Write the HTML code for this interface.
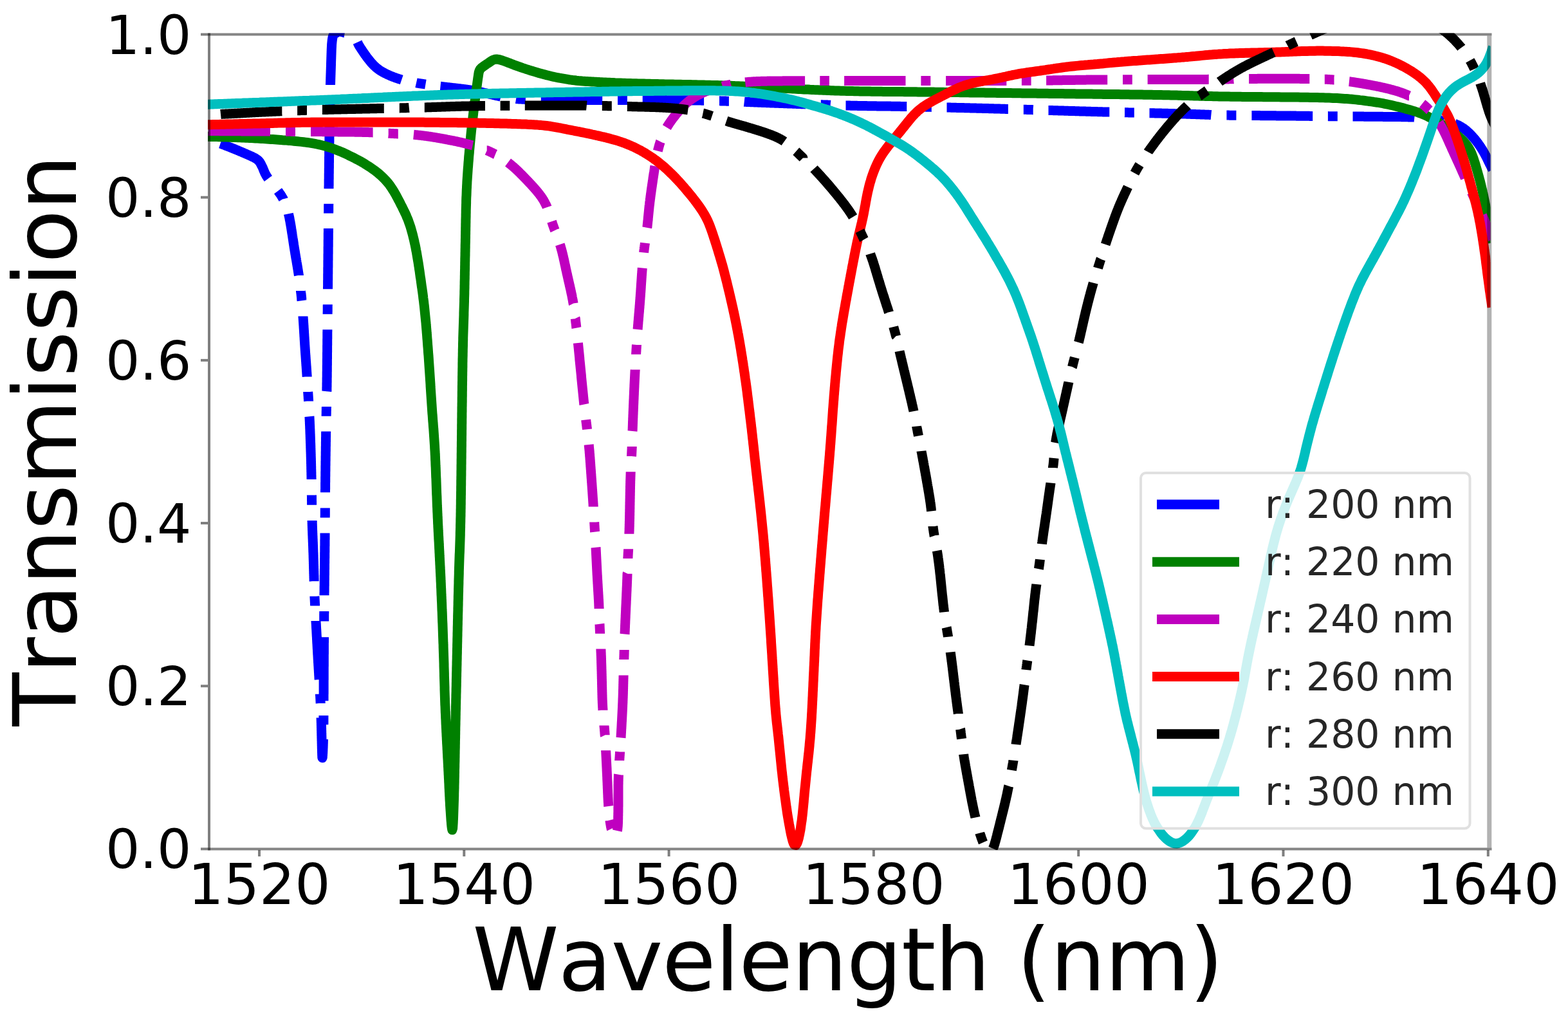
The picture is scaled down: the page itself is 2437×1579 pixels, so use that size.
<!DOCTYPE html>
<html><head><meta charset="utf-8"><title>Transmission vs Wavelength</title>
<style>
html,body{margin:0;padding:0;background:#fff;}
body{width:2437px;height:1579px;overflow:hidden;}
svg{display:block;}
text{font-family:"DejaVu Sans","Liberation Sans",sans-serif;font-kerning:none;}
</style></head>
<body>
<svg width="2437" height="1579" viewBox="0 0 2437 1579" xmlns="http://www.w3.org/2000/svg">
<defs><clipPath id="ax"><rect x="323" y="51.5" width="1993.5" height="1269.5"/></clipPath></defs>
<rect x="0" y="0" width="2437" height="1579" fill="#ffffff"/>
<g clip-path="url(#ax)">
<path d="M316.0,214.0 L316.0,214.0 L317.0,214.3 L317.9,214.6 L318.9,214.9 L319.8,215.2 M342.5,223.1 L342.5,223.1 L343.4,223.4 L344.4,223.8 L345.3,224.1 L346.2,224.5 L347.2,224.8 L348.1,225.2 L349.0,225.5 L350.0,225.9 L350.9,226.3 L351.8,226.6 L352.8,227.0 L353.7,227.4 L354.6,227.7 L355.6,228.1 L356.5,228.5 L357.4,228.8 L358.3,229.2 L359.3,229.6 L360.2,229.9 L361.1,230.3 L362.0,230.7 L363.0,231.1 L363.9,231.4 L364.8,231.8 L365.8,232.2 L366.7,232.6 L367.6,233.0 L368.5,233.3 L369.5,233.7 L370.4,234.1 L371.3,234.5 L372.2,234.9 L373.1,235.3 L374.1,235.6 L375.0,236.0 L375.9,236.4 L376.8,236.8 L377.7,237.2 L378.6,237.6 L379.5,238.0 L380.4,238.4 L381.4,238.8 L382.3,239.2 L383.2,239.6 L384.1,240.0 L385.0,240.4 L386.0,240.8 L386.9,241.2 L387.8,241.6 L388.7,242.0 L389.6,242.4 L390.5,242.8 L391.4,243.2 L392.3,243.6 L393.2,244.1 L394.1,244.5 L395.0,245.0 L395.8,245.4 L396.7,245.9 L397.5,246.4 L398.4,247.0 L399.2,247.5 L400.0,248.1 L400.7,248.7 L401.5,249.4 L402.2,250.1 L402.8,250.8 L403.5,251.6 L404.0,252.4 L404.5,253.2 L405.0,254.1 L405.5,255.0 L405.9,255.9 L406.3,256.8 L406.8,257.7 L407.3,258.5 L407.7,259.4 L408.2,260.3 L408.6,261.3 L408.9,262.2 L409.3,263.1 L409.7,264.1 L410.0,265.0 L410.4,265.9 L410.8,266.8 L411.2,267.7 L411.6,268.7 L412.0,269.6 L412.5,270.4 L413.0,271.3 L413.4,272.2 L413.9,273.1 L414.5,273.9 L415.0,274.8 L415.5,275.6 L416.1,276.4 L416.6,277.2 L416.9,277.6 M432.0,296.7 L432.0,296.7 L432.6,297.5 L433.2,298.3 L433.7,299.1 L434.3,299.9 L434.9,300.7 L435.5,301.5 L436.0,302.3 L436.5,303.1 L437.1,303.9 L437.6,304.8 L438.1,305.6 L438.6,306.5 L439.1,307.3 L439.6,308.2 L440.1,309.0 L440.2,309.4 M448.4,332.2 L448.4,332.2 L448.6,333.2 L448.8,334.1 L449.0,335.1 L449.3,336.1 L449.5,337.1 L449.7,338.0 L449.9,339.0 L450.1,340.0 L450.2,341.0 L450.4,341.9 L450.6,342.9 L450.8,343.9 L451.0,344.9 L451.2,345.9 L451.3,346.9 L451.5,347.8 L451.7,348.8 L451.8,349.8 L452.0,350.8 L452.2,351.8 L452.3,352.8 L452.5,353.8 L452.7,354.8 L452.8,355.7 L453.0,356.7 L453.1,357.7 L453.3,358.7 L453.4,359.7 L453.6,360.7 L453.7,361.7 L453.9,362.7 L454.1,363.6 L454.2,364.6 L454.4,365.6 L454.5,366.6 L454.7,367.6 L454.8,368.6 L455.0,369.6 L455.1,370.6 L455.3,371.6 L455.4,372.5 L455.6,373.5 L455.7,374.5 L455.9,375.5 L456.0,376.5 L456.2,377.5 L456.3,378.5 L456.5,379.5 L456.6,380.4 L456.8,381.4 L456.9,382.4 L457.1,383.4 L457.2,384.4 L457.4,385.4 L457.6,386.4 L457.7,387.4 L457.9,388.3 L458.0,389.3 L458.2,390.3 L458.4,391.3 L458.5,392.3 L458.7,393.3 L458.8,394.3 L459.0,395.3 L459.2,396.2 L459.3,397.2 L459.5,398.2 L459.7,399.2 L459.8,400.2 L460.0,401.2 L460.2,402.2 L460.4,403.1 L460.5,404.1 L460.7,405.1 L460.9,406.1 L461.0,407.1 L461.2,408.1 L461.4,409.1 L461.5,410.0 L461.7,411.0 L461.9,412.0 L462.0,413.0 L462.2,414.0 L462.4,415.0 L462.5,416.0 L462.7,416.9 L462.8,417.9 L463.0,418.9 L463.2,419.9 L463.3,420.9 L463.5,421.9 L463.6,422.9 L463.8,423.9 L463.9,424.8 L464.1,425.8 L464.2,426.8 L464.4,427.8 L464.4,428.0 M467.5,452.1 L467.5,452.6 L467.6,453.6 L467.7,454.6 L467.9,455.6 L468.0,456.6 L468.1,457.6 L468.2,458.6 L468.3,459.6 L468.4,460.6 L468.5,461.6 L468.6,462.6 L468.7,463.6 L468.7,464.6 L468.8,465.5 L468.9,466.5 L469.0,467.2 M471.0,491.5 L471.0,491.5 L471.0,492.5 L471.1,493.5 L471.2,494.5 L471.2,495.5 L471.3,496.4 L471.4,497.4 L471.4,498.4 L471.5,499.4 L471.6,500.4 L471.6,501.4 L471.7,502.4 L471.8,503.4 L471.8,504.4 L471.9,505.4 L472.0,506.4 L472.0,507.4 L472.1,508.4 L472.1,509.4 L472.2,510.4 L472.3,511.4 L472.3,512.4 L472.4,513.4 L472.5,514.4 L472.5,515.4 L472.6,516.4 L472.6,517.4 L472.7,518.4 L472.8,519.4 L472.8,520.4 L472.9,521.4 L472.9,522.4 L473.0,523.4 L473.1,524.4 L473.1,525.4 L473.2,526.4 L473.2,527.4 L473.3,528.4 L473.4,529.4 L473.4,530.4 L473.5,531.4 L473.6,532.4 L473.6,533.4 L473.7,534.4 L473.7,535.4 L473.8,536.4 L473.9,537.4 L473.9,538.4 L474.0,539.4 L474.1,540.4 L474.1,541.4 L474.2,542.4 L474.3,543.4 L474.3,544.4 L474.4,545.4 L474.5,546.4 L474.5,547.4 L474.6,548.4 L474.7,549.3 L474.7,550.3 L474.8,551.3 L474.9,552.3 L475.0,553.3 L475.0,554.3 L475.1,555.3 L475.2,556.3 L475.2,557.3 L475.3,558.3 L475.4,559.3 L475.4,560.3 L475.5,561.3 L475.6,562.3 L475.7,563.3 L475.7,564.3 L475.8,565.3 L475.9,566.3 L475.9,567.3 L476.0,568.3 L476.1,569.3 L476.2,570.3 L476.2,571.3 L476.3,572.3 L476.4,573.3 L476.4,574.3 L476.5,575.3 L476.6,576.3 L476.6,577.3 L476.7,578.3 L476.8,579.3 L476.8,580.3 L476.9,581.3 L477.0,582.3 L477.0,583.3 L477.1,584.3 L477.2,585.3 L477.2,585.5 M478.7,609.0 L478.7,609.2 L478.8,610.2 L478.8,611.2 L478.9,612.2 L479.0,613.2 L479.0,614.2 L479.1,615.2 L479.2,616.2 L479.2,617.2 L479.3,618.2 L479.3,619.2 L479.4,620.2 L479.5,621.2 L479.5,622.2 L479.6,623.2 L479.6,623.6 M480.9,647.2 L480.9,647.2 L481.0,648.2 L481.0,649.2 L481.1,650.2 L481.1,651.2 L481.2,652.2 L481.2,653.2 L481.3,654.2 L481.3,655.2 L481.4,656.2 L481.4,657.2 L481.4,658.2 L481.5,659.2 L481.5,660.1 L481.6,661.1 L481.6,662.1 L481.7,663.1 L481.7,664.1 L481.7,665.1 L481.8,666.1 L481.8,667.1 L481.9,668.1 L481.9,669.1 L481.9,670.1 L482.0,671.1 L482.0,672.1 L482.0,673.1 L482.1,674.1 L482.1,675.1 L482.2,676.1 L482.2,677.1 L482.2,678.1 L482.3,679.1 L482.3,680.1 L482.3,681.1 L482.4,682.1 L482.4,683.1 L482.4,684.1 L482.5,685.1 L482.5,686.1 L482.5,687.1 L482.6,688.1 L482.6,689.1 L482.7,690.1 L482.7,691.1 L482.7,692.1 L482.8,693.1 L482.8,694.1 L482.8,695.1 L482.8,696.1 L482.9,697.1 L482.9,698.1 L482.9,699.1 L483.0,700.1 L483.0,701.1 L483.0,702.1 L483.1,703.1 L483.1,704.1 L483.1,705.1 L483.2,706.1 L483.2,707.1 L483.2,708.1 L483.2,709.1 L483.3,710.1 L483.3,711.1 L483.3,712.1 L483.4,713.1 L483.4,714.1 L483.4,715.1 L483.4,716.1 L483.5,717.1 L483.5,718.1 L483.5,719.1 L483.5,720.1 L483.6,721.1 L483.6,722.1 L483.6,723.1 L483.6,724.1 L483.7,725.1 L483.7,726.1 L483.7,727.1 L483.7,728.1 L483.7,729.1 L483.8,730.1 L483.8,731.1 L483.8,732.1 L483.8,733.1 L483.9,734.1 L483.9,735.1 L483.9,736.1 L483.9,737.1 L483.9,738.1 L484.0,739.1 L484.0,740.1 L484.0,741.1 L484.0,742.1 L484.0,743.1 L484.1,744.1 L484.1,744.9 M484.4,769.4 L484.4,770.1 L484.5,771.1 L484.5,772.1 L484.5,773.1 L484.5,774.1 L484.5,775.1 L484.5,776.1 L484.5,777.1 L484.5,778.1 L484.6,779.1 L484.6,780.1 L484.6,781.1 L484.6,782.1 L484.6,783.1 L484.6,784.1 L484.6,784.7 M485.1,809.1 L485.1,809.1 L485.1,810.1 L485.2,811.1 L485.2,812.1 L485.2,813.1 L485.2,814.1 L485.3,815.1 L485.3,816.1 L485.3,817.1 L485.4,818.1 L485.4,819.1 L485.4,820.1 L485.5,821.1 L485.5,822.1 L485.5,823.1 L485.6,824.1 L485.6,825.1 L485.7,826.1 L485.7,827.1 L485.7,828.1 L485.8,829.1 L485.8,830.1 L485.8,831.1 L485.9,832.1 L485.9,833.1 L486.0,834.1 L486.0,835.1 L486.0,836.1 L486.1,837.1 L486.1,838.1 L486.2,839.1 L486.2,840.1 L486.2,841.1 L486.3,842.1 L486.3,843.1 L486.4,844.1 L486.4,845.1 L486.4,846.1 L486.5,847.1 L486.5,848.1 L486.6,849.1 L486.6,850.1 L486.6,851.1 L486.7,852.1 L486.7,853.1 L486.7,854.1 L486.8,855.1 L486.8,856.1 L486.8,857.1 L486.9,858.1 L486.9,859.1 L487.0,860.1 L487.0,861.1 L487.0,862.1 L487.1,863.1 L487.1,864.1 L487.1,865.1 L487.1,866.1 L487.2,867.1 L487.2,868.1 L487.2,869.1 L487.3,870.1 L487.3,871.1 L487.3,872.1 L487.4,873.1 L487.4,874.1 L487.4,875.1 L487.4,876.1 L487.5,877.1 L487.5,878.1 L487.5,879.1 L487.6,880.1 L487.6,881.1 L487.6,882.1 L487.6,883.1 L487.7,884.1 L487.7,885.1 L487.7,886.1 L487.7,887.1 L487.8,888.1 L487.8,889.1 L487.8,890.1 L487.8,891.1 L487.9,892.1 L487.9,893.1 L487.9,894.1 L488.0,895.1 L488.0,896.1 L488.0,897.1 L488.0,898.1 L488.1,899.1 L488.1,900.1 L488.1,901.1 L488.1,902.1 L488.2,903.1 L488.2,903.3 M488.9,926.8 L488.9,927.1 L489.0,928.1 L489.0,929.1 L489.1,930.1 L489.1,931.1 L489.2,932.1 L489.2,933.1 L489.3,934.1 L489.3,935.1 L489.4,936.1 L489.4,937.1 L489.5,938.1 L489.5,939.1 L489.6,940.1 L489.6,941.1 L489.6,941.5 M491.0,965.0 L491.0,965.0 L491.0,966.0 L491.1,967.0 L491.1,968.0 L491.2,969.0 L491.3,970.0 L491.3,971.0 L491.4,972.0 L491.4,973.0 L491.5,974.0 L491.5,975.0 L491.6,976.0 L491.6,977.0 L491.7,978.0 L491.8,979.0 L491.8,980.0 L491.9,981.0 L491.9,982.0 L492.0,983.0 L492.0,984.0 L492.1,985.0 L492.1,986.0 L492.2,987.0 L492.2,988.0 L492.3,989.0 L492.4,990.0 L492.4,991.0 L492.5,992.0 L492.5,993.0 L492.6,994.0 L492.6,995.0 L492.7,996.0 L492.7,997.0 L492.8,998.0 L492.8,999.0 L492.9,1000.0 L493.0,1001.0 L493.0,1002.0 L493.1,1003.0 L493.1,1004.0 L493.2,1005.0 L493.2,1006.0 L493.3,1007.0 L493.3,1008.0 L493.4,1009.0 L493.5,1010.0 L493.5,1011.0 L493.6,1012.0 L493.6,1013.0 L493.7,1014.0 L493.7,1015.0 L493.8,1016.0 L493.8,1016.9 L493.9,1017.9 L494.0,1018.9 L494.0,1019.9 L494.1,1020.9 L494.1,1021.9 L494.2,1022.9 L494.2,1023.9 L494.3,1024.9 L494.4,1025.9 L494.4,1026.9 L494.5,1027.9 L494.5,1028.9 L494.6,1029.9 L494.7,1030.9 L494.7,1031.9 L494.8,1032.9 L494.8,1033.9 L494.9,1034.9 L495.0,1035.9 L495.0,1036.9 L495.1,1037.9 L495.1,1038.9 L495.2,1039.9 L495.3,1040.9 L495.3,1041.9 L495.4,1042.9 L495.4,1043.9 L495.5,1044.9 L495.6,1045.9 L495.6,1046.9 L495.7,1047.9 L495.7,1048.9 L495.8,1049.9 L495.9,1050.9 L495.9,1051.9 L496.0,1052.9 L496.0,1053.9 L496.1,1054.9 L496.2,1055.9 L496.2,1055.9 M497.5,1078.7 L497.5,1078.9 L497.5,1079.9 L497.6,1080.9 L497.6,1081.8 L497.7,1082.8 L497.7,1083.8 L497.8,1084.8 L497.8,1085.8 L497.9,1086.8 L497.9,1087.8 L498.0,1088.8 L498.0,1089.8 L498.1,1090.8 L498.1,1091.8 L498.2,1092.8 L498.2,1092.9 M499.1,1115.6 L499.1,1115.8 L499.1,1116.8 L499.2,1117.8 L499.2,1118.8 L499.2,1119.8 L499.3,1120.8 L499.3,1121.8 L499.3,1122.8 L499.4,1123.8 L499.4,1124.8 L499.4,1125.8 L499.4,1126.8 L499.5,1127.8 L499.5,1128.8 L499.5,1129.8 L499.5,1130.8 L499.6,1131.8 L499.6,1132.8 L499.6,1133.8 L499.6,1134.8 L499.7,1135.8 L499.7,1136.8 L499.7,1137.8 L499.7,1138.8 L499.8,1139.8 L499.8,1140.8 L499.8,1141.8 L499.8,1142.8 L499.9,1143.8 L499.9,1144.8 L499.9,1145.8 L499.9,1146.8 L500.0,1147.8 L500.0,1148.8 L500.0,1149.8 L500.0,1150.8 L500.1,1151.8 L500.1,1152.8 L500.1,1153.8 L500.1,1154.8 L500.2,1155.8 L500.2,1156.8 L500.2,1157.8 L500.2,1158.8 L500.3,1159.8 L500.3,1160.8 L500.3,1161.8 L500.3,1162.8 L500.4,1163.8 L500.4,1164.8 L500.4,1165.8 L500.4,1166.8 L500.5,1167.8 L500.5,1168.8 L500.5,1169.8 L500.6,1170.8 L500.6,1171.8 L500.6,1172.8 L500.7,1173.8 L500.7,1174.8 L500.8,1175.8 L500.8,1176.8 L500.9,1177.8 L501.2,1177.2 L501.3,1176.2 L501.3,1175.2 L501.4,1174.2 L501.5,1173.2 L501.5,1172.2 L501.6,1171.2 L501.7,1170.3 L501.7,1169.3 L501.8,1168.3 L501.8,1167.3 L501.9,1166.3 L501.9,1165.3 L501.9,1164.3 L502.0,1163.3 L502.0,1162.3 L502.1,1161.3 L502.1,1160.3 L502.1,1159.3 L502.2,1158.2 L502.2,1157.3 L502.2,1156.3 L502.3,1155.3 L502.3,1154.3 L502.3,1153.2 L502.4,1152.2 L502.4,1151.2 L502.4,1150.2 L502.4,1149.2 L502.4,1149.0 M502.8,1126.3 L502.8,1125.3 L502.9,1124.3 L502.9,1123.3 L502.9,1122.3 L502.9,1121.3 L502.9,1120.3 L502.9,1119.3 L502.9,1118.3 L502.9,1117.3 L502.9,1116.3 L502.9,1115.3 L502.9,1114.3 L502.9,1113.3 L502.9,1112.3 L502.9,1112.0 M503.0,1089.3 L503.0,1089.3 L503.0,1088.3 L503.0,1087.3 L503.0,1086.3 L503.0,1085.3 L503.0,1084.3 L503.0,1083.3 L503.0,1082.3 L503.0,1081.3 L503.0,1080.3 L503.0,1079.3 L503.1,1078.3 L503.1,1077.3 L503.1,1076.3 L503.1,1075.3 L503.1,1074.3 L503.1,1073.3 L503.1,1072.3 L503.1,1071.3 L503.1,1070.3 L503.1,1069.3 L503.1,1068.3 L503.1,1067.3 L503.1,1066.3 L503.1,1065.3 L503.1,1064.3 L503.1,1063.3 L503.1,1062.3 L503.1,1061.3 L503.1,1060.3 L503.1,1059.3 L503.1,1058.3 L503.1,1057.3 L503.2,1056.3 L503.2,1055.3 L503.2,1054.3 L503.2,1053.3 L503.2,1052.3 L503.2,1051.3 L503.2,1050.3 L503.2,1049.3 L503.2,1048.3 L503.2,1047.3 L503.2,1046.3 L503.2,1045.3 L503.2,1044.3 L503.2,1043.3 L503.2,1042.3 L503.2,1041.3 L503.2,1040.3 L503.2,1039.3 L503.2,1038.3 L503.2,1037.3 L503.2,1036.3 L503.3,1035.3 L503.3,1034.3 L503.3,1033.3 L503.3,1032.3 L503.3,1031.3 L503.3,1030.3 L503.3,1029.3 L503.3,1028.3 L503.3,1027.3 L503.3,1026.3 L503.3,1025.3 L503.3,1024.3 L503.3,1023.3 L503.3,1022.3 L503.3,1021.3 L503.3,1020.3 L503.3,1019.3 L503.3,1018.3 L503.3,1017.3 L503.4,1016.3 L503.4,1015.3 L503.4,1014.3 L503.4,1013.3 L503.4,1012.3 L503.4,1011.3 L503.4,1010.3 L503.4,1009.3 L503.4,1008.3 L503.4,1007.3 L503.4,1006.3 L503.4,1005.3 L503.4,1004.3 L503.4,1003.3 L503.4,1002.3 L503.4,1001.3 L503.4,1000.3 L503.4,999.3 L503.5,998.3 L503.5,997.3 L503.5,996.3 L503.5,995.3 L503.5,994.3 L503.5,993.3 L503.5,992.3 L503.5,991.3 L503.5,990.3 L503.5,990.2 M503.7,965.5 L503.7,965.3 L503.7,964.3 L503.7,963.3 L503.7,962.3 L503.7,961.3 L503.7,960.3 L503.7,959.3 L503.7,958.3 L503.7,957.3 L503.7,956.3 L503.7,955.3 L503.7,954.3 L503.8,953.3 L503.8,952.3 L503.8,951.3 L503.8,950.3 L503.8,950.0 M504.0,925.3 L504.0,925.3 L504.0,924.3 L504.0,923.3 L504.0,922.3 L504.0,921.3 L504.1,920.3 L504.1,919.3 L504.1,918.3 L504.1,917.3 L504.1,916.3 L504.1,915.3 L504.1,914.3 L504.1,913.3 L504.1,912.3 L504.1,911.3 L504.2,910.3 L504.2,909.3 L504.2,908.2 L504.2,907.2 L504.2,906.2 L504.2,905.2 L504.2,904.2 L504.2,903.2 L504.2,902.2 L504.3,901.2 L504.3,900.2 L504.3,899.2 L504.3,898.2 L504.3,897.2 L504.3,896.2 L504.3,895.2 L504.3,894.2 L504.4,893.2 L504.4,892.2 L504.4,891.2 L504.4,890.2 L504.4,889.2 L504.4,888.2 L504.4,887.2 L504.4,886.2 L504.4,885.2 L504.5,884.2 L504.5,883.2 L504.5,882.2 L504.5,881.2 L504.5,880.2 L504.5,879.2 L504.5,878.2 L504.5,877.2 L504.5,876.2 L504.6,875.2 L504.6,874.2 L504.6,873.2 L504.6,872.2 L504.6,871.2 L504.6,870.2 L504.6,869.2 L504.6,868.2 L504.7,867.2 L504.7,866.2 L504.7,865.2 L504.7,864.2 L504.7,863.2 L504.7,862.2 L504.7,861.2 L504.7,860.2 L504.7,859.2 L504.8,858.2 L504.8,857.2 L504.8,856.2 L504.8,855.2 L504.8,854.2 L504.8,853.2 L504.8,852.2 L504.8,851.2 L504.8,850.2 L504.8,849.2 L504.9,848.2 L504.9,847.2 L504.9,846.2 L504.9,845.2 L504.9,844.2 L504.9,843.2 L504.9,842.2 L504.9,841.2 L504.9,840.2 L504.9,839.2 L505.0,838.2 L505.0,837.2 L505.0,836.2 L505.0,835.2 L505.0,834.2 L505.0,833.2 L505.0,832.2 L505.0,831.2 L505.0,830.2 L505.0,829.2 L505.0,828.6 M505.2,804.5 L505.2,804.2 L505.2,803.2 L505.2,802.2 L505.3,801.2 L505.3,800.2 L505.3,799.2 L505.3,798.2 L505.3,797.2 L505.3,796.2 L505.3,795.2 L505.3,794.2 L505.3,793.2 L505.3,792.2 L505.3,791.2 L505.3,790.2 L505.3,789.4 M505.5,765.2 L505.5,765.2 L505.5,764.2 L505.5,763.2 L505.5,762.2 L505.5,761.2 L505.6,760.2 L505.6,759.2 L505.6,758.2 L505.6,757.2 L505.6,756.2 L505.6,755.2 L505.6,754.2 L505.6,753.2 L505.6,752.2 L505.6,751.2 L505.6,750.2 L505.7,749.2 L505.7,748.2 L505.7,747.2 L505.7,746.2 L505.7,745.2 L505.7,744.2 L505.7,743.2 L505.7,742.2 L505.7,741.2 L505.8,740.2 L505.8,739.2 L505.8,738.2 L505.8,737.2 L505.8,736.2 L505.8,735.2 L505.8,734.2 L505.8,733.2 L505.9,732.2 L505.9,731.2 L505.9,730.2 L505.9,729.2 L505.9,728.2 L505.9,727.2 L505.9,726.2 L505.9,725.2 L505.9,724.2 L506.0,723.2 L506.0,722.2 L506.0,721.2 L506.0,720.2 L506.0,719.2 L506.0,718.2 L506.0,717.2 L506.1,716.2 L506.1,715.2 L506.1,714.2 L506.1,713.2 L506.1,712.2 L506.1,711.2 L506.1,710.2 L506.1,709.2 L506.2,708.2 L506.2,707.2 L506.2,706.2 L506.2,705.2 L506.2,704.2 L506.2,703.2 L506.2,702.2 L506.3,701.2 L506.3,700.2 L506.3,699.2 L506.3,698.2 L506.3,697.2 L506.3,696.2 L506.3,695.2 L506.3,694.2 L506.4,693.2 L506.4,692.2 L506.4,691.2 L506.4,690.2 L506.4,689.2 L506.4,688.2 L506.4,687.2 L506.5,686.2 L506.5,685.2 L506.5,684.2 L506.5,683.2 L506.5,682.2 L506.5,681.2 L506.5,680.2 L506.6,679.2 L506.6,678.2 L506.6,677.2 L506.6,676.2 L506.6,675.2 L506.6,674.2 L506.6,673.2 L506.7,672.2 L506.7,671.2 L506.7,670.4 M507.1,646.7 L507.1,646.2 L507.1,645.2 L507.1,644.2 L507.2,643.2 L507.2,642.2 L507.2,641.2 L507.2,640.2 L507.2,639.2 L507.3,638.2 L507.3,637.2 L507.3,636.2 L507.3,635.2 L507.3,634.2 L507.4,633.2 L507.4,632.2 L507.4,631.9 M507.8,608.2 L507.8,608.2 L507.9,607.2 L507.9,606.2 L507.9,605.2 L507.9,604.2 L507.9,603.2 L507.9,602.2 L508.0,601.2 L508.0,600.2 L508.0,599.2 L508.0,598.2 L508.0,597.2 L508.0,596.2 L508.0,595.2 L508.1,594.2 L508.1,593.2 L508.1,592.2 L508.1,591.2 L508.1,590.2 L508.1,589.2 L508.1,588.2 L508.1,587.2 L508.2,586.2 L508.2,585.2 L508.2,584.2 L508.2,583.2 L508.2,582.2 L508.2,581.2 L508.2,580.2 L508.2,579.2 L508.2,578.2 L508.3,577.2 L508.3,576.2 L508.3,575.2 L508.3,574.2 L508.3,573.2 L508.3,572.2 L508.3,571.2 L508.3,570.2 L508.3,569.2 L508.3,568.2 L508.4,567.2 L508.4,566.2 L508.4,565.2 L508.4,564.2 L508.4,563.2 L508.4,562.2 L508.4,561.2 L508.4,560.2 L508.4,559.2 L508.4,558.2 L508.5,557.2 L508.5,556.2 L508.5,555.2 L508.5,554.2 L508.5,553.2 L508.5,552.2 L508.5,551.2 L508.5,550.2 L508.5,549.2 L508.5,548.2 L508.6,547.2 L508.6,546.2 L508.6,545.2 L508.6,544.2 L508.6,543.2 L508.6,542.2 L508.6,541.2 L508.6,540.2 L508.6,539.2 L508.6,538.2 L508.6,537.2 L508.7,536.2 L508.7,535.2 L508.7,534.2 L508.7,533.2 L508.7,532.2 L508.7,531.2 L508.7,530.2 L508.7,529.2 L508.7,528.2 L508.7,527.2 L508.8,526.2 L508.8,525.2 L508.8,524.2 L508.8,523.2 L508.8,522.2 L508.8,521.2 L508.8,520.2 L508.8,519.2 L508.8,518.2 L508.8,517.2 L508.8,516.2 L508.9,515.2 L508.9,514.2 L508.9,513.2 L508.9,512.2 L508.9,512.2 M509.1,488.2 L509.1,487.2 L509.1,486.2 L509.1,485.2 L509.2,484.2 L509.2,483.2 L509.2,482.2 L509.2,481.2 L509.2,480.2 L509.2,479.2 L509.2,478.2 L509.2,477.2 L509.2,476.2 L509.2,475.2 L509.3,474.2 L509.3,473.2 L509.3,473.2 M509.5,449.2 L509.5,449.2 L509.5,448.2 L509.5,447.2 L509.5,446.2 L509.6,445.2 L509.6,444.2 L509.6,443.2 L509.6,442.2 L509.6,441.2 L509.6,440.2 L509.6,439.2 L509.6,438.2 L509.6,437.2 L509.6,436.2 L509.7,435.2 L509.7,434.2 L509.7,433.2 L509.7,432.2 L509.7,431.2 L509.7,430.2 L509.7,429.2 L509.7,428.2 L509.7,427.2 L509.7,426.2 L509.8,425.2 L509.8,424.2 L509.8,423.2 L509.8,422.2 L509.8,421.2 L509.8,420.2 L509.8,419.2 L509.8,418.2 L509.8,417.2 L509.8,416.2 L509.9,415.2 L509.9,414.2 L509.9,413.2 L509.9,412.2 L509.9,411.2 L509.9,410.2 L509.9,409.2 L509.9,408.2 L509.9,407.2 L509.9,406.2 L509.9,405.2 L510.0,404.2 L510.0,403.2 L510.0,402.2 L510.0,401.2 L510.0,400.2 L510.0,399.2 L510.0,398.2 L510.0,397.2 L510.0,396.2 L510.0,395.2 L510.1,394.2 L510.1,393.2 L510.1,392.2 L510.1,391.2 L510.1,390.2 L510.1,389.2 L510.1,388.2 L510.1,387.2 L510.1,386.2 L510.1,385.2 L510.1,384.2 L510.2,383.2 L510.2,382.2 L510.2,381.2 L510.2,380.2 L510.2,379.2 L510.2,378.2 L510.2,377.2 L510.2,376.2 L510.2,375.2 L510.2,374.2 L510.2,373.2 L510.3,372.2 L510.3,371.2 L510.3,370.2 L510.3,369.2 L510.3,368.2 L510.3,367.2 L510.3,366.2 L510.3,365.2 L510.3,364.2 L510.3,363.2 L510.3,362.2 L510.4,361.2 L510.4,360.2 L510.4,359.2 L510.4,358.2 L510.4,357.2 L510.4,356.2 L510.4,355.2 L510.4,355.0 M510.6,331.5 L510.6,331.2 L510.6,330.2 L510.7,329.2 L510.7,328.2 L510.7,327.2 L510.7,326.2 L510.7,325.2 L510.7,324.2 L510.7,323.2 L510.7,322.2 L510.7,321.2 L510.7,320.2 L510.7,319.2 L510.8,318.2 L510.8,317.2 L510.8,316.7 M511.0,293.2 L511.0,293.2 L511.0,292.2 L511.0,291.2 L511.0,290.2 L511.0,289.2 L511.1,288.2 L511.1,287.2 L511.1,286.2 L511.1,285.2 L511.1,284.2 L511.1,283.2 L511.1,282.2 L511.1,281.2 L511.1,280.2 L511.1,279.2 L511.2,278.2 L511.2,277.2 L511.2,276.2 L511.2,275.2 L511.2,274.2 L511.2,273.2 L511.2,272.2 L511.2,271.2 L511.2,270.2 L511.3,269.2 L511.3,268.2 L511.3,267.2 L511.3,266.2 L511.3,265.2 L511.3,264.2 L511.3,263.2 L511.3,262.2 L511.4,261.2 L511.4,260.2 L511.4,259.2 L511.4,258.2 L511.4,257.2 L511.4,256.2 L511.4,255.2 L511.4,254.2 L511.4,253.2 L511.5,252.2 L511.5,251.2 L511.5,250.2 L511.5,249.2 L511.5,248.2 L511.5,247.2 L511.5,246.2 L511.5,245.2 L511.5,244.2 L511.6,243.2 L511.6,242.2 L511.6,241.2 L511.6,240.2 L511.6,239.2 L511.6,238.2 L511.6,237.2 L511.6,236.2 L511.7,235.2 L511.7,234.2 L511.7,233.2 L511.7,232.2 L511.7,231.2 L511.7,230.2 L511.7,229.2 L511.7,228.2 L511.8,227.2 L511.8,226.2 L511.8,225.2 L511.8,224.2 L511.8,223.2 L511.8,222.2 L511.8,221.2 L511.9,220.2 L511.9,219.2 L511.9,218.2 L511.9,217.2 L511.9,216.2 L511.9,215.2 L511.9,214.2 L511.9,213.2 L512.0,212.2 L512.0,211.2 L512.0,210.2 L512.0,209.2 L512.0,208.2 L512.0,207.2 L512.0,206.2 L512.1,205.2 L512.1,204.2 L512.1,203.2 L512.1,202.2 L512.1,201.2 L512.1,200.2 L512.1,199.2 L512.2,198.2 L512.2,197.2 L512.2,196.2 L512.2,195.8 M512.6,171.5 L512.6,171.2 L512.6,170.2 L512.6,169.2 L512.6,168.2 L512.7,167.2 L512.7,166.2 L512.7,165.2 L512.7,164.2 L512.7,163.2 L512.8,162.2 L512.8,161.2 L512.8,160.2 L512.8,159.2 L512.8,158.2 L512.9,157.2 L512.9,156.3 M513.5,131.9 L513.5,131.2 L513.5,130.2 L513.6,129.2 L513.6,128.2 L513.6,127.2 L513.7,126.2 L513.7,125.2 L513.7,124.2 L513.7,123.2 L513.8,122.2 L513.8,121.2 L513.8,120.2 L513.9,119.2 L513.9,118.2 L513.9,117.2 L514.0,116.2 L514.0,115.2 L514.0,114.2 L514.1,113.2 L514.1,112.2 L514.1,111.2 L514.2,110.2 L514.2,109.2 L514.2,108.2 L514.3,107.2 L514.3,106.2 L514.3,105.2 L514.4,104.2 L514.4,103.2 L514.4,102.2 L514.5,101.2 L514.5,100.2 L514.5,99.2 L514.5,98.2 L514.6,97.2 L514.6,96.2 L514.6,95.2 L514.7,94.2 L514.7,93.2 L514.7,92.2 L514.8,91.2 L514.8,90.2 L514.8,89.2 L514.9,88.2 L514.9,87.2 L514.9,86.2 L515.0,85.2 L515.0,84.2 L515.0,83.2 L515.1,82.2 L515.1,81.2 L515.1,80.2 L515.2,79.2 L515.2,78.2 L515.2,77.2 L515.3,76.2 L515.3,75.2 L515.4,74.2 L515.4,73.2 L515.5,72.2 L515.5,71.2 L515.6,70.2 L515.6,69.2 L515.7,68.2 L515.8,67.2 L515.9,66.2 L516.0,65.2 L516.1,64.2 L516.2,63.3 L516.3,62.3 L516.5,61.3 L516.6,60.3 L516.8,59.3 L517.0,58.3 L517.2,57.3 L517.5,56.4 L517.8,55.5 L518.2,54.7 L518.7,53.9 L519.3,53.2 L519.9,52.6 L520.6,52.2 L521.4,51.8 L522.1,51.4 L522.8,51.0 L523.5,50.5 L524.2,50.0 L525.0,49.7 L525.8,49.4 L526.7,49.2 L527.6,49.1 L528.5,49.2 L529.5,49.2 L530.5,49.4 L531.4,49.6 L532.4,49.8 L533.3,50.2 L534.2,50.5 L535.2,50.9 L535.8,51.0 M545.4,29.6 L546.1,29.0 L547.0,29.2 L547.7,29.8 L548.2,30.6 L548.6,31.5 L549.0,32.4 L549.3,33.4 L549.6,34.3 L549.8,35.3 L550.1,36.3 L550.3,37.2 L550.4,38.2 L550.6,39.2 L550.8,40.2 L550.9,41.2 L551.0,41.8 M555.6,65.6 L555.6,65.6 L556.0,66.5 L556.4,67.5 L556.8,68.4 L557.3,69.3 L557.7,70.1 L558.2,71.0 L558.7,71.9 L559.3,72.7 L559.8,73.6 L560.3,74.4 L560.9,75.2 L561.4,76.1 L562.0,76.9 L562.5,77.7 L563.1,78.6 L563.6,79.4 L564.2,80.2 L564.8,81.1 L565.3,81.9 L565.9,82.7 L566.5,83.5 L567.0,84.4 L567.6,85.2 L568.2,86.0 L568.8,86.8 L569.3,87.6 L569.9,88.4 L570.5,89.2 L571.1,90.0 L571.7,90.8 L572.3,91.6 L573.0,92.3 L573.6,93.1 L574.2,93.9 L574.8,94.6 L575.4,95.4 L576.1,96.2 L576.7,96.9 L577.3,97.7 L578.0,98.4 L578.6,99.1 L579.3,99.8 L580.0,100.6 L580.6,101.2 L581.3,101.9 L582.0,102.6 L582.7,103.3 L583.5,103.9 L584.2,104.6 L584.9,105.2 L585.7,105.8 L586.4,106.4 L587.2,107.0 L588.0,107.6 L588.7,108.2 L589.5,108.7 L590.3,109.3 L591.1,109.8 L592.0,110.3 L592.8,110.8 L593.6,111.3 L594.5,111.8 L595.3,112.3 L596.2,112.7 L597.0,113.2 L597.9,113.7 L598.8,114.1 L599.7,114.5 L600.5,115.0 L601.4,115.4 L602.3,115.8 L603.2,116.2 L604.1,116.6 L605.0,117.0 L605.9,117.4 L606.8,117.8 L607.7,118.2 L608.7,118.6 L609.6,118.9 L610.5,119.3 L611.4,119.7 L612.3,120.0 L613.3,120.4 L614.2,120.7 L615.1,121.1 L616.1,121.4 L617.0,121.7 L617.9,122.0 L618.9,122.3 L619.8,122.7 L620.7,123.0 L621.7,123.2 L622.6,123.5 L623.6,123.8 L624.2,124.0 M647.0,128.8 L647.9,129.0 L648.9,129.1 L649.9,129.3 L650.9,129.5 L651.9,129.6 L652.9,129.8 L653.8,129.9 L654.8,130.1 L655.8,130.2 L656.8,130.4 L657.8,130.5 L658.8,130.7 L659.8,130.9 L660.8,131.0 L661.4,131.1 M684.5,134.3 L684.5,134.3 L685.5,134.4 L686.5,134.5 L687.5,134.7 L688.5,134.8 L689.5,134.9 L690.5,135.0 L691.5,135.1 L692.5,135.2 L693.5,135.4 L694.5,135.5 L695.5,135.6 L696.5,135.7 L697.4,135.8 L698.4,135.9 L699.4,136.0 L700.4,136.1 L701.4,136.3 L702.4,136.4 L703.4,136.5 L704.4,136.6 L705.4,136.7 L706.4,136.8 L707.4,136.9 L708.4,137.0 L709.4,137.2 L710.4,137.3 L711.4,137.4 L712.4,137.5 L713.3,137.6 L714.3,137.7 L715.3,137.9 L716.3,138.0 L717.3,138.1 L718.3,138.2 L719.3,138.3 L720.3,138.5 L721.3,138.6 L722.3,138.7 L723.3,138.9 L724.3,139.0 L725.2,139.2 L726.2,139.3 L727.2,139.4 L728.2,139.6 L729.2,139.7 L730.2,139.9 L731.2,140.0 L732.2,140.2 L733.1,140.4 L734.1,140.5 L735.1,140.7 L736.1,140.9 L737.1,141.1 L738.1,141.2 L739.0,141.4 L740.0,141.6 L741.0,141.8 L742.0,142.0 L743.0,142.2 L743.9,142.4 L744.9,142.6 L745.9,142.8 L746.9,143.0 L747.9,143.2 L748.8,143.4 L749.8,143.6 L750.8,143.8 L751.8,144.0 L752.7,144.3 L753.7,144.5 L754.7,144.7 L755.7,144.9 L756.6,145.2 L757.6,145.4 L758.6,145.6 L759.6,145.8 L760.5,146.1 L761.5,146.3 L762.5,146.5 L763.5,146.8 L764.4,147.0 L765.4,147.2 L766.4,147.4 L767.3,147.7 L768.3,147.9 L769.3,148.1 L770.3,148.4 L771.2,148.6 L772.2,148.8 L773.2,149.0 L774.2,149.2 L775.1,149.5 L776.1,149.7 L777.1,149.9 L778.1,150.1 L778.5,150.2 M802.1,153.6 L802.7,153.7 L803.7,153.7 L804.7,153.8 L805.7,153.9 L806.7,153.9 L807.6,154.0 L808.6,154.0 L809.6,154.1 L810.6,154.1 L811.6,154.2 L812.6,154.2 L813.6,154.3 L814.6,154.3 L815.6,154.4 L816.6,154.4 L816.9,154.4 M840.8,154.9 L841.6,154.9 L842.6,155.0 L843.6,155.0 L844.6,155.0 L845.6,155.0 L846.6,155.0 L847.6,155.0 L848.6,155.0 L849.6,155.1 L850.6,155.1 L851.6,155.1 L852.6,155.1 L853.6,155.1 L854.6,155.1 L855.6,155.1 L856.6,155.1 L857.6,155.1 L858.6,155.2 L859.6,155.2 L860.6,155.2 L861.6,155.2 L862.6,155.2 L863.6,155.2 L864.6,155.2 L865.6,155.2 L866.6,155.2 L867.6,155.2 L868.6,155.3 L869.6,155.3 L870.6,155.3 L871.6,155.3 L872.6,155.3 L873.6,155.3 L874.6,155.3 L875.6,155.3 L876.6,155.3 L877.6,155.3 L878.6,155.3 L879.6,155.3 L880.6,155.4 L881.6,155.4 L882.6,155.4 L883.6,155.4 L884.6,155.4 L885.6,155.4 L886.6,155.4 L887.6,155.4 L888.6,155.4 L889.6,155.4 L890.6,155.4 L891.6,155.4 L892.6,155.4 L893.6,155.4 L894.6,155.5 L895.6,155.5 L896.6,155.5 L897.6,155.5 L898.6,155.5 L899.6,155.5 L900.6,155.5 L901.6,155.5 L902.6,155.5 L903.6,155.5 L904.6,155.5 L905.6,155.5 L906.6,155.5 L907.6,155.5 L908.6,155.5 L909.6,155.5 L910.6,155.5 L911.6,155.5 L912.6,155.5 L913.6,155.6 L914.6,155.6 L915.6,155.6 L916.6,155.6 L917.6,155.6 L918.6,155.6 L919.6,155.6 L920.6,155.6 L921.6,155.6 L922.6,155.6 L923.6,155.6 L924.6,155.6 L925.6,155.6 L926.6,155.6 L927.6,155.6 L928.6,155.6 L929.6,155.6 L930.6,155.6 L931.6,155.6 L932.6,155.6 L933.6,155.6 L934.6,155.6 L935.6,155.6 L936.2,155.6 M960.0,155.6 L960.6,155.6 L961.6,155.6 L962.6,155.6 L963.6,155.6 L964.6,155.6 L965.6,155.6 L966.6,155.6 L967.6,155.6 L968.6,155.6 L969.6,155.6 L970.6,155.6 L971.6,155.6 L972.6,155.6 L973.6,155.6 L974.6,155.6 L974.9,155.6 M998.7,155.6 L999.6,155.6 L1000.6,155.6 L1001.6,155.6 L1002.6,155.6 L1003.6,155.6 L1004.6,155.6 L1005.6,155.6 L1006.6,155.6 L1007.6,155.6 L1008.6,155.6 L1009.6,155.6 L1010.6,155.6 L1011.6,155.6 L1012.6,155.6 L1013.6,155.6 L1014.6,155.6 L1015.6,155.6 L1016.6,155.6 L1017.6,155.6 L1018.6,155.6 L1019.6,155.6 L1020.6,155.6 L1021.6,155.6 L1022.6,155.6 L1023.6,155.6 L1024.6,155.6 L1025.6,155.6 L1026.6,155.6 L1027.6,155.6 L1028.6,155.6 L1029.6,155.6 L1030.6,155.6 L1031.6,155.6 L1032.6,155.6 L1033.6,155.6 L1034.6,155.6 L1035.6,155.6 L1036.7,155.7 L1037.7,155.7 L1038.7,155.7 L1039.7,155.7 L1040.7,155.7 L1041.7,155.7 L1042.7,155.7 L1043.7,155.7 L1044.7,155.7 L1045.7,155.7 L1046.7,155.7 L1047.7,155.7 L1048.7,155.7 L1049.7,155.7 L1050.7,155.7 L1051.7,155.7 L1052.7,155.7 L1053.7,155.7 L1054.7,155.7 L1055.7,155.7 L1056.7,155.7 L1057.7,155.8 L1058.7,155.8 L1059.7,155.8 L1060.7,155.8 L1061.7,155.8 L1062.7,155.8 L1063.7,155.8 L1064.7,155.8 L1065.7,155.8 L1066.7,155.8 L1067.7,155.8 L1068.7,155.8 L1069.7,155.9 L1070.7,155.9 L1071.7,155.9 L1072.7,155.9 L1073.7,155.9 L1074.7,155.9 L1075.7,155.9 L1076.7,155.9 L1077.7,156.0 L1078.7,156.0 L1079.7,156.0 L1080.7,156.0 L1081.7,156.0 L1082.7,156.0 L1083.7,156.0 L1084.7,156.1 L1085.7,156.1 L1086.7,156.1 L1087.7,156.1 L1088.7,156.1 L1089.7,156.1 L1090.7,156.2 L1091.7,156.2 L1092.7,156.2 L1093.7,156.2 L1094.1,156.2 M1118.0,156.8 L1118.7,156.8 L1119.7,156.9 L1120.6,156.9 L1121.6,156.9 L1122.6,156.9 L1123.6,157.0 L1124.6,157.0 L1125.6,157.0 L1126.6,157.1 L1127.6,157.1 L1128.6,157.1 L1129.6,157.2 L1130.6,157.2 L1131.6,157.3 L1132.6,157.3 L1132.9,157.3 M1156.7,158.2 L1157.6,158.3 L1158.6,158.3 L1159.6,158.4 L1160.6,158.4 L1161.6,158.4 L1162.6,158.5 L1163.6,158.5 L1164.6,158.6 L1165.6,158.6 L1166.6,158.7 L1167.6,158.7 L1168.6,158.7 L1169.6,158.8 L1170.6,158.8 L1171.6,158.9 L1172.6,158.9 L1173.6,158.9 L1174.6,159.0 L1175.6,159.0 L1176.6,159.1 L1177.6,159.1 L1178.6,159.2 L1179.6,159.2 L1180.6,159.2 L1181.6,159.3 L1182.6,159.3 L1183.6,159.4 L1184.6,159.4 L1185.6,159.4 L1186.6,159.5 L1187.6,159.5 L1188.6,159.6 L1189.6,159.6 L1190.6,159.6 L1191.6,159.7 L1192.6,159.7 L1193.6,159.7 L1194.6,159.8 L1195.6,159.8 L1196.6,159.9 L1197.6,159.9 L1198.6,159.9 L1199.6,160.0 L1200.6,160.0 L1201.6,160.0 L1202.6,160.1 L1203.6,160.1 L1204.6,160.2 L1205.6,160.2 L1206.6,160.2 L1207.6,160.3 L1208.6,160.3 L1209.6,160.3 L1210.6,160.4 L1211.6,160.4 L1212.6,160.5 L1213.6,160.5 L1214.6,160.5 L1215.6,160.6 L1216.6,160.6 L1217.6,160.6 L1218.6,160.7 L1219.6,160.7 L1220.6,160.7 L1221.6,160.8 L1222.6,160.8 L1223.6,160.9 L1224.6,160.9 L1225.6,160.9 L1226.6,161.0 L1227.6,161.0 L1228.6,161.0 L1229.6,161.1 L1230.6,161.1 L1231.6,161.1 L1232.6,161.2 L1233.6,161.2 L1234.6,161.3 L1235.6,161.3 L1236.6,161.3 L1237.6,161.4 L1238.6,161.4 L1239.6,161.4 L1240.6,161.5 L1241.6,161.5 L1242.6,161.6 L1243.6,161.6 L1244.6,161.6 L1245.6,161.7 L1246.6,161.7 L1247.6,161.7 L1248.6,161.8 L1249.6,161.8 L1250.6,161.8 L1251.6,161.9 L1252.0,161.9 M1275.8,162.8 L1276.6,162.8 L1277.6,162.8 L1278.6,162.9 L1279.6,162.9 L1280.6,162.9 L1281.6,163.0 L1282.6,163.0 L1283.6,163.0 L1284.6,163.1 L1285.6,163.1 L1286.6,163.1 L1287.6,163.2 L1288.6,163.2 L1289.6,163.2 L1290.6,163.3 L1290.7,163.3 M1314.5,164.0 L1314.5,164.0 L1315.5,164.0 L1316.5,164.0 L1317.5,164.0 L1318.5,164.1 L1319.5,164.1 L1320.5,164.1 L1321.5,164.1 L1322.5,164.2 L1323.5,164.2 L1324.5,164.2 L1325.5,164.2 L1326.5,164.2 L1327.5,164.3 L1328.5,164.3 L1329.5,164.3 L1330.5,164.3 L1331.5,164.3 L1332.5,164.4 L1333.5,164.4 L1334.5,164.4 L1335.5,164.4 L1336.5,164.4 L1337.5,164.5 L1338.5,164.5 L1339.5,164.5 L1340.5,164.5 L1341.5,164.5 L1342.5,164.6 L1343.5,164.6 L1344.5,164.6 L1345.5,164.6 L1346.5,164.6 L1347.5,164.6 L1348.5,164.7 L1349.5,164.7 L1350.5,164.7 L1351.5,164.7 L1352.5,164.7 L1353.5,164.7 L1354.5,164.7 L1355.5,164.8 L1356.5,164.8 L1357.5,164.8 L1358.5,164.8 L1359.5,164.8 L1360.5,164.8 L1361.5,164.8 L1362.5,164.9 L1363.5,164.9 L1364.5,164.9 L1365.5,164.9 L1366.5,164.9 L1367.5,164.9 L1368.5,164.9 L1369.5,164.9 L1370.5,165.0 L1371.5,165.0 L1372.5,165.0 L1373.5,165.0 L1374.5,165.0 L1375.5,165.0 L1376.5,165.0 L1377.5,165.0 L1378.5,165.1 L1379.5,165.1 L1380.5,165.1 L1381.5,165.1 L1382.5,165.1 L1383.5,165.1 L1384.5,165.1 L1385.5,165.2 L1386.5,165.2 L1387.5,165.2 L1388.5,165.2 L1389.5,165.2 L1390.5,165.2 L1391.5,165.2 L1392.5,165.2 L1393.5,165.3 L1394.5,165.3 L1395.5,165.3 L1396.5,165.3 L1397.5,165.3 L1398.5,165.3 L1399.5,165.4 L1400.5,165.4 L1401.5,165.4 L1402.5,165.4 L1403.5,165.4 L1404.5,165.4 L1405.5,165.4 L1406.5,165.5 L1407.5,165.5 L1408.5,165.5 L1409.3,165.5 M1433.0,166.0 L1433.5,166.0 L1434.5,166.0 L1435.5,166.1 L1436.5,166.1 L1437.5,166.1 L1438.5,166.1 L1439.5,166.2 L1440.5,166.2 L1441.5,166.2 L1442.5,166.2 L1443.5,166.3 L1444.5,166.3 L1445.5,166.3 L1446.5,166.3 L1447.5,166.4 L1447.8,166.4 M1471.5,167.0 L1471.5,167.0 L1472.5,167.0 L1473.5,167.0 L1474.5,167.1 L1475.5,167.1 L1476.5,167.1 L1477.5,167.1 L1478.5,167.2 L1479.5,167.2 L1480.5,167.2 L1481.5,167.2 L1482.5,167.3 L1483.5,167.3 L1484.5,167.3 L1485.5,167.3 L1486.5,167.4 L1487.5,167.4 L1488.5,167.4 L1489.5,167.4 L1490.5,167.5 L1491.5,167.5 L1492.5,167.5 L1493.5,167.5 L1494.5,167.5 L1495.5,167.6 L1496.5,167.6 L1497.5,167.6 L1498.5,167.6 L1499.5,167.7 L1500.5,167.7 L1501.5,167.7 L1502.5,167.7 L1503.5,167.8 L1504.5,167.8 L1505.5,167.8 L1506.5,167.8 L1507.5,167.9 L1508.5,167.9 L1509.5,167.9 L1510.5,167.9 L1511.5,168.0 L1512.5,168.0 L1513.5,168.0 L1514.5,168.0 L1515.5,168.1 L1516.5,168.1 L1517.5,168.1 L1518.5,168.2 L1519.5,168.2 L1520.5,168.2 L1521.5,168.2 L1522.5,168.3 L1523.5,168.3 L1524.5,168.3 L1525.5,168.3 L1526.5,168.4 L1527.5,168.4 L1528.5,168.4 L1529.5,168.4 L1530.5,168.5 L1531.5,168.5 L1532.5,168.5 L1533.5,168.5 L1534.5,168.6 L1535.5,168.6 L1536.5,168.6 L1537.5,168.7 L1538.5,168.7 L1539.5,168.7 L1540.5,168.7 L1541.5,168.8 L1542.5,168.8 L1543.5,168.8 L1544.5,168.9 L1545.5,168.9 L1546.5,168.9 L1547.5,168.9 L1548.5,169.0 L1549.5,169.0 L1550.5,169.0 L1551.5,169.1 L1552.5,169.1 L1553.5,169.1 L1554.5,169.1 L1555.5,169.2 L1556.5,169.2 L1557.5,169.2 L1558.5,169.3 L1559.5,169.3 L1560.5,169.3 L1561.5,169.3 L1562.5,169.4 L1563.5,169.4 L1564.5,169.4 L1565.5,169.5 L1566.5,169.5 L1566.9,169.5 M1590.8,170.2 L1591.5,170.2 L1592.5,170.3 L1593.5,170.3 L1594.5,170.3 L1595.5,170.4 L1596.5,170.4 L1597.5,170.4 L1598.5,170.5 L1599.5,170.5 L1600.5,170.5 L1601.5,170.6 L1602.5,170.6 L1603.5,170.6 L1604.5,170.6 L1605.5,170.7 L1605.7,170.7 M1629.5,171.4 L1629.5,171.4 L1630.5,171.4 L1631.5,171.5 L1632.5,171.5 L1633.5,171.5 L1634.5,171.6 L1635.5,171.6 L1636.5,171.6 L1637.5,171.7 L1638.5,171.7 L1639.5,171.7 L1640.5,171.7 L1641.5,171.8 L1642.5,171.8 L1643.5,171.8 L1644.5,171.9 L1645.5,171.9 L1646.5,171.9 L1647.5,172.0 L1648.5,172.0 L1649.5,172.0 L1650.5,172.1 L1651.5,172.1 L1652.5,172.1 L1653.5,172.1 L1654.5,172.2 L1655.5,172.2 L1656.5,172.2 L1657.5,172.3 L1658.5,172.3 L1659.5,172.3 L1660.5,172.4 L1661.5,172.4 L1662.5,172.4 L1663.5,172.4 L1664.5,172.5 L1665.5,172.5 L1666.5,172.5 L1667.5,172.6 L1668.5,172.6 L1669.5,172.6 L1670.5,172.6 L1671.5,172.7 L1672.5,172.7 L1673.5,172.7 L1674.5,172.8 L1675.5,172.8 L1676.5,172.8 L1677.5,172.9 L1678.5,172.9 L1679.5,172.9 L1680.5,172.9 L1681.5,173.0 L1682.5,173.0 L1683.5,173.0 L1684.5,173.1 L1685.5,173.1 L1686.5,173.1 L1687.5,173.1 L1688.5,173.2 L1689.5,173.2 L1690.5,173.2 L1691.5,173.3 L1692.5,173.3 L1693.5,173.3 L1694.5,173.3 L1695.5,173.4 L1696.5,173.4 L1697.5,173.4 L1698.5,173.4 L1699.5,173.5 L1700.5,173.5 L1701.5,173.5 L1702.5,173.6 L1703.5,173.6 L1704.5,173.6 L1705.5,173.6 L1706.5,173.7 L1707.5,173.7 L1708.5,173.7 L1709.5,173.7 L1710.5,173.8 L1711.5,173.8 L1712.5,173.8 L1713.5,173.9 L1714.5,173.9 L1715.5,173.9 L1716.5,173.9 L1717.5,174.0 L1718.5,174.0 L1719.5,174.0 L1720.5,174.0 L1721.5,174.1 L1722.5,174.1 L1723.5,174.1 L1724.3,174.1 M1748.0,174.7 L1748.5,174.7 L1749.5,174.8 L1750.5,174.8 L1751.5,174.8 L1752.5,174.8 L1753.5,174.9 L1754.5,174.9 L1755.5,174.9 L1756.5,174.9 L1757.5,175.0 L1758.5,175.0 L1759.5,175.0 L1760.5,175.0 L1761.5,175.1 L1762.5,175.1 L1762.8,175.1 M1786.5,175.7 L1786.5,175.7 L1787.5,175.7 L1788.5,175.7 L1789.5,175.7 L1790.5,175.8 L1791.5,175.8 L1792.5,175.8 L1793.5,175.8 L1794.5,175.9 L1795.5,175.9 L1796.5,175.9 L1797.5,175.9 L1798.5,176.0 L1799.5,176.0 L1800.5,176.0 L1801.5,176.0 L1802.5,176.1 L1803.5,176.1 L1804.5,176.1 L1805.5,176.1 L1806.5,176.2 L1807.5,176.2 L1808.5,176.2 L1809.5,176.2 L1810.5,176.2 L1811.5,176.3 L1812.5,176.3 L1813.5,176.3 L1814.5,176.3 L1815.5,176.4 L1816.5,176.4 L1817.5,176.4 L1818.5,176.4 L1819.5,176.5 L1820.5,176.5 L1821.5,176.5 L1822.5,176.6 L1823.5,176.6 L1824.5,176.6 L1825.5,176.6 L1826.5,176.7 L1827.5,176.7 L1828.5,176.7 L1829.5,176.7 L1830.5,176.8 L1831.5,176.8 L1832.5,176.8 L1833.5,176.8 L1834.5,176.9 L1835.5,176.9 L1836.5,176.9 L1837.5,177.0 L1838.5,177.0 L1839.5,177.0 L1840.5,177.0 L1841.5,177.1 L1842.5,177.1 L1843.5,177.1 L1844.5,177.2 L1845.5,177.2 L1846.5,177.2 L1847.5,177.3 L1848.5,177.3 L1849.5,177.3 L1850.5,177.4 L1851.5,177.4 L1852.5,177.4 L1853.5,177.5 L1854.5,177.5 L1855.5,177.5 L1856.5,177.6 L1857.5,177.6 L1858.5,177.6 L1859.5,177.7 L1860.5,177.7 L1861.4,177.7 L1862.4,177.8 L1863.4,177.8 L1864.4,177.8 L1865.4,177.9 L1866.4,177.9 L1867.4,178.0 L1868.4,178.0 L1869.4,178.0 L1870.4,178.1 L1871.4,178.1 L1872.4,178.1 L1873.4,178.2 L1874.4,178.2 L1875.4,178.2 L1876.4,178.3 L1877.4,178.3 L1878.4,178.3 L1879.4,178.4 L1880.4,178.4 L1881.4,178.4 L1882.4,178.5 M1906.4,179.1 L1907.4,179.1 L1908.4,179.1 L1909.4,179.1 L1910.4,179.1 L1911.4,179.2 L1912.4,179.2 L1913.4,179.2 L1914.4,179.2 L1915.4,179.2 L1916.4,179.2 L1917.4,179.2 L1918.4,179.3 L1919.4,179.3 L1920.4,179.3 L1921.4,179.3 L1921.4,179.3 M1945.4,179.5 L1945.4,179.5 L1946.4,179.5 L1947.4,179.6 L1948.4,179.6 L1949.4,179.6 L1950.4,179.6 L1951.4,179.6 L1952.4,179.6 L1953.4,179.6 L1954.4,179.6 L1955.4,179.6 L1956.4,179.6 L1957.4,179.6 L1958.4,179.6 L1959.4,179.7 L1960.4,179.7 L1961.4,179.7 L1962.4,179.7 L1963.4,179.7 L1964.4,179.7 L1965.4,179.7 L1966.4,179.7 L1967.4,179.7 L1968.4,179.7 L1969.4,179.7 L1970.4,179.7 L1971.4,179.8 L1972.4,179.8 L1973.4,179.8 L1974.4,179.8 L1975.4,179.8 L1976.4,179.8 L1977.4,179.8 L1978.4,179.8 L1979.4,179.8 L1980.4,179.8 L1981.4,179.8 L1982.4,179.8 L1983.4,179.9 L1984.4,179.9 L1985.4,179.9 L1986.4,179.9 L1987.4,179.9 L1988.4,179.9 L1989.4,179.9 L1990.4,179.9 L1991.4,179.9 L1992.4,179.9 L1993.4,179.9 L1994.4,180.0 L1995.4,180.0 L1996.4,180.0 L1997.4,180.0 L1998.4,180.0 L1999.4,180.0 L2000.4,180.0 L2001.4,180.0 L2002.4,180.0 L2003.4,180.0 L2004.4,180.0 L2005.4,180.1 L2006.4,180.1 L2007.4,180.1 L2008.4,180.1 L2009.4,180.1 L2010.4,180.1 L2011.4,180.1 L2012.4,180.1 L2013.4,180.1 L2014.4,180.1 L2015.4,180.2 L2016.4,180.2 L2017.4,180.2 L2018.4,180.2 L2019.4,180.2 L2020.4,180.2 L2021.4,180.2 L2022.4,180.2 L2023.4,180.2 L2024.4,180.2 L2025.4,180.3 L2026.4,180.3 L2027.4,180.3 L2028.4,180.3 L2029.4,180.3 L2030.4,180.3 L2031.4,180.3 L2032.4,180.3 L2033.4,180.3 L2034.4,180.3 L2035.4,180.4 L2036.4,180.4 L2037.4,180.4 L2038.4,180.4 L2039.4,180.4 L2040.2,180.4 M2063.9,180.6 L2064.5,180.6 L2065.5,180.7 L2066.5,180.7 L2067.5,180.7 L2068.5,180.7 L2069.5,180.7 L2070.5,180.7 L2071.5,180.7 L2072.5,180.7 L2073.5,180.7 L2074.5,180.7 L2075.5,180.8 L2076.5,180.8 L2077.5,180.8 L2078.5,180.8 L2078.8,180.8 M2102.5,181.0 L2102.5,181.0 L2103.5,181.0 L2104.5,181.0 L2105.5,181.0 L2106.5,181.0 L2107.5,181.1 L2108.5,181.1 L2109.5,181.1 L2110.5,181.1 L2111.5,181.1 L2112.5,181.1 L2113.5,181.1 L2114.5,181.1 L2115.5,181.1 L2116.5,181.1 L2117.5,181.1 L2118.5,181.1 L2119.5,181.1 L2120.5,181.2 L2121.5,181.2 L2122.5,181.2 L2123.5,181.2 L2124.5,181.2 L2125.5,181.2 L2126.5,181.2 L2127.5,181.2 L2128.5,181.2 L2129.5,181.2 L2130.5,181.2 L2131.5,181.2 L2132.5,181.2 L2133.5,181.2 L2134.5,181.3 L2135.5,181.3 L2136.5,181.3 L2137.5,181.3 L2138.5,181.3 L2139.5,181.3 L2140.5,181.3 L2141.5,181.3 L2142.5,181.3 L2143.5,181.3 L2144.5,181.3 L2145.5,181.3 L2146.5,181.3 L2147.5,181.3 L2148.5,181.3 L2149.5,181.4 L2150.5,181.4 L2151.5,181.4 L2152.5,181.4 L2153.5,181.4 L2154.5,181.4 L2155.5,181.4 L2156.5,181.4 L2157.5,181.4 L2158.5,181.4 L2159.5,181.4 L2160.5,181.4 L2161.5,181.5 L2162.5,181.5 L2163.5,181.5 L2164.5,181.5 L2165.5,181.5 L2166.5,181.5 L2167.5,181.5 L2168.5,181.5 L2169.5,181.5 L2170.5,181.5 L2171.5,181.6 L2172.5,181.6 L2173.5,181.6 L2174.5,181.6 L2175.5,181.6 L2176.5,181.6 L2177.5,181.6 L2178.5,181.7 L2179.5,181.7 L2180.5,181.7 L2181.5,181.7 L2182.5,181.7 L2183.5,181.7 L2184.5,181.8 L2185.5,181.8 L2186.5,181.8 L2187.5,181.8 L2188.5,181.9 L2189.5,181.9 L2190.5,181.9 L2191.5,181.9 L2192.5,182.0 L2193.5,182.0 L2194.5,182.0 L2195.5,182.1 L2196.5,182.1 L2197.5,182.1 L2198.4,182.2 M2222.4,184.1 L2223.3,184.3 L2224.3,184.4 L2225.3,184.5 L2226.3,184.7 L2227.3,184.8 L2228.3,184.9 L2229.3,185.1 L2230.3,185.2 L2231.2,185.4 L2232.2,185.5 L2233.2,185.7 L2234.2,185.8 L2235.2,186.0 L2236.2,186.2 L2237.2,186.3 L2237.2,186.4 M2260.5,192.1 L2261.1,192.4 L2262.0,192.7 L2263.0,193.1 L2263.8,193.5 L2264.7,193.9 L2265.6,194.3 L2266.5,194.7 L2267.4,195.1 L2268.2,195.6 L2269.1,196.0 L2269.9,196.5 L2270.8,197.0 L2271.6,197.5 L2272.4,198.0 L2273.2,198.6 L2274.0,199.1 L2274.8,199.7 L2275.6,200.2 L2276.4,200.8 L2277.2,201.4 L2277.9,202.0 L2278.7,202.6 L2279.4,203.3 L2280.2,203.9 L2280.9,204.6 L2281.6,205.2 L2282.4,205.9 L2283.1,206.6 L2283.8,207.3 L2284.5,207.9 L2285.2,208.6 L2285.9,209.4 L2286.6,210.1 L2287.2,210.8 L2287.9,211.5 L2288.6,212.3 L2289.2,213.0 L2289.9,213.7 L2290.6,214.5 L2291.2,215.2 L2291.8,216.0 L2292.5,216.8 L2293.1,217.5 L2293.7,218.3 L2294.4,219.1 L2295.0,219.9 L2295.6,220.7 L2296.2,221.4 L2296.8,222.2 L2297.4,223.0 L2297.9,223.8 L2298.5,224.7 L2299.1,225.5 L2299.6,226.3 L2300.2,227.1 L2300.8,227.9 L2301.3,228.8 L2301.8,229.6 L2302.4,230.4 L2302.9,231.3 L2303.4,232.1 L2304.0,233.0 L2304.5,233.8 L2305.0,234.7 L2305.5,235.5 L2306.0,236.4 L2306.5,237.3 L2307.0,238.1 L2307.5,239.0 L2307.9,239.9 L2308.4,240.7 L2308.9,241.6 L2309.3,242.5 L2309.8,243.4 L2310.3,244.3 L2310.7,245.2 L2311.2,246.1 L2311.6,247.0 L2312.0,247.9 L2312.5,248.8 L2312.9,249.7 L2313.3,250.6 L2313.8,251.5 L2314.2,252.4 L2314.6,253.3 L2315.1,254.2 L2315.5,255.1 L2316.0,255.9 L2316.4,256.8 L2316.9,257.7 L2317.3,258.6 L2317.8,259.5 L2318.2,260.4 L2318.7,261.3 L2319.1,262.2 L2319.6,263.1 L2320.0,264.0" fill="none" stroke="#0000ff" stroke-width="15" stroke-linejoin="round" stroke-linecap="butt"/>
<path d="M316.0,212.0 L319.0,212.1 L322.0,212.2 L325.0,212.3 L328.0,212.4 L331.0,212.4 L334.0,212.5 L337.0,212.6 L340.0,212.7 L343.0,212.8 L346.0,212.9 L349.0,213.0 L352.0,213.1 L355.0,213.2 L358.0,213.3 L361.0,213.4 L364.0,213.5 L367.0,213.6 L370.0,213.7 L373.0,213.8 L376.0,213.9 L379.0,214.1 L382.0,214.2 L385.0,214.3 L388.0,214.5 L391.0,214.6 L394.0,214.7 L397.0,214.9 L400.0,215.1 L403.0,215.2 L405.9,215.4 L408.9,215.6 L411.9,215.8 L414.9,216.0 L417.9,216.2 L420.9,216.4 L423.9,216.6 L426.9,216.8 L429.9,217.0 L432.9,217.2 L435.9,217.4 L438.9,217.7 L441.9,217.9 L444.9,218.1 L447.8,218.4 L450.8,218.6 L453.8,218.9 L456.8,219.2 L459.8,219.5 L462.8,219.8 L465.8,220.1 L468.7,220.4 L471.7,220.7 L474.7,221.1 L477.7,221.5 L480.6,221.9 L483.6,222.4 L486.6,222.9 L489.5,223.4 L492.4,224.0 L495.4,224.6 L498.3,225.3 L501.2,226.0 L504.1,226.7 L506.9,227.6 L509.8,228.4 L512.7,229.3 L515.5,230.3 L518.3,231.3 L521.1,232.3 L523.9,233.4 L526.7,234.5 L529.5,235.7 L532.2,236.8 L535.0,238.0 L537.7,239.3 L540.4,240.6 L543.1,241.9 L545.8,243.2 L548.5,244.5 L551.2,245.9 L553.8,247.3 L556.5,248.7 L559.1,250.1 L561.7,251.6 L564.3,253.1 L566.9,254.6 L569.4,256.2 L572.0,257.8 L574.5,259.4 L577.0,261.1 L579.4,262.8 L581.8,264.5 L584.2,266.3 L586.6,268.2 L588.9,270.1 L591.1,272.0 L593.3,274.0 L595.5,276.1 L597.6,278.2 L599.6,280.4 L601.6,282.6 L603.5,284.9 L605.3,287.2 L607.0,289.6 L608.7,292.1 L610.3,294.6 L611.9,297.1 L613.4,299.7 L614.9,302.3 L616.3,304.9 L617.7,307.5 L619.1,310.2 L620.5,312.8 L621.9,315.5 L623.2,318.2 L624.6,320.8 L625.9,323.5 L627.2,326.2 L628.6,328.9 L629.8,331.6 L631.1,334.3 L632.2,337.1 L633.4,339.8 L634.5,342.6 L635.5,345.4 L636.5,348.2 L637.5,351.1 L638.4,353.9 L639.2,356.8 L640.0,359.7 L640.8,362.6 L641.6,365.5 L642.3,368.4 L643.0,371.3 L643.7,374.2 L644.3,377.1 L645.0,380.1 L645.6,383.0 L646.2,385.9 L646.7,388.9 L647.3,391.8 L647.8,394.8 L648.3,397.7 L648.8,400.7 L649.3,403.7 L649.8,406.6 L650.3,409.6 L650.7,412.5 L651.2,415.5 L651.6,418.5 L652.1,421.5 L652.5,424.4 L652.9,427.4 L653.3,430.4 L653.8,433.3 L654.2,436.3 L654.6,439.3 L655.0,442.2 L655.4,445.2 L655.9,448.2 L656.3,451.2 L656.7,454.1 L657.1,457.1 L657.5,460.1 L657.8,463.1 L658.2,466.0 L658.6,469.0 L658.9,472.0 L659.3,475.0 L659.6,478.0 L659.9,480.9 L660.2,483.9 L660.5,486.9 L660.8,489.9 L661.1,492.9 L661.4,495.9 L661.7,498.9 L662.0,501.8 L662.2,504.8 L662.5,507.8 L662.7,510.8 L663.0,513.8 L663.2,516.8 L663.5,519.8 L663.7,522.8 L663.9,525.8 L664.2,528.8 L664.4,531.7 L664.6,534.7 L664.8,537.7 L665.1,540.7 L665.3,543.7 L665.5,546.7 L665.7,549.7 L666.0,552.7 L666.2,555.7 L666.4,558.7 L666.6,561.7 L666.8,564.7 L667.0,567.7 L667.2,570.7 L667.4,573.6 L667.6,576.6 L667.8,579.6 L668.0,582.6 L668.2,585.6 L668.4,588.6 L668.6,591.6 L668.8,594.6 L669.0,597.6 L669.1,600.6 L669.3,603.6 L669.5,606.6 L669.7,609.6 L669.9,612.6 L670.1,615.6 L670.3,618.6 L670.5,621.6 L670.7,624.6 L670.9,627.5 L671.1,630.5 L671.3,633.5 L671.5,636.5 L671.7,639.5 L671.9,642.5 L672.2,645.5 L672.4,648.5 L672.6,651.5 L672.8,654.5 L673.1,657.5 L673.3,660.5 L673.5,663.5 L673.8,666.4 L674.0,669.4 L674.2,672.4 L674.4,675.4 L674.6,678.4 L674.8,681.4 L675.0,684.4 L675.2,687.4 L675.4,690.4 L675.6,693.4 L675.7,696.4 L675.9,699.4 L676.1,702.4 L676.2,705.4 L676.4,708.4 L676.5,711.4 L676.6,714.4 L676.8,717.4 L676.9,720.4 L677.0,723.4 L677.2,726.4 L677.3,729.4 L677.4,732.4 L677.5,735.3 L677.6,738.3 L677.7,741.3 L677.9,744.3 L678.0,747.3 L678.1,750.3 L678.2,753.3 L678.3,756.3 L678.4,759.3 L678.5,762.3 L678.6,765.3 L678.7,768.3 L678.9,771.3 L679.0,774.3 L679.1,777.3 L679.2,780.3 L679.3,783.3 L679.4,786.3 L679.6,789.3 L679.7,792.3 L679.8,795.3 L680.0,798.3 L680.1,801.3 L680.2,804.3 L680.4,807.3 L680.5,810.3 L680.6,813.3 L680.8,816.3 L680.9,819.3 L681.1,822.3 L681.2,825.3 L681.4,828.3 L681.5,831.3 L681.7,834.3 L681.8,837.3 L682.0,840.3 L682.2,843.3 L682.3,846.3 L682.5,849.3 L682.6,852.3 L682.8,855.3 L682.9,858.3 L683.1,861.2 L683.2,864.2 L683.4,867.2 L683.5,870.2 L683.7,873.2 L683.8,876.2 L684.0,879.2 L684.1,882.2 L684.3,885.2 L684.4,888.2 L684.6,891.2 L684.7,894.2 L684.9,897.2 L685.0,900.2 L685.1,903.2 L685.3,906.2 L685.4,909.2 L685.5,912.2 L685.7,915.2 L685.8,918.2 L685.9,921.2 L686.0,924.2 L686.2,927.2 L686.3,930.2 L686.4,933.2 L686.6,936.2 L686.7,939.2 L686.8,942.2 L686.9,945.2 L687.0,948.2 L687.2,951.2 L687.3,954.2 L687.4,957.2 L687.5,960.2 L687.6,963.2 L687.7,966.2 L687.9,969.2 L688.0,972.2 L688.1,975.2 L688.2,978.2 L688.3,981.2 L688.4,984.2 L688.5,987.2 L688.6,990.2 L688.7,993.1 L688.8,996.1 L688.9,999.1 L689.1,1002.1 L689.1,1005.1 L689.2,1008.1 L689.3,1011.1 L689.4,1014.1 L689.5,1017.1 L689.6,1020.1 L689.7,1023.1 L689.8,1026.1 L689.9,1029.1 L690.0,1032.1 L690.0,1035.1 L690.1,1038.1 L690.2,1041.1 L690.3,1044.1 L690.4,1047.1 L690.4,1050.1 L690.5,1053.1 L690.6,1056.1 L690.7,1059.1 L690.8,1062.1 L690.9,1065.1 L691.0,1068.1 L691.0,1071.1 L691.1,1074.1 L691.2,1077.1 L691.3,1080.1 L691.4,1083.1 L691.5,1086.1 L691.6,1089.1 L691.7,1092.1 L691.8,1095.1 L692.0,1098.1 L692.1,1101.1 L692.2,1104.1 L692.3,1107.1 L692.5,1110.1 L692.6,1113.1 L692.7,1116.1 L692.9,1119.1 L693.0,1122.1 L693.1,1125.1 L693.3,1128.1 L693.4,1131.1 L693.6,1134.1 L693.7,1137.1 L693.9,1140.1 L694.0,1143.1 L694.2,1146.1 L694.3,1149.1 L694.5,1152.1 L694.6,1155.1 L694.8,1158.1 L695.0,1161.1 L695.1,1164.1 L695.3,1167.1 L695.4,1170.0 L695.6,1173.0 L695.7,1176.0 L695.9,1179.0 L696.1,1182.0 L696.2,1185.0 L696.4,1188.0 L696.5,1191.0 L696.7,1194.0 L696.8,1197.0 L697.0,1200.0 L697.1,1203.0 L697.3,1206.0 L697.4,1209.0 L697.6,1212.0 L697.7,1215.0 L697.9,1218.0 L698.0,1221.0 L698.1,1224.0 L698.3,1227.0 L698.4,1230.0 L698.6,1233.0 L698.7,1236.0 L698.9,1239.0 L699.0,1242.0 L699.2,1245.0 L699.4,1248.0 L699.5,1251.0 L699.7,1253.9 L699.9,1256.9 L700.1,1259.9 L700.3,1262.9 L700.5,1265.9 L700.7,1268.9 L700.9,1271.9 L701.1,1274.9 L701.4,1277.9 L701.6,1280.9 L701.9,1283.9 L702.3,1286.9 L702.8,1289.8 L703.6,1287.4 L703.8,1284.4 L704.0,1281.4 L704.2,1278.4 L704.3,1275.4 L704.5,1272.4 L704.6,1269.4 L704.7,1266.4 L704.8,1263.4 L704.9,1260.4 L705.0,1257.4 L705.1,1254.4 L705.2,1251.4 L705.3,1248.4 L705.4,1245.4 L705.5,1242.4 L705.6,1239.4 L705.7,1236.4 L705.7,1233.4 L705.8,1230.4 L705.9,1227.4 L706.0,1224.4 L706.0,1221.4 L706.1,1218.4 L706.2,1215.4 L706.2,1212.4 L706.3,1209.4 L706.4,1206.4 L706.4,1203.4 L706.5,1200.4 L706.5,1197.4 L706.6,1194.4 L706.7,1191.4 L706.7,1188.4 L706.8,1185.4 L706.9,1182.4 L706.9,1179.4 L707.0,1176.4 L707.0,1173.4 L707.1,1170.4 L707.1,1167.4 L707.2,1164.4 L707.3,1161.4 L707.3,1158.4 L707.4,1155.4 L707.4,1152.4 L707.5,1149.4 L707.6,1146.4 L707.6,1143.4 L707.7,1140.4 L707.7,1137.4 L707.8,1134.4 L707.8,1131.4 L707.9,1128.4 L708.0,1125.4 L708.0,1122.4 L708.1,1119.4 L708.2,1116.4 L708.2,1113.4 L708.3,1110.4 L708.3,1107.4 L708.4,1104.4 L708.5,1101.4 L708.5,1098.4 L708.6,1095.4 L708.7,1092.4 L708.7,1089.4 L708.8,1086.4 L708.9,1083.4 L708.9,1080.4 L709.0,1077.4 L709.1,1074.4 L709.1,1071.4 L709.2,1068.4 L709.3,1065.4 L709.3,1062.4 L709.4,1059.4 L709.4,1056.4 L709.5,1053.4 L709.6,1050.4 L709.6,1047.4 L709.7,1044.4 L709.8,1041.4 L709.8,1038.4 L709.9,1035.4 L710.0,1032.4 L710.0,1029.4 L710.1,1026.4 L710.2,1023.4 L710.2,1020.4 L710.3,1017.4 L710.4,1014.4 L710.4,1011.4 L710.5,1008.4 L710.6,1005.4 L710.6,1002.4 L710.7,999.4 L710.8,996.4 L710.8,993.4 L710.9,990.4 L711.0,987.4 L711.0,984.4 L711.1,981.4 L711.2,978.4 L711.2,975.4 L711.3,972.4 L711.4,969.4 L711.4,966.4 L711.5,963.4 L711.6,960.4 L711.6,957.4 L711.7,954.4 L711.8,951.4 L711.9,948.4 L711.9,945.4 L712.0,942.4 L712.1,939.4 L712.1,936.4 L712.2,933.4 L712.3,930.4 L712.3,927.4 L712.4,924.4 L712.5,921.4 L712.6,918.4 L712.6,915.4 L712.7,912.4 L712.8,909.4 L712.9,906.4 L712.9,903.4 L713.0,900.4 L713.1,897.4 L713.2,894.4 L713.3,891.4 L713.3,888.4 L713.4,885.4 L713.5,882.4 L713.6,879.4 L713.7,876.4 L713.8,873.4 L713.9,870.5 L714.0,867.5 L714.1,864.5 L714.2,861.5 L714.4,858.5 L714.5,855.5 L714.6,852.5 L714.7,849.5 L714.8,846.5 L714.9,843.5 L715.0,840.5 L715.1,837.5 L715.2,834.5 L715.3,831.5 L715.3,828.5 L715.4,825.5 L715.5,822.5 L715.6,819.5 L715.6,816.5 L715.7,813.5 L715.8,810.5 L715.8,807.5 L715.9,804.5 L716.0,801.5 L716.0,798.5 L716.1,795.5 L716.1,792.5 L716.2,789.5 L716.2,786.5 L716.3,783.5 L716.3,780.5 L716.3,777.5 L716.4,774.5 L716.4,771.5 L716.5,768.5 L716.5,765.5 L716.6,762.5 L716.6,759.5 L716.6,756.5 L716.7,753.5 L716.7,750.5 L716.7,747.5 L716.8,744.5 L716.8,741.5 L716.9,738.5 L716.9,735.5 L716.9,732.5 L717.0,729.5 L717.0,726.5 L717.0,723.5 L717.1,720.5 L717.1,717.5 L717.1,714.5 L717.2,711.5 L717.2,708.5 L717.2,705.5 L717.3,702.5 L717.3,699.5 L717.3,696.5 L717.4,693.5 L717.4,690.5 L717.4,687.5 L717.5,684.5 L717.5,681.5 L717.5,678.5 L717.6,675.5 L717.6,672.5 L717.6,669.5 L717.7,666.5 L717.7,663.5 L717.7,660.5 L717.8,657.5 L717.8,654.5 L717.8,651.5 L717.9,648.5 L717.9,645.5 L717.9,642.5 L718.0,639.5 L718.0,636.5 L718.0,633.5 L718.1,630.5 L718.1,627.5 L718.2,624.5 L718.2,621.5 L718.2,618.4 L718.3,615.4 L718.3,612.4 L718.3,609.4 L718.4,606.4 L718.4,603.4 L718.4,600.4 L718.5,597.4 L718.5,594.4 L718.6,591.4 L718.6,588.4 L718.6,585.4 L718.7,582.4 L718.7,579.4 L718.8,576.4 L718.8,573.4 L718.9,570.4 L718.9,567.4 L718.9,564.4 L719.0,561.4 L719.0,558.4 L719.1,555.4 L719.2,552.4 L719.2,549.4 L719.3,546.4 L719.3,543.4 L719.4,540.4 L719.5,537.4 L719.5,534.4 L719.6,531.4 L719.7,528.4 L719.7,525.4 L719.8,522.4 L719.9,519.4 L720.0,516.4 L720.1,513.4 L720.2,510.4 L720.3,507.5 L720.4,504.5 L720.5,501.5 L720.6,498.5 L720.7,495.5 L720.8,492.5 L720.9,489.5 L720.9,486.5 L721.0,483.5 L721.1,480.5 L721.2,477.5 L721.3,474.5 L721.4,471.5 L721.5,468.5 L721.5,465.5 L721.6,462.5 L721.7,459.5 L721.8,456.5 L721.8,453.5 L721.9,450.5 L722.0,447.5 L722.0,444.5 L722.1,441.5 L722.1,438.5 L722.2,435.5 L722.3,432.5 L722.3,429.5 L722.4,426.5 L722.4,423.5 L722.5,420.5 L722.6,417.5 L722.6,414.5 L722.7,411.5 L722.7,408.5 L722.8,405.5 L722.8,402.5 L722.9,399.5 L723.0,396.5 L723.0,393.5 L723.1,390.5 L723.1,387.5 L723.2,384.5 L723.2,381.5 L723.3,378.5 L723.4,375.5 L723.4,372.5 L723.5,369.5 L723.5,366.5 L723.6,363.5 L723.6,360.5 L723.7,357.5 L723.7,354.5 L723.8,351.5 L723.8,348.5 L723.9,345.5 L723.9,342.5 L724.0,339.5 L724.1,336.5 L724.1,333.5 L724.2,330.5 L724.2,327.5 L724.3,324.5 L724.4,321.5 L724.5,318.5 L724.6,315.5 L724.6,312.5 L724.7,309.5 L724.8,306.5 L725.0,303.5 L725.1,300.5 L725.2,297.5 L725.3,294.5 L725.5,291.5 L725.6,288.5 L725.8,285.5 L725.9,282.5 L726.1,279.5 L726.3,276.5 L726.5,273.5 L726.7,270.5 L726.9,267.5 L727.1,264.5 L727.3,261.5 L727.6,258.5 L727.8,255.6 L728.0,252.6 L728.3,249.6 L728.5,246.6 L728.7,243.6 L729.0,240.6 L729.3,237.6 L729.5,234.6 L729.8,231.6 L730.1,228.6 L730.3,225.7 L730.6,222.7 L730.9,219.7 L731.2,216.7 L731.5,213.7 L731.8,210.7 L732.1,207.7 L732.4,204.8 L732.7,201.8 L733.1,198.8 L733.4,195.8 L733.7,192.8 L734.1,189.8 L734.4,186.9 L734.8,183.9 L735.1,180.9 L735.5,177.9 L735.8,174.9 L736.2,172.0 L736.6,169.0 L736.9,166.0 L737.3,163.0 L737.7,160.1 L738.1,157.1 L738.5,154.1 L738.8,151.1 L739.2,148.2 L739.6,145.2 L740.0,142.2 L740.4,139.2 L740.8,136.3 L741.2,133.3 L741.6,130.3 L742.0,127.3 L742.4,124.4 L742.8,121.4 L743.3,118.4 L743.7,115.5 L744.2,112.5 L745.1,109.7 L746.6,107.1 L748.8,105.0 L751.2,103.2 L753.7,101.5 L756.1,99.8 L758.6,98.2 L761.1,96.5 L763.6,94.8 L766.2,93.3 L769.0,92.3 L771.9,92.0 L774.9,92.4 L777.8,93.1 L780.7,94.0 L783.5,95.0 L786.3,96.0 L789.1,97.1 L791.9,98.1 L794.7,99.2 L797.5,100.3 L800.3,101.4 L803.1,102.4 L806.0,103.4 L808.8,104.4 L811.6,105.4 L814.5,106.3 L817.3,107.3 L820.2,108.2 L823.0,109.1 L825.9,110.0 L828.7,110.8 L831.6,111.7 L834.5,112.6 L837.4,113.4 L840.3,114.2 L843.2,115.0 L846.0,115.8 L848.9,116.6 L851.9,117.3 L854.8,118.0 L857.7,118.7 L860.6,119.4 L863.5,120.0 L866.5,120.6 L869.4,121.2 L872.4,121.7 L875.3,122.2 L878.3,122.7 L881.2,123.2 L884.2,123.7 L887.2,124.1 L890.1,124.5 L893.1,124.8 L896.1,125.2 L899.1,125.5 L902.0,125.7 L905.0,126.0 L908.0,126.2 L911.0,126.4 L914.0,126.6 L917.0,126.7 L920.0,126.9 L923.0,127.1 L926.0,127.2 L929.0,127.4 L932.0,127.6 L935.0,127.7 L938.0,127.9 L941.0,128.0 L944.0,128.2 L947.0,128.3 L950.0,128.5 L953.0,128.6 L956.0,128.8 L959.0,128.9 L962.0,129.0 L965.0,129.1 L968.0,129.2 L971.0,129.3 L973.9,129.4 L976.9,129.5 L979.9,129.6 L982.9,129.7 L985.9,129.8 L988.9,129.8 L991.9,129.9 L994.9,130.0 L997.9,130.1 L1000.9,130.1 L1003.9,130.2 L1006.9,130.3 L1009.9,130.3 L1012.9,130.4 L1015.9,130.5 L1018.9,130.6 L1021.9,130.6 L1024.9,130.7 L1027.9,130.7 L1030.9,130.8 L1033.9,130.9 L1036.9,130.9 L1039.9,131.0 L1042.9,131.0 L1045.9,131.1 L1048.9,131.2 L1051.9,131.2 L1054.9,131.3 L1057.9,131.3 L1060.9,131.4 L1063.9,131.4 L1066.9,131.5 L1069.9,131.6 L1072.9,131.6 L1075.9,131.7 L1078.9,131.7 L1081.9,131.8 L1084.9,131.9 L1087.9,131.9 L1090.9,132.0 L1093.9,132.1 L1096.9,132.2 L1099.9,132.2 L1102.9,132.3 L1105.9,132.4 L1108.9,132.5 L1111.9,132.6 L1114.9,132.6 L1117.9,132.7 L1120.9,132.8 L1123.9,132.9 L1126.9,133.0 L1129.9,133.1 L1132.9,133.2 L1135.9,133.3 L1138.9,133.4 L1141.9,133.6 L1144.9,133.7 L1147.9,133.8 L1150.9,133.9 L1153.9,134.0 L1156.9,134.2 L1159.9,134.3 L1162.9,134.4 L1165.9,134.6 L1168.9,134.7 L1171.9,134.9 L1174.9,135.0 L1177.9,135.2 L1180.9,135.3 L1183.9,135.5 L1186.9,135.6 L1189.9,135.8 L1192.9,135.9 L1195.9,136.1 L1198.9,136.2 L1201.9,136.4 L1204.9,136.5 L1207.9,136.7 L1210.9,136.9 L1213.9,137.0 L1216.9,137.2 L1219.8,137.3 L1222.8,137.5 L1225.8,137.6 L1228.8,137.8 L1231.8,137.9 L1234.8,138.1 L1237.8,138.3 L1240.8,138.4 L1243.8,138.6 L1246.8,138.7 L1249.8,138.9 L1252.8,139.0 L1255.8,139.1 L1258.8,139.3 L1261.8,139.4 L1264.8,139.6 L1267.8,139.7 L1270.8,139.8 L1273.8,140.0 L1276.8,140.1 L1279.8,140.2 L1282.8,140.3 L1285.8,140.5 L1288.8,140.6 L1291.8,140.7 L1294.8,140.8 L1297.8,140.9 L1300.8,141.0 L1303.8,141.1 L1306.8,141.2 L1309.8,141.3 L1312.8,141.3 L1315.8,141.4 L1318.8,141.5 L1321.8,141.6 L1324.8,141.6 L1327.8,141.7 L1330.8,141.8 L1333.8,141.8 L1336.8,141.9 L1339.8,141.9 L1342.8,142.0 L1345.8,142.0 L1348.8,142.1 L1351.8,142.1 L1354.8,142.2 L1357.8,142.2 L1360.8,142.2 L1363.8,142.3 L1366.8,142.3 L1369.8,142.3 L1372.8,142.4 L1375.8,142.4 L1378.8,142.4 L1381.8,142.4 L1384.8,142.5 L1387.8,142.5 L1390.8,142.5 L1393.8,142.5 L1396.8,142.6 L1399.8,142.6 L1402.8,142.6 L1405.8,142.7 L1408.8,142.7 L1411.8,142.7 L1414.8,142.7 L1417.8,142.8 L1420.8,142.8 L1423.8,142.8 L1426.8,142.9 L1429.8,142.9 L1432.8,142.9 L1435.8,143.0 L1438.8,143.0 L1441.8,143.0 L1444.8,143.1 L1447.8,143.1 L1450.8,143.1 L1453.8,143.2 L1456.8,143.2 L1459.8,143.3 L1462.8,143.3 L1465.8,143.3 L1468.8,143.4 L1471.8,143.4 L1474.8,143.5 L1477.8,143.5 L1480.8,143.5 L1483.8,143.6 L1486.8,143.6 L1489.8,143.6 L1492.8,143.7 L1495.8,143.7 L1498.8,143.8 L1501.8,143.8 L1504.8,143.8 L1507.8,143.9 L1510.8,143.9 L1513.8,143.9 L1516.8,144.0 L1519.8,144.0 L1522.8,144.0 L1525.8,144.1 L1528.8,144.1 L1531.8,144.2 L1534.8,144.2 L1537.8,144.2 L1540.8,144.3 L1543.8,144.3 L1546.8,144.3 L1549.8,144.4 L1552.8,144.4 L1555.8,144.5 L1558.8,144.5 L1561.8,144.5 L1564.8,144.6 L1567.8,144.6 L1570.8,144.6 L1573.8,144.7 L1576.8,144.7 L1579.8,144.7 L1582.8,144.8 L1585.8,144.8 L1588.8,144.9 L1591.8,144.9 L1594.8,144.9 L1597.8,145.0 L1600.8,145.0 L1603.8,145.0 L1606.8,145.1 L1609.8,145.1 L1612.8,145.2 L1615.8,145.2 L1618.8,145.2 L1621.8,145.3 L1624.8,145.3 L1627.8,145.3 L1630.8,145.4 L1633.8,145.4 L1636.8,145.4 L1639.8,145.5 L1642.8,145.5 L1645.8,145.5 L1648.8,145.6 L1651.8,145.6 L1654.8,145.7 L1657.8,145.7 L1660.8,145.7 L1663.8,145.8 L1666.8,145.8 L1669.8,145.8 L1672.8,145.9 L1675.8,145.9 L1678.8,145.9 L1681.8,146.0 L1684.8,146.0 L1687.8,146.0 L1690.8,146.1 L1693.8,146.1 L1696.8,146.1 L1699.8,146.2 L1702.8,146.2 L1705.8,146.2 L1708.8,146.3 L1711.8,146.3 L1714.8,146.4 L1717.8,146.4 L1720.8,146.4 L1723.8,146.5 L1726.8,146.5 L1729.8,146.5 L1732.8,146.6 L1735.8,146.6 L1738.8,146.6 L1741.8,146.7 L1744.8,146.7 L1747.8,146.8 L1750.8,146.8 L1753.8,146.8 L1756.8,146.9 L1759.8,146.9 L1762.8,147.0 L1765.8,147.0 L1768.8,147.0 L1771.8,147.1 L1774.8,147.1 L1777.8,147.2 L1780.8,147.2 L1783.8,147.3 L1786.8,147.3 L1789.8,147.3 L1792.8,147.4 L1795.8,147.4 L1798.8,147.5 L1801.8,147.6 L1804.8,147.6 L1807.8,147.7 L1810.8,147.7 L1813.8,147.8 L1816.8,147.8 L1819.8,147.9 L1822.8,148.0 L1825.8,148.1 L1828.8,148.1 L1831.8,148.2 L1834.8,148.3 L1837.8,148.4 L1840.8,148.4 L1843.8,148.5 L1846.8,148.6 L1849.8,148.7 L1852.8,148.8 L1855.8,148.9 L1858.8,149.0 L1861.8,149.1 L1864.8,149.2 L1867.8,149.2 L1870.8,149.3 L1873.8,149.4 L1876.8,149.5 L1879.8,149.6 L1882.8,149.6 L1885.8,149.7 L1888.8,149.8 L1891.8,149.8 L1894.8,149.9 L1897.8,149.9 L1900.8,150.0 L1903.8,150.0 L1906.8,150.1 L1909.8,150.1 L1912.8,150.2 L1915.8,150.2 L1918.8,150.2 L1921.8,150.3 L1924.8,150.3 L1927.8,150.3 L1930.8,150.4 L1933.8,150.4 L1936.8,150.4 L1939.8,150.5 L1942.8,150.5 L1945.8,150.5 L1948.8,150.5 L1951.8,150.6 L1954.8,150.6 L1957.8,150.6 L1960.8,150.6 L1963.8,150.7 L1966.8,150.7 L1969.8,150.7 L1972.8,150.7 L1975.8,150.8 L1978.8,150.8 L1981.8,150.8 L1984.8,150.8 L1987.8,150.8 L1990.8,150.9 L1993.8,150.9 L1996.8,150.9 L1999.8,150.9 L2002.8,151.0 L2005.8,151.0 L2008.8,151.0 L2011.8,151.1 L2014.8,151.1 L2017.8,151.1 L2020.8,151.2 L2023.8,151.2 L2026.8,151.2 L2029.8,151.3 L2032.8,151.3 L2035.8,151.4 L2038.8,151.4 L2041.8,151.5 L2044.8,151.5 L2047.8,151.6 L2050.8,151.7 L2053.8,151.7 L2056.8,151.8 L2059.8,151.9 L2062.8,152.0 L2065.8,152.1 L2068.8,152.2 L2071.8,152.4 L2074.8,152.5 L2077.8,152.6 L2080.8,152.8 L2083.8,153.0 L2086.8,153.2 L2089.8,153.4 L2092.8,153.6 L2095.8,153.8 L2098.8,154.1 L2101.7,154.3 L2104.7,154.6 L2107.7,154.9 L2110.7,155.2 L2113.7,155.6 L2116.7,155.9 L2119.6,156.3 L2122.6,156.7 L2125.6,157.1 L2128.6,157.5 L2131.5,157.9 L2134.5,158.3 L2137.5,158.8 L2140.4,159.2 L2143.4,159.7 L2146.3,160.2 L2149.3,160.7 L2152.2,161.3 L2155.2,161.9 L2158.1,162.5 L2161.0,163.1 L2164.0,163.8 L2166.9,164.5 L2169.8,165.2 L2172.7,165.9 L2175.6,166.6 L2178.5,167.3 L2181.4,168.1 L2184.3,168.9 L2187.2,169.7 L2190.1,170.5 L2193.0,171.3 L2195.9,172.2 L2198.7,173.0 L2201.6,174.0 L2204.4,174.9 L2207.2,176.0 L2210.0,177.0 L2212.8,178.2 L2215.5,179.3 L2218.2,180.6 L2220.9,181.9 L2223.6,183.2 L2226.2,184.6 L2228.8,186.1 L2231.4,187.6 L2234.0,189.1 L2236.5,190.7 L2239.1,192.3 L2241.6,193.9 L2244.1,195.5 L2246.6,197.2 L2249.1,198.9 L2251.5,200.6 L2254.0,202.3 L2256.4,204.0 L2258.8,205.8 L2261.2,207.6 L2263.6,209.5 L2265.9,211.4 L2268.1,213.3 L2270.3,215.3 L2272.5,217.3 L2274.6,219.4 L2276.5,221.6 L2278.4,223.9 L2280.2,226.2 L2281.8,228.6 L2283.4,231.1 L2284.8,233.6 L2286.1,236.2 L2287.3,238.9 L2288.4,241.7 L2289.4,244.4 L2290.4,247.2 L2291.3,250.1 L2292.2,252.9 L2293.1,255.8 L2293.9,258.7 L2294.7,261.5 L2295.6,264.4 L2296.4,267.3 L2297.2,270.2 L2298.0,273.1 L2298.8,276.0 L2299.6,278.9 L2300.4,281.8 L2301.1,284.7 L2301.8,287.6 L2302.5,290.5 L2303.2,293.4 L2303.9,296.3 L2304.5,299.3 L2305.2,302.2 L2305.8,305.1 L2306.4,308.1 L2307.0,311.0 L2307.6,313.9 L2308.2,316.9 L2308.8,319.8 L2309.4,322.8 L2309.9,325.7 L2310.5,328.7 L2311.1,331.6 L2311.6,334.6 L2312.2,337.5 L2312.7,340.5 L2313.3,343.4 L2313.8,346.4 L2314.4,349.3 L2314.9,352.3 L2315.4,355.2 L2315.9,358.2 L2316.5,361.1 L2317.0,364.1 L2317.5,367.0 L2318.0,370.0" fill="none" stroke="#008000" stroke-width="15" stroke-linejoin="round" stroke-linecap="square"/>
<path d="M324.0,203.5 L325.0,203.6 L326.0,203.6 L327.0,203.6 L328.0,203.6 L329.0,203.6 L330.0,203.6 L331.0,203.6 L332.0,203.6 L333.0,203.6 L334.0,203.6 L335.0,203.6 L336.0,203.6 L337.0,203.6 L338.0,203.6 L339.0,203.6 L340.0,203.6 L341.0,203.6 L342.0,203.7 L343.0,203.7 L344.0,203.7 L345.0,203.7 L346.0,203.7 L347.0,203.7 L348.0,203.7 L349.0,203.7 L350.0,203.7 L351.0,203.7 L352.0,203.7 L353.0,203.7 L354.0,203.7 L355.0,203.7 L356.0,203.7 L357.0,203.7 L358.0,203.7 L359.0,203.8 L360.0,203.8 L361.0,203.8 L362.0,203.8 L363.0,203.8 L364.0,203.8 L365.0,203.8 L366.0,203.8 L367.0,203.8 L368.0,203.8 L369.0,203.8 L370.0,203.8 L371.0,203.8 L372.0,203.8 L373.0,203.8 L374.0,203.8 L375.0,203.9 L376.0,203.9 L377.0,203.9 L378.0,203.9 L379.0,203.9 L380.0,203.9 L381.0,203.9 L382.0,203.9 L383.0,203.9 L384.0,203.9 L385.0,203.9 L386.0,203.9 L387.0,203.9 L388.0,203.9 L389.0,203.9 L390.0,203.9 L391.0,203.9 L392.0,204.0 L393.0,204.0 L394.0,204.0 L395.0,204.0 L396.0,204.0 L397.0,204.0 L398.0,204.0 L399.0,204.0 L400.0,204.0 L401.0,204.0 L402.0,204.0 L403.0,204.0 L404.0,204.0 L405.0,204.0 L406.0,204.0 L407.0,204.0 L408.0,204.0 L409.0,204.0 L410.0,204.1 L411.0,204.1 L412.0,204.1 L413.0,204.1 L414.0,204.1 L415.0,204.1 L416.0,204.1 L417.0,204.1 L418.0,204.1 L419.0,204.1 L420.0,204.1 L420.0,204.1 M444.0,204.2 L445.0,204.2 L446.0,204.2 L447.0,204.3 L448.0,204.3 L449.0,204.3 L450.0,204.3 L451.0,204.3 L452.0,204.3 L453.0,204.3 L454.0,204.3 L455.0,204.3 L456.0,204.3 L457.0,204.3 L458.0,204.3 L459.0,204.3 L459.0,204.3 M483.0,204.5 L483.0,204.5 L484.0,204.5 L485.0,204.5 L486.0,204.5 L487.0,204.5 L488.0,204.5 L489.0,204.6 L490.0,204.6 L491.0,204.6 L492.0,204.6 L493.0,204.6 L494.0,204.6 L495.0,204.6 L496.0,204.6 L497.0,204.6 L498.0,204.6 L499.0,204.6 L500.0,204.6 L501.0,204.6 L502.0,204.7 L503.0,204.7 L504.0,204.7 L505.0,204.7 L506.0,204.7 L507.0,204.7 L508.0,204.7 L509.0,204.7 L510.0,204.7 L511.0,204.7 L512.0,204.7 L513.0,204.7 L514.0,204.8 L515.0,204.8 L516.0,204.8 L517.0,204.8 L518.0,204.8 L519.0,204.8 L520.0,204.8 L521.0,204.8 L522.0,204.8 L523.0,204.8 L524.0,204.8 L525.0,204.9 L526.0,204.9 L527.0,204.9 L528.0,204.9 L529.0,204.9 L530.0,204.9 L531.0,204.9 L532.0,204.9 L533.0,204.9 L534.0,204.9 L535.0,205.0 L536.0,205.0 L537.0,205.0 L538.0,205.0 L539.0,205.0 L540.0,205.0 L541.0,205.0 L542.0,205.0 L543.0,205.0 L544.0,205.1 L545.0,205.1 L546.0,205.1 L547.0,205.1 L548.0,205.1 L549.0,205.1 L550.0,205.1 L551.0,205.1 L552.0,205.2 L553.0,205.2 L554.0,205.2 L555.0,205.2 L556.0,205.2 L557.0,205.2 L558.0,205.3 L559.0,205.3 L560.0,205.3 L561.0,205.3 L562.0,205.3 L563.0,205.4 L564.0,205.4 L565.0,205.4 L566.0,205.4 L567.0,205.5 L568.0,205.5 L569.0,205.5 L570.0,205.5 L571.0,205.6 L572.0,205.6 L573.0,205.6 L574.0,205.7 L575.0,205.7 L576.0,205.8 L577.0,205.8 L578.0,205.8 L579.0,205.9 L579.6,205.9 M603.7,207.2 L603.9,207.2 L604.9,207.3 L605.9,207.3 L606.9,207.4 L607.9,207.4 L608.9,207.5 L609.9,207.5 L610.9,207.6 L611.9,207.6 L612.9,207.7 L613.9,207.7 L614.9,207.8 L615.9,207.8 L616.9,207.9 L617.9,207.9 L618.8,207.9 M642.9,209.3 L642.9,209.3 L643.9,209.4 L644.9,209.5 L645.8,209.6 L646.8,209.7 L647.8,209.8 L648.8,209.9 L649.8,210.0 L650.8,210.1 L651.8,210.2 L652.8,210.3 L653.8,210.4 L654.8,210.5 L655.8,210.7 L656.8,210.8 L657.8,210.9 L658.8,211.0 L659.8,211.2 L660.7,211.3 L661.7,211.4 L662.7,211.5 L663.7,211.7 L664.7,211.8 L665.7,212.0 L666.7,212.1 L667.7,212.2 L668.7,212.4 L669.6,212.5 L670.6,212.7 L671.6,212.8 L672.6,213.0 L673.6,213.2 L674.6,213.3 L675.6,213.5 L676.6,213.6 L677.5,213.8 L678.5,214.0 L679.5,214.1 L680.5,214.3 L681.5,214.5 L682.5,214.6 L683.5,214.8 L684.4,215.0 L685.4,215.2 L686.4,215.3 L687.4,215.5 L688.4,215.7 L689.4,215.9 L690.3,216.1 L691.3,216.2 L692.3,216.4 L693.3,216.6 L694.3,216.8 L695.3,217.0 L696.2,217.2 L697.2,217.4 L698.2,217.6 L699.2,217.8 L700.2,218.0 L701.1,218.1 L702.1,218.3 L703.1,218.5 L704.1,218.7 L705.1,218.9 L706.0,219.1 L707.0,219.3 L708.0,219.5 L709.0,219.7 L710.0,219.9 L710.9,220.2 L711.9,220.4 L712.9,220.6 L713.9,220.8 L714.8,221.0 L715.8,221.2 L716.8,221.4 L717.8,221.7 L718.7,221.9 L719.7,222.1 L720.7,222.4 L721.6,222.6 L722.6,222.8 L723.6,223.1 L724.6,223.3 L725.5,223.6 L726.5,223.8 L727.5,224.1 L728.4,224.3 L729.4,224.6 L730.4,224.8 L731.3,225.1 L732.3,225.4 L733.2,225.6 L734.2,225.9 L734.7,226.0 M756.7,233.7 L756.8,233.7 L757.7,234.1 L758.6,234.5 L759.6,234.9 L760.5,235.3 L761.4,235.7 L762.3,236.1 L763.2,236.6 L764.1,237.0 L765.0,237.4 L765.9,237.9 L766.8,238.3 L767.7,238.8 L768.5,239.2 L769.4,239.7 L769.9,239.9 M789.5,252.5 L789.5,252.5 L790.3,253.1 L791.1,253.7 L791.9,254.4 L792.7,255.0 L793.4,255.6 L794.2,256.2 L795.0,256.9 L795.7,257.5 L796.5,258.2 L797.3,258.8 L798.0,259.5 L798.8,260.1 L799.5,260.8 L800.2,261.5 L801.0,262.1 L801.7,262.8 L802.4,263.5 L803.2,264.2 L803.9,264.8 L804.6,265.5 L805.4,266.2 L806.1,266.9 L806.8,267.6 L807.5,268.3 L808.2,269.0 L808.9,269.7 L809.6,270.4 L810.3,271.1 L811.0,271.8 L811.8,272.5 L812.5,273.2 L813.2,274.0 L813.9,274.7 L814.5,275.4 L815.2,276.1 L815.9,276.8 L816.6,277.5 L817.3,278.3 L818.0,279.0 L818.7,279.7 L819.4,280.4 L820.1,281.2 L820.8,281.9 L821.5,282.6 L822.1,283.3 L822.8,284.1 L823.5,284.8 L824.2,285.5 L824.9,286.3 L825.6,287.0 L826.2,287.7 L826.9,288.5 L827.6,289.2 L828.3,289.9 L828.9,290.7 L829.6,291.4 L830.3,292.2 L830.9,292.9 L831.6,293.7 L832.2,294.4 L832.9,295.2 L833.5,295.9 L834.2,296.7 L834.8,297.4 L835.4,298.2 L836.1,299.0 L836.7,299.8 L837.3,300.5 L837.9,301.3 L838.5,302.1 L839.1,302.9 L839.7,303.7 L840.3,304.5 L840.9,305.3 L841.4,306.1 L842.0,306.9 L842.6,307.7 L843.1,308.6 L843.6,309.4 L844.1,310.2 L844.7,311.1 L845.2,311.9 L845.6,312.8 L846.1,313.6 L846.6,314.5 L847.0,315.4 L847.5,316.3 L847.9,317.1 L848.4,318.0 L848.8,318.9 L849.2,319.8 L849.6,320.7 L850.0,321.6 L850.2,322.2 M857.6,344.2 L857.9,345.1 L858.2,346.1 L858.5,347.0 L858.8,348.0 L859.1,348.9 L859.4,349.9 L859.8,350.8 L860.1,351.7 L860.4,352.7 L860.8,353.6 L861.1,354.6 L861.4,355.5 L861.8,356.4 L862.1,357.4 L862.4,358.0 M870.3,379.9 L870.3,379.9 L870.6,380.8 L870.9,381.8 L871.2,382.7 L871.5,383.7 L871.7,384.6 L872.0,385.6 L872.3,386.6 L872.5,387.5 L872.8,388.5 L873.1,389.4 L873.3,390.4 L873.6,391.4 L873.8,392.3 L874.1,393.3 L874.3,394.3 L874.5,395.3 L874.8,396.2 L875.0,397.2 L875.2,398.2 L875.5,399.1 L875.7,400.1 L875.9,401.1 L876.1,402.1 L876.3,403.0 L876.6,404.0 L876.8,405.0 L877.0,406.0 L877.2,406.9 L877.4,407.9 L877.6,408.9 L877.8,409.9 L878.0,410.9 L878.3,411.8 L878.5,412.8 L878.7,413.8 L878.9,414.8 L879.1,415.7 L879.3,416.7 L879.5,417.7 L879.7,418.7 L879.9,419.6 L880.2,420.6 L880.4,421.6 L880.6,422.6 L880.8,423.6 L881.0,424.5 L881.2,425.5 L881.5,426.5 L881.7,427.5 L881.9,428.4 L882.1,429.4 L882.3,430.4 L882.6,431.4 L882.8,432.3 L883.0,433.3 L883.2,434.3 L883.4,435.3 L883.7,436.2 L883.9,437.2 L884.1,438.2 L884.3,439.2 L884.6,440.1 L884.8,441.1 L885.0,442.1 L885.2,443.1 L885.4,444.0 L885.7,445.0 L885.9,446.0 L886.1,447.0 L886.3,447.9 L886.6,448.9 L886.8,449.9 L887.0,450.9 L887.2,451.8 L887.4,452.8 L887.6,453.8 L887.8,454.8 L888.0,455.7 L888.2,456.7 L888.5,457.7 L888.7,458.7 L888.9,459.7 L889.1,460.6 L889.2,461.6 L889.4,462.6 L889.6,463.6 L889.8,464.6 L890.0,465.5 L890.2,466.5 L890.4,467.5 L890.5,468.5 L890.7,469.5 L890.9,470.5 L891.0,471.4 L891.1,471.6 M894.2,495.0 L894.3,495.2 L894.4,496.2 L894.5,497.2 L894.6,498.2 L894.7,499.2 L894.8,500.2 L894.9,501.2 L895.1,502.2 L895.2,503.2 L895.3,504.2 L895.4,505.1 L895.5,506.1 L895.6,507.1 L895.7,508.1 L895.8,509.1 L895.9,509.6 M898.4,533.0 L898.4,533.0 L898.5,534.0 L898.6,535.0 L898.7,536.0 L898.8,537.0 L898.9,538.0 L899.0,539.0 L899.1,540.0 L899.2,540.9 L899.3,541.9 L899.4,542.9 L899.5,543.9 L899.6,544.9 L899.7,545.9 L899.8,546.9 L899.9,547.9 L900.0,548.9 L900.1,549.9 L900.2,550.9 L900.3,551.9 L900.4,552.9 L900.5,553.9 L900.6,554.9 L900.7,555.9 L900.8,556.9 L900.8,557.9 L900.9,558.9 L901.0,559.9 L901.1,560.9 L901.2,561.8 L901.3,562.8 L901.4,563.8 L901.5,564.8 L901.6,565.8 L901.7,566.8 L901.8,567.8 L901.9,568.8 L902.0,569.8 L902.1,570.8 L902.2,571.8 L902.3,572.8 L902.4,573.8 L902.5,574.8 L902.6,575.8 L902.7,576.8 L902.8,577.8 L902.9,578.8 L903.0,579.8 L903.1,580.8 L903.2,581.8 L903.3,582.7 L903.4,583.7 L903.5,584.7 L903.5,585.7 L903.6,586.7 L903.7,587.7 L903.8,588.7 L903.9,589.7 L904.0,590.7 L904.1,591.7 L904.2,592.7 L904.3,593.7 L904.4,594.7 L904.5,595.7 L904.6,596.7 L904.7,597.7 L904.8,598.7 L904.9,599.7 L905.0,600.7 L905.1,601.7 L905.2,602.7 L905.3,603.7 L905.4,604.6 L905.5,605.6 L905.6,606.6 L905.7,607.6 L905.8,608.6 L905.9,609.6 L906.0,610.6 L906.1,611.6 L906.2,612.6 L906.3,613.6 L906.4,614.6 L906.5,615.6 L906.6,616.6 L906.7,617.6 L906.8,618.6 L906.9,619.6 L907.0,620.6 L907.1,621.6 L907.2,622.6 L907.3,623.5 L907.4,624.5 L907.5,625.5 L907.6,626.5 L907.7,627.5 L907.9,628.5 M910.7,652.4 L910.7,652.4 L910.8,653.3 L910.9,654.3 L911.0,655.3 L911.1,656.3 L911.3,657.3 L911.4,658.3 L911.5,659.3 L911.6,660.3 L911.8,661.3 L911.9,662.3 L912.0,663.3 L912.1,664.3 L912.3,665.3 L912.4,666.2 L912.5,667.2 M915.2,691.1 L915.2,691.1 L915.3,692.1 L915.3,693.1 L915.4,694.1 L915.5,695.1 L915.6,696.1 L915.7,697.1 L915.8,698.1 L915.9,699.1 L916.0,700.0 L916.1,701.0 L916.2,702.0 L916.2,703.0 L916.3,704.0 L916.4,705.0 L916.5,706.0 L916.6,707.0 L916.6,708.0 L916.7,709.0 L916.8,710.0 L916.9,711.0 L917.0,712.0 L917.0,713.0 L917.1,714.0 L917.2,715.0 L917.3,716.0 L917.3,717.0 L917.4,718.0 L917.5,719.0 L917.6,720.0 L917.6,721.0 L917.7,722.0 L917.8,723.0 L917.8,724.0 L917.9,725.0 L918.0,726.0 L918.1,727.0 L918.1,728.0 L918.2,729.0 L918.3,730.0 L918.4,731.0 L918.4,732.0 L918.5,733.0 L918.6,733.9 L918.6,734.9 L918.7,735.9 L918.8,736.9 L918.9,737.9 L918.9,738.9 L919.0,739.9 L919.1,740.9 L919.1,741.9 L919.2,742.9 L919.3,743.9 L919.4,744.9 L919.4,745.9 L919.5,746.9 L919.6,747.9 L919.6,748.9 L919.7,749.9 L919.8,750.9 L919.9,751.9 L919.9,752.9 L920.0,753.9 L920.1,754.9 L920.1,755.9 L920.2,756.9 L920.3,757.9 L920.3,758.9 L920.4,759.9 L920.5,760.9 L920.6,761.9 L920.6,762.9 L920.7,763.9 L920.8,764.9 L920.8,765.9 L920.9,766.9 L921.0,767.9 L921.0,768.9 L921.1,769.9 L921.2,770.9 L921.2,771.9 L921.3,772.9 L921.4,773.9 L921.4,774.8 L921.5,775.8 L921.6,776.8 L921.6,777.8 L921.7,778.8 L921.8,779.8 L921.8,780.8 L921.9,781.8 L922.0,782.8 L922.0,783.8 L922.1,784.8 L922.1,785.8 L922.2,786.8 L922.2,787.4 M923.7,811.5 L923.7,811.8 L923.8,812.8 L923.8,813.8 L923.9,814.8 L923.9,815.8 L924.0,816.8 L924.1,817.8 L924.1,818.8 L924.2,819.8 L924.2,820.8 L924.3,821.8 L924.4,822.8 L924.4,823.8 L924.5,824.8 L924.5,825.8 L924.6,826.6 M926.0,850.7 L926.0,850.7 L926.1,851.7 L926.1,852.7 L926.2,853.7 L926.2,854.7 L926.3,855.7 L926.3,856.7 L926.4,857.7 L926.4,858.7 L926.5,859.7 L926.5,860.7 L926.6,861.7 L926.6,862.7 L926.7,863.7 L926.7,864.7 L926.8,865.7 L926.8,866.7 L926.9,867.7 L926.9,868.7 L927.0,869.7 L927.0,870.7 L927.1,871.7 L927.1,872.7 L927.2,873.7 L927.2,874.7 L927.3,875.7 L927.3,876.7 L927.4,877.7 L927.4,878.7 L927.5,879.7 L927.5,880.7 L927.6,881.7 L927.6,882.7 L927.7,883.7 L927.7,884.7 L927.8,885.7 L927.8,886.7 L927.9,887.7 L927.9,888.7 L928.0,889.7 L928.0,890.7 L928.1,891.7 L928.1,892.7 L928.2,893.7 L928.3,894.7 L928.3,895.7 L928.4,896.7 L928.4,897.7 L928.5,898.6 L928.5,899.6 L928.6,900.6 L928.6,901.6 L928.7,902.6 L928.8,903.6 L928.8,904.6 L928.9,905.6 L928.9,906.6 L929.0,907.6 L929.1,908.6 L929.1,909.6 L929.2,910.6 L929.2,911.6 L929.3,912.6 L929.3,913.6 L929.4,914.6 L929.5,915.6 L929.5,916.6 L929.6,917.6 L929.6,918.6 L929.7,919.6 L929.8,920.6 L929.8,921.6 L929.9,922.6 L929.9,923.6 L930.0,924.6 L930.1,925.6 L930.1,926.6 L930.2,927.6 L930.2,928.6 L930.3,929.6 L930.3,930.6 L930.4,931.6 L930.5,932.6 L930.5,933.6 L930.6,934.6 L930.6,935.6 L930.7,936.6 L930.7,937.6 L930.8,938.6 L930.8,939.6 L930.8,940.6 L930.9,941.6 L930.9,942.6 L931.0,943.6 L931.0,944.6 L931.1,945.6 L931.1,946.0 M931.9,969.8 L932.0,970.6 L932.0,971.6 L932.1,972.6 L932.1,973.6 L932.1,974.6 L932.2,975.6 L932.2,976.6 L932.3,977.5 L932.3,978.5 L932.4,979.5 L932.4,980.5 L932.5,981.5 L932.5,982.5 L932.6,983.5 L932.6,984.5 L932.6,984.7 M933.9,1008.5 L933.9,1008.5 L933.9,1009.5 L934.0,1010.5 L934.0,1011.5 L934.0,1012.5 L934.1,1013.5 L934.1,1014.5 L934.2,1015.5 L934.2,1016.5 L934.2,1017.5 L934.3,1018.5 L934.3,1019.5 L934.4,1020.5 L934.4,1021.5 L934.4,1022.5 L934.5,1023.5 L934.5,1024.5 L934.5,1025.5 L934.6,1026.5 L934.6,1027.5 L934.6,1028.5 L934.6,1029.5 L934.7,1030.5 L934.7,1031.5 L934.7,1032.5 L934.8,1033.5 L934.8,1034.5 L934.8,1035.5 L934.9,1036.5 L934.9,1037.5 L934.9,1038.5 L934.9,1039.5 L935.0,1040.5 L935.0,1041.5 L935.0,1042.5 L935.1,1043.5 L935.1,1044.5 L935.1,1045.5 L935.1,1046.5 L935.2,1047.5 L935.2,1048.5 L935.2,1049.5 L935.2,1050.5 L935.3,1051.5 L935.3,1052.5 L935.3,1053.5 L935.3,1054.5 L935.4,1055.5 L935.4,1056.5 L935.4,1057.5 L935.4,1058.5 L935.5,1059.5 L935.5,1060.5 L935.5,1061.5 L935.5,1062.5 L935.5,1063.5 L935.6,1064.5 L935.6,1065.5 L935.6,1066.5 L935.6,1067.5 L935.7,1068.5 L935.7,1069.5 L935.7,1070.5 L935.7,1071.5 L935.8,1072.5 L935.8,1073.5 L935.8,1074.5 L935.8,1075.5 L935.9,1076.5 L935.9,1077.5 L935.9,1078.5 L935.9,1079.5 L936.0,1080.5 L936.0,1081.5 L936.0,1082.5 L936.0,1083.5 L936.1,1084.5 L936.1,1085.5 L936.1,1086.5 L936.2,1087.5 L936.2,1088.5 L936.3,1089.5 L936.3,1090.5 L936.3,1091.5 L936.4,1092.5 L936.4,1093.5 L936.5,1094.5 L936.5,1095.5 L936.6,1096.5 L936.6,1097.5 L936.7,1098.5 L936.7,1099.4 L936.8,1100.4 L936.9,1101.4 L936.9,1102.4 L937.0,1103.4 L937.0,1103.8 M939.0,1127.6 L939.0,1128.3 L939.1,1129.3 L939.2,1130.3 L939.3,1131.3 L939.4,1132.3 L939.5,1133.3 L939.5,1134.3 L939.6,1135.3 L939.7,1136.3 L939.8,1137.3 L939.9,1138.3 L939.9,1139.3 L940.0,1140.3 L940.1,1141.3 L940.1,1142.3 L940.2,1142.5 M941.6,1166.3 L941.6,1166.3 L941.6,1167.3 L941.7,1168.3 L941.8,1169.3 L941.8,1170.3 L941.9,1171.2 L941.9,1172.2 L942.0,1173.2 L942.0,1174.2 L942.1,1175.2 L942.1,1176.2 L942.2,1177.2 L942.2,1178.2 L942.3,1179.2 L942.3,1180.2 L942.4,1181.2 L942.4,1182.2 L942.5,1183.2 L942.5,1184.2 L942.6,1185.2 L942.6,1186.2 L942.7,1187.2 L942.7,1188.2 L942.8,1189.2 L942.8,1190.2 L942.9,1191.2 L942.9,1192.2 L943.0,1193.2 L943.0,1194.2 L943.1,1195.2 L943.1,1196.2 L943.1,1197.2 L943.2,1198.2 L943.2,1199.2 L943.3,1200.2 L943.3,1201.2 L943.4,1202.2 L943.4,1203.2 L943.5,1204.2 L943.5,1205.2 L943.6,1206.2 L943.6,1207.2 L943.7,1208.2 L943.7,1209.2 L943.7,1210.2 L943.8,1211.2 L943.8,1212.2 L943.9,1213.2 L943.9,1214.2 L944.0,1215.2 L944.0,1216.2 L944.1,1217.2 L944.1,1218.2 L944.1,1219.2 L944.2,1220.2 L944.2,1221.2 L944.3,1222.2 L944.3,1223.2 L944.3,1224.2 L944.4,1225.2 L944.4,1226.2 L944.5,1227.2 L944.5,1228.2 L944.6,1229.2 L944.6,1230.2 L944.6,1231.2 L944.7,1232.2 L944.7,1233.2 L944.8,1234.2 L944.8,1235.2 L944.9,1236.2 L944.9,1237.2 L944.9,1238.2 L945.0,1239.2 L945.0,1240.2 L945.1,1241.2 L945.1,1242.2 L945.2,1243.2 L945.2,1244.2 L945.3,1245.2 L945.3,1246.2 L945.4,1247.2 L945.5,1248.2 L945.5,1249.2 L945.6,1250.2 L945.6,1251.2 L945.7,1252.2 L945.8,1253.0 M947.9,1274.6 L948.0,1275.0 L948.1,1276.0 L948.2,1277.0 L948.4,1278.0 L948.5,1278.9 L948.7,1279.9 L948.8,1280.9 L949.0,1281.9 L949.2,1282.9 L949.3,1283.9 L949.5,1284.8 L949.7,1285.8 L949.9,1286.8 L950.1,1287.8 L950.2,1288.0 M959.3,1291.2 L959.3,1291.2 L959.5,1290.3 L959.7,1289.3 L959.8,1288.3 L959.9,1287.3 L960.0,1286.3 L960.1,1285.3 L960.2,1284.3 L960.3,1283.3 L960.3,1282.3 L960.4,1281.3 L960.4,1280.3 L960.5,1279.3 L960.5,1278.3 L960.6,1277.3 L960.6,1276.3 L960.6,1275.3 L960.6,1274.3 L960.7,1273.3 L960.7,1272.4 L960.7,1271.4 L960.7,1270.3 L960.7,1269.3 L960.7,1268.3 L960.8,1267.4 L960.8,1266.4 L960.8,1265.3 L960.8,1264.4 L960.8,1263.4 L960.9,1262.4 L960.9,1261.4 L960.9,1260.4 L960.9,1259.4 L960.9,1258.4 L960.9,1257.4 L960.9,1256.4 L960.9,1255.4 L960.9,1254.4 L961.0,1253.4 L961.0,1252.4 L961.0,1251.4 L961.0,1250.4 L961.0,1249.4 L961.0,1248.4 L961.0,1247.4 L961.0,1246.4 L961.0,1245.4 L961.0,1244.4 L961.0,1243.4 L961.0,1242.4 L961.0,1241.4 L961.0,1240.4 L961.0,1239.4 L961.0,1238.4 L961.0,1237.4 L961.0,1236.4 L961.0,1235.4 L961.0,1234.4 L961.0,1233.4 L961.0,1232.4 L961.0,1231.4 L961.0,1230.4 L961.0,1229.4 L961.0,1228.4 L961.0,1227.4 L961.0,1226.4 L961.0,1225.4 L961.0,1224.4 L961.0,1223.4 L961.0,1222.4 L961.0,1221.4 L961.0,1220.4 L961.0,1219.4 L961.1,1218.4 L961.1,1217.4 L961.1,1216.4 L961.1,1215.4 L961.1,1214.4 L961.2,1213.4 L961.2,1212.4 L961.2,1211.4 L961.2,1210.4 L961.3,1209.4 L961.3,1208.4 L961.3,1207.4 L961.4,1206.4 L961.4,1205.4 L961.4,1204.4 L961.5,1203.8 M962.7,1182.0 L962.7,1181.4 L962.8,1180.4 L962.9,1179.5 L962.9,1178.5 L963.0,1177.5 L963.1,1176.5 L963.1,1175.5 L963.2,1174.5 L963.3,1173.5 L963.3,1172.5 L963.4,1171.5 L963.5,1170.5 L963.5,1169.5 L963.6,1168.5 L963.6,1168.4 M965.0,1146.5 L965.0,1146.5 L965.1,1145.5 L965.1,1144.5 L965.2,1143.5 L965.2,1142.5 L965.3,1141.5 L965.3,1140.5 L965.4,1139.5 L965.5,1138.5 L965.5,1137.5 L965.6,1136.5 L965.6,1135.5 L965.7,1134.5 L965.7,1133.5 L965.8,1132.5 L965.9,1131.5 L965.9,1130.5 L966.0,1129.5 L966.0,1128.5 L966.1,1127.6 L966.1,1126.6 L966.2,1125.6 L966.2,1124.6 L966.3,1123.6 L966.3,1122.6 L966.4,1121.6 L966.5,1120.6 L966.5,1119.6 L966.6,1118.6 L966.6,1117.6 L966.7,1116.6 L966.7,1115.6 L966.8,1114.6 L966.8,1113.6 L966.9,1112.6 L966.9,1111.6 L967.0,1110.6 L967.0,1109.6 L967.1,1108.6 L967.1,1107.6 L967.2,1106.6 L967.2,1105.6 L967.3,1104.6 L967.3,1103.6 L967.4,1102.6 L967.4,1101.6 L967.5,1100.6 L967.5,1099.6 L967.6,1098.6 L967.6,1097.6 L967.6,1096.6 L967.7,1095.6 L967.7,1094.6 L967.8,1093.6 L967.8,1092.6 L967.9,1091.6 L967.9,1090.6 L967.9,1089.6 L968.0,1088.6 L968.0,1087.6 L968.0,1086.6 L968.1,1085.6 L968.1,1084.6 L968.2,1083.6 L968.2,1082.6 L968.2,1081.6 L968.3,1080.6 L968.3,1079.6 L968.3,1078.6 L968.4,1077.6 L968.4,1076.6 L968.4,1075.6 L968.4,1074.6 L968.5,1073.6 L968.5,1072.6 L968.5,1071.6 L968.6,1070.6 L968.6,1069.6 L968.6,1068.6 L968.6,1067.6 L968.7,1066.6 L968.7,1065.6 L968.7,1064.6 L968.7,1063.6 L968.8,1062.6 L968.8,1061.6 L968.8,1060.6 L968.8,1059.6 L968.9,1058.6 L968.9,1057.6 L968.9,1056.6 L968.9,1055.6 L969.0,1054.6 L969.0,1053.6 L969.0,1052.6 L969.0,1051.6 L969.1,1050.6 L969.1,1049.6 L969.1,1049.4 M969.8,1025.1 L969.8,1024.6 L969.8,1023.6 L969.9,1022.6 L969.9,1021.6 L969.9,1020.6 L970.0,1019.6 L970.0,1018.6 L970.0,1017.6 L970.1,1016.6 L970.1,1015.6 L970.1,1014.6 L970.1,1013.6 L970.2,1012.6 L970.2,1011.6 L970.2,1010.6 L970.2,1009.9 M971.0,985.6 L971.0,985.6 L971.1,984.6 L971.1,983.6 L971.1,982.6 L971.2,981.6 L971.2,980.6 L971.3,979.6 L971.3,978.6 L971.3,977.6 L971.4,976.6 L971.4,975.7 L971.5,974.7 L971.5,973.7 L971.5,972.7 L971.6,971.7 L971.6,970.7 L971.7,969.7 L971.7,968.7 L971.8,967.7 L971.8,966.7 L971.8,965.7 L971.9,964.7 L971.9,963.7 L972.0,962.7 L972.0,961.7 L972.1,960.7 L972.1,959.7 L972.2,958.7 L972.2,957.7 L972.2,956.7 L972.3,955.7 L972.3,954.7 L972.4,953.7 L972.4,952.7 L972.5,951.7 L972.5,950.7 L972.6,949.7 L972.6,948.7 L972.7,947.7 L972.7,946.7 L972.7,945.7 L972.8,944.7 L972.8,943.7 L972.9,942.7 L972.9,941.7 L973.0,940.7 L973.0,939.7 L973.1,938.7 L973.1,937.7 L973.2,936.7 L973.2,935.7 L973.2,934.7 L973.3,933.7 L973.3,932.7 L973.4,931.7 L973.4,930.7 L973.5,929.7 L973.5,928.7 L973.6,927.7 L973.6,926.7 L973.7,925.7 L973.7,924.7 L973.7,923.7 L973.8,922.7 L973.8,921.7 L973.9,920.7 L973.9,919.7 L974.0,918.7 L974.0,917.7 L974.1,916.7 L974.1,915.7 L974.1,914.7 L974.2,913.7 L974.2,912.7 L974.3,911.7 L974.3,910.7 L974.4,909.7 L974.4,908.7 L974.4,907.7 L974.5,906.7 L974.5,905.7 L974.6,904.7 L974.6,903.7 L974.6,902.7 L974.7,901.7 L974.7,900.7 L974.8,899.7 L974.8,898.7 L974.8,897.7 L974.9,896.7 L974.9,895.7 L974.9,894.7 L975.0,893.7 L975.0,892.7 L975.0,891.7 L975.1,891.5 M975.9,868.0 L975.9,867.7 L975.9,866.7 L976.0,865.7 L976.0,864.8 L976.1,863.8 L976.1,862.8 L976.2,861.8 L976.2,860.8 L976.3,859.8 L976.3,858.8 L976.4,857.8 L976.5,856.8 L976.5,855.8 L976.6,854.8 L976.6,853.8 L976.6,853.3 M977.9,829.8 L977.9,829.8 L977.9,828.8 L977.9,827.8 L978.0,826.8 L978.0,825.8 L978.1,824.8 L978.1,823.8 L978.1,822.8 L978.1,821.8 L978.2,820.8 L978.2,819.8 L978.2,818.8 L978.3,817.8 L978.3,816.8 L978.3,815.8 L978.3,814.8 L978.4,813.8 L978.4,812.8 L978.4,811.8 L978.4,810.8 L978.5,809.8 L978.5,808.8 L978.5,807.8 L978.5,806.8 L978.6,805.8 L978.6,804.8 L978.6,803.8 L978.6,802.8 L978.6,801.8 L978.7,800.8 L978.7,799.8 L978.7,798.8 L978.7,797.8 L978.7,796.8 L978.8,795.8 L978.8,794.8 L978.8,793.8 L978.8,792.8 L978.8,791.8 L978.9,790.8 L978.9,789.8 L978.9,788.8 L978.9,787.8 L978.9,786.8 L978.9,785.8 L979.0,784.8 L979.0,783.8 L979.0,782.8 L979.0,781.8 L979.0,780.8 L979.1,779.8 L979.1,778.8 L979.1,777.8 L979.1,776.8 L979.1,775.8 L979.2,774.8 L979.2,773.8 L979.2,772.8 L979.2,771.8 L979.2,770.8 L979.3,769.8 L979.3,768.8 L979.3,767.8 L979.3,766.8 L979.3,765.8 L979.4,764.8 L979.4,763.8 L979.4,762.8 L979.4,761.8 L979.4,760.8 L979.5,759.8 L979.5,758.8 L979.5,757.8 L979.5,756.8 L979.5,755.8 L979.6,754.8 L979.6,753.8 L979.6,752.8 L979.6,751.8 L979.7,750.8 L979.7,749.8 L979.7,748.8 L979.7,747.8 L979.8,746.8 L979.8,745.8 L979.8,744.8 L979.9,743.8 L979.9,742.8 L979.9,741.8 L980.0,740.8 L980.0,739.8 L980.0,738.8 L980.1,737.8 L980.1,736.8 L980.1,735.8 L980.2,734.8 L980.2,733.8 L980.2,733.2 M981.5,709.1 L981.5,708.9 L981.6,707.9 L981.6,706.9 L981.7,705.9 L981.7,704.9 L981.8,703.9 L981.8,702.9 L981.9,701.9 L981.9,700.9 L982.0,699.9 L982.0,698.9 L982.1,697.9 L982.1,696.9 L982.2,695.9 L982.2,694.9 L982.2,694.1 M983.0,669.9 L983.0,669.9 L983.1,668.9 L983.1,667.9 L983.2,666.9 L983.2,665.9 L983.2,664.9 L983.3,663.9 L983.3,662.9 L983.3,661.9 L983.4,660.9 L983.4,659.9 L983.4,658.9 L983.5,657.9 L983.5,656.9 L983.5,655.9 L983.6,654.9 L983.6,653.9 L983.7,652.9 L983.7,651.9 L983.7,650.9 L983.8,649.9 L983.8,648.9 L983.9,647.9 L983.9,646.9 L983.9,645.9 L984.0,644.9 L984.0,643.9 L984.1,642.9 L984.1,641.9 L984.1,640.9 L984.2,639.9 L984.2,638.9 L984.3,637.9 L984.3,636.9 L984.3,635.9 L984.4,634.9 L984.4,633.9 L984.5,632.9 L984.5,631.9 L984.5,630.9 L984.6,629.9 L984.6,628.9 L984.7,628.0 L984.7,627.0 L984.8,626.0 L984.8,625.0 L984.8,624.0 L984.9,623.0 L984.9,622.0 L985.0,621.0 L985.0,620.0 L985.1,619.0 L985.1,618.0 L985.1,617.0 L985.2,616.0 L985.2,615.0 L985.3,614.0 L985.3,613.0 L985.4,612.0 L985.4,611.0 L985.4,610.0 L985.5,609.0 L985.5,608.0 L985.6,607.0 L985.6,606.0 L985.7,605.0 L985.7,604.0 L985.8,603.0 L985.8,602.0 L985.9,601.0 L985.9,600.0 L985.9,599.0 L986.0,598.0 L986.0,597.0 L986.1,596.0 L986.1,595.0 L986.2,594.0 L986.2,593.0 L986.3,592.0 L986.3,591.0 L986.4,590.0 L986.4,589.0 L986.5,588.0 L986.5,587.0 L986.6,586.0 L986.6,585.0 L986.7,584.0 L986.7,583.0 L986.8,582.0 L986.8,581.0 L986.9,580.0 L986.9,579.0 L987.0,578.0 L987.0,577.0 L987.1,576.0 L987.2,575.0 L987.2,574.6 M988.6,550.8 L988.6,550.1 L988.7,549.1 L988.7,548.1 L988.8,547.1 L988.9,546.1 L988.9,545.1 L989.0,544.1 L989.0,543.1 L989.1,542.1 L989.2,541.1 L989.2,540.1 L989.3,539.1 L989.3,538.1 L989.4,537.1 L989.5,536.1 L989.5,535.9 M991.1,512.1 L991.1,512.1 L991.2,511.1 L991.2,510.1 L991.3,509.1 L991.4,508.1 L991.5,507.1 L991.5,506.2 L991.6,505.2 L991.7,504.2 L991.8,503.2 L991.9,502.2 L991.9,501.2 L992.0,500.2 L992.1,499.2 L992.2,498.2 L992.3,497.2 L992.4,496.2 L992.4,495.2 L992.5,494.2 L992.6,493.2 L992.7,492.2 L992.8,491.2 L992.9,490.2 L992.9,489.2 L993.0,488.2 L993.1,487.2 L993.2,486.2 L993.3,485.2 L993.4,484.2 L993.5,483.2 L993.5,482.2 L993.6,481.2 L993.7,480.2 L993.8,479.2 L993.9,478.2 L994.0,477.3 L994.0,476.3 L994.1,475.3 L994.2,474.3 L994.3,473.3 L994.4,472.3 L994.4,471.3 L994.5,470.3 L994.6,469.3 L994.7,468.3 L994.7,467.3 L994.8,466.3 L994.9,465.3 L995.0,464.3 L995.0,463.3 L995.1,462.3 L995.2,461.3 L995.3,460.3 L995.3,459.3 L995.4,458.3 L995.5,457.3 L995.5,456.3 L995.6,455.3 L995.7,454.3 L995.8,453.3 L995.8,452.3 L995.9,451.3 L996.0,450.3 L996.0,449.3 L996.1,448.3 L996.2,447.3 L996.2,446.3 L996.3,445.3 L996.3,444.3 L996.4,443.3 L996.5,442.3 L996.5,441.3 L996.6,440.3 L996.7,439.3 L996.7,438.4 L996.8,437.4 L996.9,436.4 L996.9,435.4 L997.0,434.4 L997.1,433.4 L997.1,432.4 L997.2,431.4 L997.3,430.4 L997.3,429.4 L997.4,428.4 L997.5,427.4 L997.5,426.4 L997.6,425.4 L997.7,424.4 L997.8,423.4 L997.8,422.4 L997.9,421.4 L998.0,420.4 L998.1,419.4 L998.1,418.4 L998.2,417.4 L998.3,416.4 M1000.6,392.5 L1000.6,392.5 L1000.7,391.5 L1000.8,390.5 L1000.9,389.5 L1001.0,388.6 L1001.2,387.6 L1001.3,386.6 L1001.4,385.6 L1001.5,384.6 L1001.7,383.6 L1001.8,382.6 L1001.9,381.6 L1002.1,380.6 L1002.2,379.6 L1002.4,378.6 L1002.5,377.7 M1005.7,353.9 L1005.7,353.9 L1005.9,352.9 L1006.0,351.9 L1006.1,350.9 L1006.2,349.9 L1006.3,348.9 L1006.4,347.9 L1006.5,346.9 L1006.6,345.9 L1006.7,344.9 L1006.8,343.9 L1006.9,343.0 L1007.1,342.0 L1007.2,341.0 L1007.2,340.0 L1007.3,339.0 L1007.4,338.0 L1007.5,337.0 L1007.6,336.0 L1007.7,335.0 L1007.8,334.0 L1007.9,333.0 L1008.0,332.0 L1008.1,331.0 L1008.2,330.0 L1008.3,329.0 L1008.4,328.0 L1008.5,327.0 L1008.6,326.0 L1008.7,325.0 L1008.8,324.1 L1008.9,323.1 L1009.0,322.1 L1009.1,321.1 L1009.2,320.1 L1009.3,319.1 L1009.5,318.1 L1009.6,317.1 L1009.7,316.1 L1009.8,315.1 L1009.9,314.1 L1010.0,313.1 L1010.2,312.1 L1010.3,311.1 L1010.4,310.1 L1010.5,309.2 L1010.7,308.2 L1010.8,307.2 L1010.9,306.2 L1011.0,305.2 L1011.2,304.2 L1011.3,303.2 L1011.4,302.2 L1011.6,301.2 L1011.7,300.2 L1011.9,299.2 L1012.0,298.3 L1012.1,297.3 L1012.3,296.3 L1012.4,295.3 L1012.5,294.3 L1012.7,293.3 L1012.8,292.3 L1013.0,291.3 L1013.1,290.3 L1013.3,289.3 L1013.4,288.4 L1013.5,287.4 L1013.7,286.4 L1013.8,285.4 L1014.0,284.4 L1014.1,283.4 L1014.3,282.4 L1014.4,281.4 L1014.5,280.4 L1014.7,279.4 L1014.8,278.5 L1015.0,277.5 L1015.1,276.5 L1015.3,275.5 L1015.4,274.5 L1015.6,273.5 L1015.7,272.5 L1015.9,271.5 L1016.0,270.5 L1016.2,269.6 L1016.3,268.6 L1016.5,267.6 L1016.6,266.6 L1016.8,265.6 L1016.9,264.6 L1017.1,263.6 L1017.2,262.6 L1017.4,261.6 L1017.5,260.7 L1017.7,259.7 L1017.8,258.7 L1017.9,258.2 M1022.3,234.6 L1022.4,234.2 L1022.7,233.2 L1022.9,232.2 L1023.2,231.3 L1023.4,230.3 L1023.7,229.3 L1023.9,228.4 L1024.2,227.4 L1024.5,226.4 L1024.7,225.5 L1025.0,224.5 L1025.3,223.6 L1025.6,222.6 L1025.9,221.7 L1026.2,220.7 L1026.5,220.1 M1036.3,198.1 L1036.3,198.1 L1036.8,197.3 L1037.3,196.4 L1037.8,195.6 L1038.3,194.7 L1038.9,193.9 L1039.4,193.1 L1040.0,192.2 L1040.5,191.4 L1041.1,190.6 L1041.6,189.8 L1042.2,189.0 L1042.8,188.1 L1043.4,187.3 L1044.0,186.5 L1044.5,185.7 L1045.1,184.9 L1045.7,184.1 L1046.3,183.3 L1046.9,182.6 L1047.5,181.8 L1048.2,181.0 L1048.8,180.2 L1049.4,179.4 L1050.0,178.6 L1050.6,177.8 L1051.2,177.1 L1051.9,176.3 L1052.5,175.5 L1053.1,174.8 L1053.8,174.0 L1054.4,173.2 L1055.0,172.5 L1055.7,171.7 L1056.3,171.0 L1057.0,170.2 L1057.7,169.5 L1058.3,168.7 L1059.0,168.0 L1059.7,167.3 L1060.3,166.6 L1061.0,165.9 L1061.7,165.1 L1062.4,164.4 L1063.1,163.8 L1063.8,163.1 L1064.5,162.4 L1065.3,161.7 L1066.0,161.1 L1066.7,160.4 L1067.5,159.8 L1068.2,159.1 L1069.0,158.5 L1069.8,157.9 L1070.5,157.2 L1071.3,156.6 L1072.1,156.0 L1072.9,155.5 L1073.7,154.9 L1074.5,154.3 L1075.3,153.7 L1076.1,153.2 L1077.0,152.6 L1077.8,152.1 L1078.6,151.6 L1079.5,151.0 L1080.3,150.5 L1081.2,150.0 L1082.0,149.5 L1082.9,149.0 L1083.7,148.5 L1084.6,148.0 L1085.5,147.5 L1086.4,147.1 L1087.2,146.6 L1088.1,146.2 L1089.0,145.7 L1089.9,145.3 L1090.8,144.8 L1091.7,144.4 L1092.6,144.0 L1093.5,143.6 L1094.4,143.2 L1095.3,142.8 L1096.2,142.4 L1097.1,142.0 L1098.1,141.6 L1099.0,141.3 L1099.9,140.9 L1100.8,140.6 L1101.4,140.4 M1122.7,134.1 L1122.8,134.1 L1123.8,133.8 L1124.7,133.6 L1125.7,133.4 L1126.7,133.2 L1127.7,133.0 L1128.6,132.7 L1129.6,132.5 L1130.6,132.3 L1131.6,132.1 L1132.6,131.9 L1133.5,131.7 L1134.5,131.5 L1135.5,131.4 L1136.2,131.2 M1158.2,127.9 L1158.2,127.9 L1159.2,127.8 L1160.2,127.7 L1161.2,127.6 L1162.2,127.5 L1163.2,127.4 L1164.2,127.3 L1165.2,127.3 L1166.2,127.2 L1167.2,127.1 L1168.2,127.0 L1169.1,127.0 L1170.1,126.9 L1171.1,126.8 L1172.1,126.8 L1173.1,126.7 L1174.1,126.7 L1175.1,126.6 L1176.1,126.6 L1177.1,126.5 L1178.1,126.5 L1179.1,126.5 L1180.1,126.4 L1181.1,126.4 L1182.1,126.4 L1183.1,126.3 L1184.1,126.3 L1185.1,126.3 L1186.1,126.3 L1187.1,126.2 L1188.1,126.2 L1189.1,126.2 L1190.1,126.2 L1191.1,126.2 L1192.1,126.1 L1193.1,126.1 L1194.1,126.1 L1195.1,126.1 L1196.1,126.1 L1197.1,126.1 L1198.1,126.0 L1199.1,126.0 L1200.1,126.0 L1201.1,126.0 L1202.1,126.0 L1203.1,126.0 L1204.1,126.0 L1205.1,126.0 L1206.1,126.0 L1207.1,125.9 L1208.1,125.9 L1209.1,125.9 L1210.1,125.9 L1211.1,125.9 L1212.1,125.9 L1213.1,125.9 L1214.1,125.9 L1215.1,125.9 L1216.1,125.9 L1217.1,125.8 L1218.1,125.8 L1219.1,125.8 L1220.1,125.8 L1221.1,125.8 L1222.1,125.8 L1223.1,125.8 L1224.1,125.8 L1225.1,125.8 L1226.1,125.8 L1227.1,125.8 L1228.1,125.8 L1229.1,125.8 L1230.1,125.8 L1231.1,125.8 L1232.1,125.7 L1233.1,125.7 L1234.1,125.7 L1235.1,125.7 L1236.1,125.7 L1237.1,125.7 L1238.1,125.7 L1239.1,125.7 L1240.1,125.7 L1241.1,125.7 L1242.1,125.7 L1243.1,125.7 L1244.1,125.7 L1245.1,125.7 L1246.1,125.7 L1247.1,125.7 L1248.1,125.7 L1249.1,125.7 L1250.1,125.7 L1251.1,125.7 M1274.3,125.6 L1275.1,125.6 L1276.1,125.6 L1277.1,125.6 L1278.1,125.6 L1279.1,125.6 L1280.1,125.6 L1281.1,125.6 L1282.1,125.6 L1283.1,125.6 L1284.1,125.6 L1285.1,125.6 L1286.1,125.6 L1287.1,125.6 L1288.1,125.5 L1288.9,125.5 M1312.1,125.5 L1312.1,125.5 L1313.1,125.5 L1314.1,125.5 L1315.1,125.5 L1316.1,125.5 L1317.1,125.5 L1318.1,125.5 L1319.1,125.5 L1320.1,125.5 L1321.1,125.5 L1322.1,125.5 L1323.1,125.5 L1324.1,125.5 L1325.1,125.5 L1326.1,125.5 L1327.1,125.5 L1328.1,125.5 L1329.1,125.5 L1330.1,125.5 L1331.1,125.5 L1332.1,125.5 L1333.1,125.5 L1334.1,125.5 L1335.1,125.5 L1336.1,125.5 L1337.1,125.5 L1338.1,125.5 L1339.1,125.5 L1340.1,125.5 L1341.1,125.5 L1342.1,125.5 L1343.1,125.5 L1344.1,125.5 L1345.1,125.5 L1346.1,125.5 L1347.1,125.5 L1348.1,125.5 L1349.1,125.5 L1350.1,125.5 L1351.1,125.5 L1352.1,125.5 L1353.1,125.5 L1354.1,125.5 L1355.1,125.5 L1356.1,125.5 L1357.1,125.5 L1358.1,125.5 L1359.1,125.5 L1360.1,125.5 L1361.1,125.5 L1362.1,125.5 L1363.1,125.5 L1364.1,125.5 L1365.1,125.5 L1366.1,125.5 L1367.1,125.5 L1368.1,125.5 L1369.1,125.5 L1370.1,125.5 L1371.1,125.5 L1372.1,125.5 L1373.1,125.5 L1374.1,125.5 L1375.1,125.5 L1376.1,125.5 L1377.1,125.5 L1378.1,125.5 L1379.1,125.5 L1380.1,125.5 L1381.1,125.5 L1382.1,125.5 L1383.1,125.5 L1384.1,125.5 L1385.1,125.5 L1386.1,125.5 L1387.1,125.5 L1388.1,125.5 L1389.1,125.5 L1390.1,125.5 L1391.1,125.5 L1392.1,125.5 L1393.1,125.5 L1394.1,125.5 L1395.1,125.5 L1396.1,125.5 L1397.1,125.5 L1398.1,125.5 L1399.1,125.5 L1400.1,125.5 L1401.1,125.5 L1402.1,125.5 L1403.1,125.5 L1404.1,125.5 L1405.1,125.5 L1406.1,125.5 L1407.1,125.5 L1407.5,125.5 M1431.4,125.5 L1432.1,125.5 L1433.1,125.5 L1434.1,125.5 L1435.1,125.5 L1436.1,125.5 L1437.1,125.5 L1438.1,125.5 L1439.1,125.5 L1440.1,125.5 L1441.1,125.5 L1442.1,125.5 L1443.1,125.5 L1444.1,125.5 L1445.1,125.5 L1446.1,125.5 L1446.3,125.5 M1470.1,125.5 L1470.1,125.5 L1471.1,125.5 L1472.1,125.5 L1473.1,125.5 L1474.1,125.5 L1475.1,125.5 L1476.1,125.5 L1477.1,125.5 L1478.1,125.5 L1479.1,125.5 L1480.1,125.5 L1481.1,125.5 L1482.1,125.5 L1483.1,125.5 L1484.1,125.5 L1485.1,125.5 L1486.1,125.5 L1487.1,125.5 L1488.1,125.5 L1489.1,125.5 L1490.1,125.5 L1491.1,125.5 L1492.1,125.5 L1493.1,125.5 L1494.1,125.5 L1495.1,125.5 L1496.1,125.5 L1497.1,125.5 L1498.1,125.5 L1499.1,125.5 L1500.1,125.5 L1501.1,125.5 L1502.1,125.5 L1503.1,125.5 L1504.1,125.5 L1505.1,125.5 L1506.1,125.5 L1507.1,125.5 L1508.1,125.5 L1509.1,125.5 L1510.1,125.5 L1511.1,125.5 L1512.1,125.5 L1513.1,125.5 L1514.1,125.5 L1515.1,125.5 L1516.1,125.5 L1517.1,125.5 L1518.1,125.5 L1519.1,125.5 L1520.1,125.5 L1521.1,125.5 L1522.1,125.5 L1523.1,125.5 L1524.1,125.5 L1525.1,125.5 L1526.1,125.5 L1527.1,125.5 L1528.1,125.5 L1529.1,125.5 L1530.1,125.5 L1531.1,125.5 L1532.1,125.5 L1533.1,125.5 L1534.1,125.5 L1535.1,125.5 L1536.1,125.5 L1537.1,125.5 L1538.1,125.5 L1539.1,125.5 L1540.1,125.5 L1541.1,125.5 L1542.1,125.5 L1543.1,125.5 L1544.1,125.5 L1545.1,125.5 L1546.1,125.5 L1547.1,125.5 L1548.1,125.5 L1549.1,125.5 L1550.1,125.5 L1551.1,125.5 L1552.1,125.5 L1553.1,125.5 L1554.1,125.5 L1555.1,125.5 L1556.1,125.5 L1557.1,125.5 L1558.1,125.5 L1559.1,125.5 L1560.1,125.5 L1561.1,125.5 L1562.1,125.5 L1563.1,125.5 L1564.1,125.5 L1564.3,125.5 M1587.9,125.3 L1588.1,125.3 L1589.1,125.3 L1590.1,125.3 L1591.1,125.3 L1592.1,125.3 L1593.1,125.3 L1594.1,125.3 L1595.1,125.3 L1596.1,125.3 L1597.1,125.3 L1598.1,125.3 L1599.1,125.3 L1600.1,125.2 L1601.1,125.2 L1602.1,125.2 L1602.6,125.2 M1626.1,125.0 L1626.1,125.0 L1627.1,125.0 L1628.1,125.0 L1629.1,124.9 L1630.1,124.9 L1631.1,124.9 L1632.1,124.9 L1633.1,124.9 L1634.1,124.9 L1635.1,124.9 L1636.1,124.9 L1637.1,124.8 L1638.1,124.8 L1639.1,124.8 L1640.1,124.8 L1641.1,124.8 L1642.1,124.8 L1643.1,124.8 L1644.1,124.7 L1645.1,124.7 L1646.1,124.7 L1647.1,124.7 L1648.1,124.7 L1649.1,124.7 L1650.1,124.7 L1651.1,124.6 L1652.1,124.6 L1653.1,124.6 L1654.1,124.6 L1655.1,124.6 L1656.1,124.6 L1657.1,124.6 L1658.1,124.5 L1659.1,124.5 L1660.1,124.5 L1661.1,124.5 L1662.1,124.5 L1663.1,124.5 L1664.1,124.5 L1665.1,124.4 L1666.1,124.4 L1667.1,124.4 L1668.1,124.4 L1669.1,124.4 L1670.1,124.4 L1671.1,124.4 L1672.1,124.3 L1673.1,124.3 L1674.1,124.3 L1675.1,124.3 L1676.1,124.3 L1677.1,124.3 L1678.1,124.3 L1679.1,124.2 L1680.1,124.2 L1681.1,124.2 L1682.1,124.2 L1683.1,124.2 L1684.1,124.2 L1685.1,124.2 L1686.1,124.2 L1687.1,124.2 L1688.1,124.1 L1689.1,124.1 L1690.1,124.1 L1691.1,124.1 L1692.1,124.1 L1693.1,124.1 L1694.1,124.1 L1695.1,124.1 L1696.1,124.1 L1697.1,124.0 L1698.1,124.0 L1699.1,124.0 L1700.1,124.0 L1701.1,124.0 L1702.1,124.0 L1703.1,124.0 L1704.1,124.0 L1705.1,124.0 L1706.1,124.0 L1707.1,124.0 L1708.1,123.9 L1709.1,123.9 L1710.1,123.9 L1711.1,123.9 L1712.1,123.9 L1713.1,123.9 L1714.1,123.9 L1715.1,123.9 L1716.1,123.9 L1717.1,123.9 L1718.1,123.9 L1719.1,123.9 L1720.1,123.9 L1721.1,123.9 L1721.2,123.9 M1745.0,123.7 L1745.1,123.7 L1746.1,123.7 L1747.1,123.7 L1748.1,123.7 L1749.1,123.7 L1750.1,123.7 L1751.1,123.7 L1752.1,123.7 L1753.1,123.7 L1754.1,123.7 L1755.1,123.7 L1756.1,123.7 L1757.1,123.7 L1758.1,123.7 L1759.1,123.7 L1759.8,123.7 M1783.6,123.6 L1784.1,123.6 L1785.1,123.6 L1786.1,123.6 L1787.1,123.5 L1788.1,123.5 L1789.1,123.5 L1790.1,123.5 L1791.1,123.5 L1792.1,123.5 L1793.1,123.5 L1794.1,123.5 L1795.1,123.5 L1796.1,123.5 L1797.1,123.5 L1798.1,123.5 L1799.1,123.5 L1800.1,123.5 L1801.1,123.5 L1802.1,123.5 L1803.1,123.5 L1804.1,123.5 L1805.1,123.5 L1806.1,123.5 L1807.1,123.5 L1808.1,123.5 L1809.1,123.5 L1810.1,123.5 L1811.1,123.5 L1812.1,123.5 L1813.1,123.5 L1814.1,123.5 L1815.1,123.5 L1816.1,123.5 L1817.1,123.5 L1818.1,123.5 L1819.1,123.5 L1820.1,123.5 L1821.1,123.5 L1822.1,123.5 L1823.1,123.5 L1824.1,123.5 L1825.1,123.5 L1826.1,123.5 L1827.1,123.5 L1828.1,123.5 L1829.1,123.5 L1830.1,123.5 L1831.1,123.5 L1832.1,123.5 L1833.1,123.5 L1834.1,123.5 L1835.1,123.5 L1836.1,123.5 L1837.1,123.5 L1838.1,123.5 L1839.1,123.5 L1840.1,123.5 L1841.1,123.5 L1842.1,123.5 L1843.1,123.5 L1844.1,123.5 L1845.1,123.5 L1846.1,123.5 L1847.1,123.5 L1848.1,123.5 L1849.1,123.5 L1850.1,123.5 L1851.1,123.5 L1852.1,123.5 L1853.1,123.5 L1854.1,123.5 L1855.1,123.5 L1856.1,123.5 L1857.1,123.5 L1858.1,123.5 L1859.1,123.5 L1860.1,123.5 L1861.1,123.4 L1862.1,123.4 L1863.1,123.4 L1864.1,123.4 L1865.1,123.4 L1866.1,123.4 L1867.1,123.4 L1868.1,123.4 L1869.1,123.4 L1870.1,123.4 L1871.1,123.4 L1872.1,123.4 L1873.1,123.4 L1874.1,123.4 L1875.1,123.4 L1876.1,123.4 L1877.1,123.4 L1878.1,123.3 L1878.7,123.3 M1902.5,123.0 L1903.1,123.0 L1904.1,123.0 L1905.1,123.0 L1906.1,122.9 L1907.1,122.9 L1908.1,122.9 L1909.1,122.9 L1910.1,122.9 L1911.1,122.8 L1912.1,122.8 L1913.1,122.8 L1914.1,122.8 L1915.1,122.8 L1916.1,122.8 L1917.1,122.7 L1917.3,122.7 M1941.1,122.4 L1941.1,122.4 L1942.1,122.4 L1943.1,122.4 L1944.1,122.4 L1945.1,122.4 L1946.1,122.4 L1947.1,122.4 L1948.1,122.4 L1949.1,122.4 L1950.1,122.4 L1951.1,122.4 L1952.1,122.4 L1953.1,122.4 L1954.1,122.4 L1955.1,122.3 L1956.1,122.3 L1957.1,122.3 L1958.1,122.3 L1959.1,122.3 L1960.1,122.3 L1961.1,122.3 L1962.1,122.3 L1963.1,122.3 L1964.1,122.3 L1965.1,122.3 L1966.1,122.3 L1967.1,122.3 L1968.1,122.3 L1969.1,122.3 L1970.1,122.3 L1971.1,122.3 L1972.1,122.3 L1973.1,122.3 L1974.1,122.3 L1975.1,122.3 L1976.1,122.3 L1977.1,122.3 L1978.1,122.3 L1979.1,122.3 L1980.1,122.3 L1981.1,122.3 L1982.1,122.3 L1983.1,122.3 L1984.1,122.3 L1985.1,122.3 L1986.1,122.3 L1987.1,122.3 L1988.1,122.3 L1989.1,122.3 L1990.1,122.3 L1991.1,122.3 L1992.1,122.3 L1993.1,122.3 L1994.1,122.3 L1995.1,122.3 L1996.1,122.3 L1997.1,122.3 L1998.1,122.3 L1999.1,122.3 L2000.1,122.3 L2001.1,122.3 L2002.1,122.3 L2003.1,122.3 L2004.1,122.3 L2005.1,122.3 L2006.1,122.3 L2007.1,122.3 L2008.1,122.3 L2009.1,122.3 L2010.1,122.3 L2011.1,122.3 L2012.1,122.3 L2013.1,122.3 L2014.1,122.3 L2015.1,122.3 L2016.1,122.3 L2017.1,122.3 L2018.1,122.3 L2019.1,122.3 L2020.1,122.4 L2021.1,122.4 L2022.1,122.4 L2023.1,122.4 L2024.1,122.4 L2025.1,122.4 L2026.1,122.4 L2027.1,122.4 L2028.1,122.4 L2029.1,122.4 L2030.1,122.4 L2031.1,122.4 L2032.1,122.4 L2033.1,122.5 L2034.1,122.5 L2035.1,122.5 L2035.3,122.5 M2058.8,123.2 L2059.1,123.2 L2060.1,123.2 L2061.1,123.3 L2062.1,123.3 L2063.1,123.4 L2064.1,123.4 L2065.1,123.5 L2066.1,123.6 L2067.1,123.6 L2068.1,123.7 L2069.1,123.8 L2070.1,123.8 L2071.1,123.9 L2072.1,124.0 L2073.1,124.1 L2073.5,124.1 M2096.9,126.7 L2096.9,126.7 L2097.9,126.8 L2098.9,127.0 L2099.9,127.1 L2100.9,127.2 L2101.8,127.4 L2102.8,127.5 L2103.8,127.7 L2104.8,127.8 L2105.8,128.0 L2106.8,128.1 L2107.8,128.3 L2108.8,128.5 L2109.7,128.6 L2110.7,128.8 L2111.7,128.9 L2112.7,129.1 L2113.7,129.3 L2114.7,129.4 L2115.7,129.6 L2116.6,129.7 L2117.6,129.9 L2118.6,130.1 L2119.6,130.3 L2120.6,130.4 L2121.6,130.6 L2122.6,130.8 L2123.5,130.9 L2124.5,131.1 L2125.5,131.3 L2126.5,131.5 L2127.5,131.7 L2128.5,131.8 L2129.4,132.0 L2130.4,132.2 L2131.4,132.4 L2132.4,132.6 L2133.4,132.8 L2134.4,133.0 L2135.3,133.1 L2136.3,133.3 L2137.3,133.5 L2138.3,133.7 L2139.3,133.9 L2140.2,134.1 L2141.2,134.3 L2142.2,134.5 L2143.2,134.7 L2144.2,134.9 L2145.1,135.1 L2146.1,135.4 L2147.1,135.6 L2148.1,135.8 L2149.0,136.0 L2150.0,136.2 L2151.0,136.4 L2152.0,136.7 L2152.9,136.9 L2153.9,137.1 L2154.9,137.3 L2155.9,137.6 L2156.8,137.8 L2157.8,138.0 L2158.8,138.3 L2159.7,138.5 L2160.7,138.8 L2161.7,139.0 L2162.6,139.3 L2163.6,139.5 L2164.6,139.8 L2165.5,140.1 L2166.5,140.3 L2167.4,140.6 L2168.4,140.9 L2169.4,141.2 L2170.3,141.4 L2171.3,141.7 L2172.2,142.0 L2173.2,142.3 L2174.1,142.6 L2175.1,143.0 L2176.0,143.3 L2177.0,143.6 L2177.9,143.9 L2178.8,144.3 L2179.8,144.6 L2180.7,144.9 L2181.6,145.3 L2182.6,145.6 L2183.5,146.0 L2184.4,146.4 L2185.3,146.8 L2186.2,147.2 L2187.2,147.5 L2188.1,147.9 L2189.0,148.4 L2189.9,148.8 L2190.0,148.8 M2210.5,161.2 L2211.0,161.6 L2211.8,162.2 L2212.6,162.8 L2213.3,163.5 L2214.1,164.1 L2214.9,164.7 L2215.6,165.4 L2216.3,166.1 L2217.1,166.7 L2217.8,167.4 L2218.5,168.1 L2219.2,168.8 L2219.9,169.5 L2220.6,170.2 L2221.3,170.9 L2221.7,171.2 M2236.4,190.1 L2236.5,190.4 L2237.1,191.3 L2237.6,192.1 L2238.1,193.0 L2238.6,193.8 L2239.1,194.7 L2239.6,195.5 L2240.1,196.4 L2240.6,197.3 L2241.1,198.1 L2241.6,199.0 L2242.0,199.9 L2242.5,200.8 L2243.0,201.7 L2243.4,202.5 L2243.9,203.4 L2244.3,204.3 L2244.8,205.2 L2245.2,206.1 L2245.7,207.0 L2246.1,207.9 L2246.5,208.8 L2247.0,209.7 L2247.4,210.6 L2247.8,211.5 L2248.2,212.4 L2248.6,213.3 L2249.1,214.2 L2249.5,215.1 L2249.9,216.1 L2250.3,217.0 L2250.7,217.9 L2251.1,218.8 L2251.5,219.7 L2251.9,220.6 L2252.3,221.5 L2252.7,222.4 L2253.1,223.4 L2253.5,224.3 L2254.0,225.2 L2254.4,226.1 L2254.8,227.0 L2255.2,227.9 L2255.6,228.8 L2256.0,229.7 L2256.4,230.7 L2256.8,231.6 L2257.2,232.5 L2257.6,233.4 L2258.1,234.3 L2258.5,235.2 L2258.9,236.1 L2259.3,237.0 L2259.7,237.9 L2260.1,238.9 L2260.5,239.8 L2261.0,240.7 L2261.4,241.6 L2261.8,242.5 L2262.2,243.4 L2262.6,244.3 L2263.0,245.2 L2263.5,246.1 L2263.9,247.0 L2264.3,247.9 L2264.7,248.9 L2265.1,249.8 L2265.5,250.7 L2266.0,251.6 L2266.4,252.5 L2266.8,253.4 L2267.2,254.3 L2267.6,255.2 L2268.0,256.1 L2268.4,257.0 L2268.9,258.0 L2269.3,258.9 L2269.7,259.8 L2270.1,260.7 L2270.5,261.6 L2270.9,262.5 L2271.3,263.4 L2271.7,264.3 L2272.1,265.3 L2272.5,266.2 L2272.9,267.1 L2273.3,268.0 L2273.7,268.9 L2274.1,269.8 L2274.6,270.7 L2275.0,271.7 L2275.4,272.6 L2275.8,273.5 L2276.2,274.4 L2276.6,275.3 L2277.0,276.2 L2277.3,276.9 M2287.1,298.8 L2287.3,299.0 L2287.7,299.9 L2288.1,300.8 L2288.5,301.7 L2288.9,302.6 L2289.4,303.6 L2289.8,304.5 L2290.2,305.4 L2290.6,306.3 L2291.0,307.2 L2291.5,308.1 L2291.9,309.0 L2292.3,309.9 L2292.7,310.8 L2293.1,311.7 L2293.5,312.4 M2303.4,334.2 L2303.5,334.5 L2303.9,335.4 L2304.4,336.3 L2304.8,337.2 L2305.2,338.1 L2305.6,339.0 L2306.0,339.9 L2306.4,340.8 L2306.8,341.8 L2307.2,342.7 L2307.6,343.6 L2308.0,344.5 L2308.4,345.4 L2308.8,346.3 L2309.2,347.2 L2309.6,348.2 L2310.0,349.1 L2310.4,350.0 L2310.8,350.9 L2311.2,351.8 L2311.6,352.7 L2312.0,353.7 L2312.4,354.6 L2312.8,355.5 L2313.2,356.4 L2313.6,357.3 L2314.0,358.2 L2314.4,359.2 L2314.8,360.1 L2315.2,361.0 L2315.6,361.9 L2316.0,362.8 L2316.4,363.7 L2316.8,364.7 L2317.2,365.6 L2317.6,366.5 L2318.0,367.4 L2318.4,368.3 L2318.8,369.2 L2319.2,370.2 L2319.6,371.1 L2320.0,372.0" fill="none" stroke="#bf00bf" stroke-width="15" stroke-linejoin="round" stroke-linecap="butt"/>
<path d="M316.0,194.0 L319.0,193.9 L322.0,193.9 L325.0,193.8 L328.0,193.7 L331.0,193.6 L334.0,193.6 L337.0,193.5 L340.0,193.4 L343.0,193.3 L346.0,193.3 L349.0,193.2 L352.0,193.1 L355.0,193.0 L358.0,193.0 L361.0,192.9 L364.0,192.8 L367.0,192.8 L370.0,192.7 L373.0,192.6 L376.0,192.5 L379.0,192.5 L382.0,192.4 L385.0,192.3 L388.0,192.3 L391.0,192.2 L394.0,192.1 L397.0,192.1 L400.0,192.0 L403.0,191.9 L406.0,191.8 L409.0,191.8 L412.0,191.7 L415.0,191.6 L418.0,191.5 L421.0,191.4 L424.0,191.4 L427.0,191.3 L430.0,191.2 L433.0,191.1 L436.0,191.0 L439.0,191.0 L442.0,190.9 L445.0,190.8 L448.0,190.7 L451.0,190.7 L454.0,190.6 L457.0,190.6 L460.0,190.5 L463.0,190.4 L466.0,190.4 L469.0,190.3 L472.0,190.3 L475.0,190.3 L478.0,190.2 L481.0,190.2 L484.0,190.1 L487.0,190.1 L490.0,190.1 L493.0,190.1 L496.0,190.0 L499.0,190.0 L502.0,190.0 L505.0,190.0 L508.0,190.0 L511.0,190.0 L514.0,190.0 L517.0,189.9 L520.0,189.9 L523.0,189.9 L526.0,189.9 L529.0,189.9 L532.0,189.9 L535.0,189.9 L538.0,189.9 L541.0,189.9 L544.0,189.9 L547.0,189.9 L550.0,189.9 L553.0,189.9 L556.0,189.9 L559.0,189.9 L562.0,189.9 L565.0,189.9 L568.0,189.9 L571.0,189.9 L574.0,189.9 L577.0,189.9 L580.0,189.9 L583.0,189.9 L586.0,189.9 L589.0,189.9 L592.0,189.9 L595.0,189.9 L598.0,189.9 L601.0,189.9 L604.0,189.9 L607.0,189.9 L610.0,189.9 L613.0,189.9 L616.0,190.0 L619.0,190.0 L622.0,190.0 L625.0,190.0 L628.0,190.0 L631.0,190.0 L634.0,190.0 L637.0,190.0 L640.0,190.1 L643.0,190.1 L646.0,190.1 L649.0,190.1 L652.0,190.1 L655.0,190.1 L658.0,190.1 L661.0,190.2 L664.0,190.2 L667.0,190.2 L670.0,190.2 L673.0,190.3 L676.0,190.3 L679.0,190.3 L682.0,190.3 L685.0,190.4 L688.0,190.4 L691.0,190.4 L694.0,190.4 L697.0,190.5 L700.0,190.5 L703.0,190.5 L706.0,190.6 L709.0,190.6 L712.0,190.7 L715.0,190.7 L718.0,190.7 L721.0,190.8 L724.0,190.8 L727.0,190.9 L730.0,190.9 L733.0,191.0 L736.0,191.0 L739.0,191.1 L742.0,191.1 L745.0,191.2 L748.0,191.2 L751.0,191.3 L754.0,191.3 L757.0,191.4 L760.0,191.5 L763.0,191.5 L766.0,191.6 L769.0,191.7 L772.0,191.7 L775.0,191.8 L778.0,191.9 L781.0,192.0 L784.0,192.0 L787.0,192.1 L789.9,192.2 L792.9,192.3 L795.9,192.4 L798.9,192.5 L801.9,192.6 L804.9,192.7 L807.9,192.8 L810.9,192.9 L813.9,193.0 L816.9,193.1 L819.9,193.3 L822.9,193.4 L825.9,193.6 L828.9,193.7 L831.9,193.9 L834.9,194.1 L837.9,194.4 L840.9,194.6 L843.9,194.9 L846.8,195.2 L849.8,195.5 L852.8,195.9 L855.7,196.3 L858.7,196.8 L861.7,197.3 L864.6,197.8 L867.6,198.4 L870.5,198.9 L873.4,199.5 L876.4,200.1 L879.3,200.7 L882.3,201.3 L885.2,201.8 L888.1,202.4 L891.1,203.0 L894.0,203.6 L897.0,204.2 L899.9,204.7 L902.9,205.3 L905.8,205.9 L908.7,206.5 L911.7,207.1 L914.6,207.7 L917.5,208.3 L920.5,209.0 L923.4,209.6 L926.3,210.3 L929.3,210.9 L932.2,211.6 L935.1,212.3 L938.0,212.9 L940.9,213.6 L943.9,214.4 L946.8,215.1 L949.7,215.9 L952.5,216.7 L955.4,217.5 L958.3,218.3 L961.2,219.2 L964.0,220.2 L966.8,221.1 L969.7,222.1 L972.5,223.2 L975.2,224.3 L978.0,225.4 L980.8,226.6 L983.5,227.8 L986.2,229.1 L988.9,230.4 L991.6,231.8 L994.2,233.1 L996.8,234.6 L999.4,236.0 L1002.0,237.5 L1004.6,239.1 L1007.1,240.7 L1009.7,242.3 L1012.1,244.0 L1014.6,245.6 L1017.0,247.4 L1019.5,249.2 L1021.8,251.0 L1024.2,252.8 L1026.5,254.7 L1028.8,256.6 L1031.1,258.5 L1033.4,260.5 L1035.6,262.5 L1037.8,264.5 L1040.0,266.6 L1042.1,268.7 L1044.3,270.8 L1046.4,272.9 L1048.5,275.0 L1050.6,277.2 L1052.6,279.4 L1054.7,281.6 L1056.7,283.8 L1058.7,286.0 L1060.7,288.3 L1062.7,290.5 L1064.6,292.8 L1066.6,295.1 L1068.5,297.4 L1070.4,299.7 L1072.3,302.0 L1074.2,304.3 L1076.1,306.7 L1077.9,309.0 L1079.8,311.4 L1081.6,313.8 L1083.4,316.2 L1085.1,318.6 L1086.9,321.0 L1088.6,323.5 L1090.3,326.0 L1091.9,328.5 L1093.4,331.0 L1095.0,333.6 L1096.4,336.1 L1097.8,338.8 L1099.1,341.4 L1100.4,344.1 L1101.6,346.9 L1102.7,349.6 L1103.8,352.4 L1104.8,355.2 L1105.8,358.0 L1106.8,360.9 L1107.8,363.7 L1108.7,366.6 L1109.6,369.4 L1110.6,372.3 L1111.5,375.1 L1112.4,378.0 L1113.3,380.8 L1114.2,383.7 L1115.1,386.6 L1116.0,389.4 L1116.8,392.3 L1117.7,395.2 L1118.6,398.0 L1119.4,400.9 L1120.3,403.8 L1121.1,406.7 L1122.0,409.6 L1122.8,412.4 L1123.6,415.3 L1124.4,418.2 L1125.1,421.1 L1125.9,424.0 L1126.6,426.9 L1127.4,429.8 L1128.1,432.7 L1128.9,435.7 L1129.6,438.6 L1130.3,441.5 L1131.0,444.4 L1131.7,447.3 L1132.4,450.2 L1133.1,453.1 L1133.8,456.1 L1134.5,459.0 L1135.2,461.9 L1135.8,464.8 L1136.5,467.8 L1137.2,470.7 L1137.8,473.6 L1138.5,476.5 L1139.2,479.5 L1139.8,482.4 L1140.4,485.3 L1141.1,488.3 L1141.7,491.2 L1142.3,494.1 L1142.9,497.1 L1143.5,500.0 L1144.1,502.9 L1144.7,505.9 L1145.2,508.8 L1145.8,511.8 L1146.4,514.7 L1146.9,517.7 L1147.5,520.6 L1148.0,523.6 L1148.5,526.5 L1149.1,529.5 L1149.6,532.4 L1150.1,535.4 L1150.6,538.4 L1151.1,541.3 L1151.6,544.3 L1152.0,547.2 L1152.5,550.2 L1153.0,553.2 L1153.5,556.1 L1153.9,559.1 L1154.4,562.0 L1154.9,565.0 L1155.3,568.0 L1155.8,570.9 L1156.2,573.9 L1156.6,576.9 L1157.1,579.8 L1157.5,582.8 L1157.9,585.8 L1158.3,588.8 L1158.8,591.7 L1159.2,594.7 L1159.6,597.7 L1160.0,600.6 L1160.4,603.6 L1160.8,606.6 L1161.2,609.6 L1161.5,612.5 L1161.9,615.5 L1162.3,618.5 L1162.7,621.5 L1163.0,624.4 L1163.4,627.4 L1163.8,630.4 L1164.1,633.4 L1164.5,636.4 L1164.9,639.3 L1165.2,642.3 L1165.6,645.3 L1165.9,648.3 L1166.3,651.3 L1166.7,654.2 L1167.0,657.2 L1167.4,660.2 L1167.7,663.2 L1168.1,666.1 L1168.4,669.1 L1168.7,672.1 L1169.1,675.1 L1169.4,678.1 L1169.7,681.1 L1170.1,684.0 L1170.4,687.0 L1170.7,690.0 L1171.1,693.0 L1171.4,696.0 L1171.7,698.9 L1172.0,701.9 L1172.4,704.9 L1172.7,707.9 L1173.0,710.9 L1173.3,713.9 L1173.7,716.8 L1174.0,719.8 L1174.3,722.8 L1174.7,725.8 L1175.0,728.8 L1175.3,731.7 L1175.7,734.7 L1176.0,737.7 L1176.4,740.7 L1176.7,743.7 L1177.0,746.7 L1177.4,749.6 L1177.7,752.6 L1178.1,755.6 L1178.4,758.6 L1178.7,761.6 L1179.1,764.5 L1179.4,767.5 L1179.8,770.5 L1180.1,773.5 L1180.4,776.5 L1180.8,779.4 L1181.1,782.4 L1181.4,785.4 L1181.7,788.4 L1182.1,791.4 L1182.4,794.4 L1182.7,797.3 L1183.0,800.3 L1183.3,803.3 L1183.6,806.3 L1183.9,809.3 L1184.2,812.3 L1184.5,815.2 L1184.8,818.2 L1185.1,821.2 L1185.4,824.2 L1185.7,827.2 L1186.0,830.2 L1186.3,833.2 L1186.5,836.2 L1186.8,839.1 L1187.1,842.1 L1187.3,845.1 L1187.6,848.1 L1187.8,851.1 L1188.1,854.1 L1188.3,857.1 L1188.6,860.1 L1188.8,863.1 L1189.1,866.0 L1189.3,869.0 L1189.6,872.0 L1189.8,875.0 L1190.0,878.0 L1190.3,881.0 L1190.5,884.0 L1190.7,887.0 L1191.0,890.0 L1191.2,893.0 L1191.4,896.0 L1191.7,898.9 L1191.9,901.9 L1192.1,904.9 L1192.3,907.9 L1192.5,910.9 L1192.8,913.9 L1193.0,916.9 L1193.2,919.9 L1193.4,922.9 L1193.6,925.9 L1193.9,928.9 L1194.1,931.9 L1194.3,934.8 L1194.5,937.8 L1194.7,940.8 L1194.9,943.8 L1195.1,946.8 L1195.3,949.8 L1195.6,952.8 L1195.8,955.8 L1196.0,958.8 L1196.2,961.8 L1196.4,964.8 L1196.6,967.8 L1196.8,970.8 L1197.0,973.8 L1197.2,976.7 L1197.4,979.7 L1197.6,982.7 L1197.8,985.7 L1198.0,988.7 L1198.2,991.7 L1198.4,994.7 L1198.5,997.7 L1198.7,1000.7 L1198.9,1003.7 L1199.1,1006.7 L1199.3,1009.7 L1199.5,1012.7 L1199.7,1015.7 L1199.9,1018.7 L1200.0,1021.7 L1200.2,1024.7 L1200.4,1027.6 L1200.6,1030.6 L1200.8,1033.6 L1201.0,1036.6 L1201.1,1039.6 L1201.3,1042.6 L1201.5,1045.6 L1201.7,1048.6 L1201.9,1051.6 L1202.1,1054.6 L1202.2,1057.6 L1202.4,1060.6 L1202.6,1063.6 L1202.8,1066.6 L1203.0,1069.6 L1203.2,1072.6 L1203.4,1075.6 L1203.6,1078.6 L1203.8,1081.5 L1204.0,1084.5 L1204.2,1087.5 L1204.4,1090.5 L1204.6,1093.5 L1204.8,1096.5 L1205.1,1099.5 L1205.3,1102.5 L1205.6,1105.5 L1205.8,1108.5 L1206.1,1111.4 L1206.4,1114.4 L1206.7,1117.4 L1207.0,1120.4 L1207.3,1123.4 L1207.7,1126.4 L1208.0,1129.3 L1208.3,1132.3 L1208.7,1135.3 L1209.0,1138.3 L1209.3,1141.3 L1209.7,1144.2 L1210.0,1147.2 L1210.3,1150.2 L1210.6,1153.2 L1210.9,1156.2 L1211.2,1159.2 L1211.5,1162.2 L1211.8,1165.1 L1212.1,1168.1 L1212.4,1171.1 L1212.7,1174.1 L1213.0,1177.1 L1213.3,1180.1 L1213.6,1183.1 L1213.9,1186.0 L1214.2,1189.0 L1214.5,1192.0 L1214.8,1195.0 L1215.1,1198.0 L1215.5,1201.0 L1215.8,1203.9 L1216.1,1206.9 L1216.5,1209.9 L1216.8,1212.9 L1217.2,1215.9 L1217.5,1218.8 L1217.9,1221.8 L1218.3,1224.8 L1218.6,1227.8 L1219.0,1230.7 L1219.4,1233.7 L1219.8,1236.7 L1220.2,1239.7 L1220.6,1242.6 L1221.0,1245.6 L1221.4,1248.6 L1221.8,1251.6 L1222.2,1254.5 L1222.7,1257.5 L1223.1,1260.5 L1223.5,1263.4 L1224.0,1266.4 L1224.5,1269.4 L1225.0,1272.3 L1225.5,1275.3 L1226.0,1278.2 L1226.5,1281.1 L1227.1,1284.1 L1227.6,1287.0 L1228.2,1290.0 L1228.7,1292.9 L1229.3,1295.9 L1230.0,1298.8 L1230.7,1301.7 L1231.4,1304.6 L1232.2,1307.5 L1233.2,1310.3 L1234.6,1313.0 L1237.1,1313.5 L1238.6,1311.0 L1239.7,1308.2 L1240.6,1305.3 L1241.4,1302.4 L1242.0,1299.5 L1242.7,1296.6 L1243.2,1293.6 L1243.8,1290.7 L1244.3,1287.7 L1244.7,1284.7 L1245.1,1281.8 L1245.5,1278.8 L1246.0,1275.9 L1246.4,1272.9 L1246.7,1269.9 L1247.1,1266.9 L1247.4,1264.0 L1247.7,1261.0 L1248.0,1258.0 L1248.3,1255.0 L1248.6,1252.0 L1248.9,1249.0 L1249.2,1246.1 L1249.4,1243.1 L1249.7,1240.1 L1250.0,1237.1 L1250.2,1234.1 L1250.5,1231.1 L1250.8,1228.1 L1251.1,1225.1 L1251.4,1222.2 L1251.7,1219.2 L1252.0,1216.2 L1252.3,1213.2 L1252.6,1210.2 L1252.9,1207.2 L1253.2,1204.2 L1253.5,1201.3 L1253.8,1198.3 L1254.2,1195.3 L1254.5,1192.3 L1254.8,1189.3 L1255.1,1186.4 L1255.5,1183.4 L1255.8,1180.4 L1256.1,1177.4 L1256.4,1174.4 L1256.8,1171.4 L1257.1,1168.5 L1257.4,1165.5 L1257.7,1162.5 L1258.0,1159.5 L1258.2,1156.5 L1258.5,1153.5 L1258.8,1150.5 L1259.1,1147.6 L1259.3,1144.6 L1259.5,1141.6 L1259.8,1138.6 L1260.0,1135.6 L1260.2,1132.6 L1260.4,1129.6 L1260.6,1126.6 L1260.8,1123.6 L1261.0,1120.6 L1261.2,1117.6 L1261.4,1114.6 L1261.5,1111.6 L1261.7,1108.6 L1261.9,1105.7 L1262.0,1102.7 L1262.2,1099.7 L1262.3,1096.7 L1262.5,1093.7 L1262.6,1090.7 L1262.8,1087.7 L1262.9,1084.7 L1263.1,1081.7 L1263.2,1078.7 L1263.3,1075.7 L1263.5,1072.7 L1263.6,1069.7 L1263.8,1066.7 L1263.9,1063.7 L1264.0,1060.7 L1264.2,1057.7 L1264.3,1054.7 L1264.4,1051.7 L1264.6,1048.7 L1264.7,1045.7 L1264.9,1042.7 L1265.0,1039.7 L1265.1,1036.7 L1265.3,1033.7 L1265.4,1030.7 L1265.6,1027.7 L1265.7,1024.7 L1265.8,1021.7 L1266.0,1018.7 L1266.1,1015.7 L1266.2,1012.7 L1266.3,1009.8 L1266.5,1006.8 L1266.6,1003.8 L1266.7,1000.8 L1266.9,997.8 L1267.0,994.8 L1267.2,991.8 L1267.3,988.8 L1267.5,985.8 L1267.6,982.8 L1267.8,979.8 L1268.0,976.8 L1268.1,973.8 L1268.3,970.8 L1268.5,967.8 L1268.7,964.8 L1268.9,961.8 L1269.1,958.8 L1269.3,955.8 L1269.5,952.8 L1269.7,949.8 L1269.9,946.9 L1270.1,943.9 L1270.3,940.9 L1270.5,937.9 L1270.7,934.9 L1270.9,931.9 L1271.2,928.9 L1271.4,925.9 L1271.6,922.9 L1271.8,919.9 L1272.1,916.9 L1272.3,913.9 L1272.5,910.9 L1272.8,908.0 L1273.0,905.0 L1273.2,902.0 L1273.5,899.0 L1273.7,896.0 L1273.9,893.0 L1274.2,890.0 L1274.4,887.0 L1274.6,884.0 L1274.9,881.0 L1275.1,878.1 L1275.4,875.1 L1275.6,872.1 L1275.8,869.1 L1276.1,866.1 L1276.3,863.1 L1276.6,860.1 L1276.8,857.1 L1277.0,854.1 L1277.3,851.1 L1277.5,848.1 L1277.8,845.2 L1278.0,842.2 L1278.3,839.2 L1278.5,836.2 L1278.7,833.2 L1279.0,830.2 L1279.2,827.2 L1279.5,824.2 L1279.7,821.2 L1280.0,818.2 L1280.2,815.3 L1280.5,812.3 L1280.7,809.3 L1281.0,806.3 L1281.2,803.3 L1281.5,800.3 L1281.7,797.3 L1282.0,794.3 L1282.2,791.3 L1282.5,788.4 L1282.8,785.4 L1283.0,782.4 L1283.3,779.4 L1283.5,776.4 L1283.8,773.4 L1284.0,770.4 L1284.3,767.4 L1284.6,764.4 L1284.8,761.4 L1285.1,758.5 L1285.3,755.5 L1285.6,752.5 L1285.8,749.5 L1286.1,746.5 L1286.4,743.5 L1286.6,740.5 L1286.9,737.5 L1287.1,734.5 L1287.4,731.6 L1287.6,728.6 L1287.9,725.6 L1288.1,722.6 L1288.4,719.6 L1288.6,716.6 L1288.9,713.6 L1289.1,710.6 L1289.4,707.6 L1289.6,704.6 L1289.8,701.7 L1290.1,698.7 L1290.3,695.7 L1290.5,692.7 L1290.8,689.7 L1291.0,686.7 L1291.2,683.7 L1291.4,680.7 L1291.7,677.7 L1291.9,674.7 L1292.1,671.7 L1292.3,668.8 L1292.5,665.8 L1292.7,662.8 L1293.0,659.8 L1293.2,656.8 L1293.4,653.8 L1293.6,650.8 L1293.8,647.8 L1294.0,644.8 L1294.2,641.8 L1294.4,638.8 L1294.6,635.8 L1294.9,632.8 L1295.1,629.8 L1295.3,626.9 L1295.5,623.9 L1295.8,620.9 L1296.0,617.9 L1296.2,614.9 L1296.5,611.9 L1296.7,608.9 L1297.0,605.9 L1297.2,602.9 L1297.5,599.9 L1297.7,597.0 L1298.0,594.0 L1298.2,591.0 L1298.5,588.0 L1298.8,585.0 L1299.1,582.0 L1299.3,579.0 L1299.6,576.0 L1299.9,573.1 L1300.2,570.1 L1300.5,567.1 L1300.8,564.1 L1301.1,561.1 L1301.4,558.1 L1301.7,555.1 L1302.0,552.2 L1302.4,549.2 L1302.7,546.2 L1303.0,543.2 L1303.4,540.2 L1303.8,537.3 L1304.2,534.3 L1304.5,531.3 L1304.9,528.3 L1305.3,525.4 L1305.8,522.4 L1306.2,519.4 L1306.6,516.5 L1307.1,513.5 L1307.5,510.5 L1308.0,507.6 L1308.4,504.6 L1308.9,501.6 L1309.4,498.7 L1309.9,495.7 L1310.4,492.8 L1310.9,489.8 L1311.4,486.8 L1311.9,483.9 L1312.4,480.9 L1313.0,478.0 L1313.5,475.0 L1314.0,472.1 L1314.5,469.1 L1315.1,466.2 L1315.6,463.2 L1316.1,460.3 L1316.7,457.3 L1317.2,454.4 L1317.8,451.4 L1318.3,448.5 L1318.8,445.5 L1319.4,442.6 L1319.9,439.6 L1320.5,436.7 L1321.0,433.7 L1321.6,430.8 L1322.1,427.8 L1322.7,424.9 L1323.2,421.9 L1323.8,419.0 L1324.3,416.0 L1324.9,413.1 L1325.5,410.1 L1326.0,407.2 L1326.6,404.2 L1327.2,401.3 L1327.8,398.3 L1328.3,395.4 L1328.9,392.5 L1329.5,389.5 L1330.1,386.6 L1330.7,383.6 L1331.3,380.7 L1331.9,377.8 L1332.6,374.8 L1333.2,371.9 L1333.9,369.0 L1334.5,366.1 L1335.2,363.1 L1335.9,360.2 L1336.6,357.3 L1337.3,354.4 L1338.0,351.5 L1338.7,348.6 L1339.4,345.6 L1340.0,342.7 L1340.7,339.8 L1341.3,336.8 L1341.9,333.9 L1342.5,331.0 L1343.0,328.0 L1343.6,325.1 L1344.1,322.1 L1344.7,319.2 L1345.2,316.2 L1345.7,313.3 L1346.3,310.3 L1346.8,307.4 L1347.4,304.4 L1348.0,301.5 L1348.6,298.6 L1349.3,295.6 L1350.0,292.7 L1350.7,289.8 L1351.4,286.9 L1352.2,284.0 L1353.1,281.2 L1353.9,278.3 L1354.8,275.4 L1355.8,272.6 L1356.8,269.8 L1357.8,267.0 L1358.9,264.2 L1360.0,261.4 L1361.2,258.7 L1362.4,255.9 L1363.7,253.2 L1365.0,250.6 L1366.4,247.9 L1367.9,245.3 L1369.4,242.8 L1371.0,240.3 L1372.6,237.8 L1374.3,235.3 L1376.1,232.9 L1377.8,230.5 L1379.7,228.1 L1381.5,225.7 L1383.4,223.4 L1385.3,221.1 L1387.2,218.8 L1389.1,216.5 L1391.0,214.2 L1392.9,211.8 L1394.8,209.5 L1396.7,207.2 L1398.6,204.9 L1400.5,202.6 L1402.4,200.2 L1404.3,197.9 L1406.2,195.5 L1408.0,193.2 L1409.9,190.9 L1411.8,188.5 L1413.7,186.2 L1415.6,183.9 L1417.5,181.7 L1419.5,179.5 L1421.6,177.3 L1423.7,175.2 L1425.8,173.2 L1428.1,171.2 L1430.3,169.4 L1432.7,167.6 L1435.1,165.8 L1437.6,164.1 L1440.1,162.5 L1442.6,161.0 L1445.2,159.5 L1447.8,158.0 L1450.4,156.5 L1453.0,155.1 L1455.7,153.7 L1458.3,152.3 L1461.0,150.9 L1463.6,149.5 L1466.3,148.2 L1469.0,146.8 L1471.6,145.4 L1474.3,144.0 L1476.9,142.6 L1479.6,141.3 L1482.3,140.0 L1485.0,138.7 L1487.7,137.4 L1490.5,136.2 L1493.2,135.1 L1496.0,134.0 L1498.8,133.0 L1501.6,132.1 L1504.5,131.2 L1507.3,130.4 L1510.2,129.6 L1513.1,128.9 L1516.0,128.3 L1519.0,127.6 L1521.9,127.1 L1524.8,126.5 L1527.8,126.0 L1530.7,125.4 L1533.7,124.9 L1536.7,124.4 L1539.6,123.8 L1542.5,123.3 L1545.5,122.7 L1548.4,122.1 L1551.4,121.5 L1554.3,120.9 L1557.2,120.3 L1560.2,119.6 L1563.1,119.0 L1566.0,118.3 L1568.9,117.7 L1571.9,117.1 L1574.8,116.4 L1577.8,115.9 L1580.7,115.3 L1583.6,114.7 L1586.6,114.2 L1589.6,113.8 L1592.5,113.3 L1595.5,112.8 L1598.4,112.4 L1601.4,112.0 L1604.4,111.6 L1607.4,111.2 L1610.3,110.8 L1613.3,110.4 L1616.3,110.0 L1619.2,109.5 L1622.2,109.1 L1625.2,108.7 L1628.1,108.2 L1631.1,107.8 L1634.1,107.3 L1637.0,106.9 L1640.0,106.4 L1643.0,106.0 L1645.9,105.6 L1648.9,105.2 L1651.9,104.8 L1654.9,104.4 L1657.8,104.0 L1660.8,103.6 L1663.8,103.3 L1666.8,103.0 L1669.8,102.7 L1672.7,102.4 L1675.7,102.1 L1678.7,101.8 L1681.7,101.5 L1684.7,101.3 L1687.7,101.0 L1690.7,100.8 L1693.7,100.5 L1696.7,100.2 L1699.6,100.0 L1702.6,99.7 L1705.6,99.5 L1708.6,99.2 L1711.6,98.9 L1714.6,98.7 L1717.6,98.4 L1720.6,98.1 L1723.5,97.8 L1726.5,97.6 L1729.5,97.3 L1732.5,97.0 L1735.5,96.8 L1738.5,96.5 L1741.5,96.3 L1744.5,96.0 L1747.5,95.8 L1750.4,95.5 L1753.4,95.3 L1756.4,95.1 L1759.4,94.8 L1762.4,94.6 L1765.4,94.4 L1768.4,94.2 L1771.4,93.9 L1774.4,93.7 L1777.4,93.5 L1780.4,93.3 L1783.4,93.1 L1786.3,92.9 L1789.3,92.7 L1792.3,92.5 L1795.3,92.3 L1798.3,92.1 L1801.3,91.8 L1804.3,91.6 L1807.3,91.4 L1810.3,91.2 L1813.3,91.0 L1816.3,90.8 L1819.3,90.6 L1822.3,90.3 L1825.3,90.1 L1828.2,89.9 L1831.2,89.6 L1834.2,89.4 L1837.2,89.1 L1840.2,88.9 L1843.2,88.6 L1846.2,88.4 L1849.2,88.1 L1852.2,87.8 L1855.1,87.5 L1858.1,87.3 L1861.1,87.0 L1864.1,86.7 L1867.1,86.4 L1870.1,86.1 L1873.1,85.8 L1876.0,85.6 L1879.0,85.3 L1882.0,85.1 L1885.0,84.8 L1888.0,84.6 L1891.0,84.4 L1894.0,84.1 L1897.0,83.9 L1900.0,83.8 L1903.0,83.6 L1906.0,83.4 L1909.0,83.3 L1912.0,83.1 L1915.0,83.0 L1918.0,82.9 L1920.9,82.8 L1923.9,82.7 L1926.9,82.6 L1929.9,82.5 L1932.9,82.4 L1935.9,82.3 L1938.9,82.3 L1941.9,82.2 L1944.9,82.1 L1947.9,82.1 L1950.9,82.0 L1953.9,81.9 L1956.9,81.8 L1959.9,81.8 L1962.9,81.7 L1965.9,81.6 L1968.9,81.6 L1971.9,81.5 L1974.9,81.4 L1977.9,81.3 L1980.9,81.2 L1983.9,81.1 L1986.9,81.0 L1989.9,80.9 L1992.9,80.8 L1995.9,80.7 L1998.9,80.6 L2001.9,80.5 L2004.9,80.3 L2007.9,80.2 L2010.9,80.1 L2013.9,80.0 L2016.9,79.8 L2019.9,79.7 L2022.9,79.6 L2025.9,79.5 L2028.9,79.4 L2031.9,79.4 L2034.9,79.3 L2037.9,79.2 L2040.9,79.2 L2043.9,79.2 L2046.9,79.1 L2049.9,79.1 L2052.9,79.1 L2055.9,79.1 L2058.9,79.2 L2061.9,79.2 L2064.9,79.2 L2067.9,79.3 L2070.9,79.4 L2073.9,79.4 L2076.9,79.5 L2079.9,79.6 L2082.9,79.8 L2085.9,79.9 L2088.9,80.1 L2091.9,80.2 L2094.9,80.4 L2097.8,80.6 L2100.8,80.9 L2103.8,81.2 L2106.8,81.5 L2109.8,81.8 L2112.7,82.2 L2115.7,82.6 L2118.7,83.0 L2121.6,83.5 L2124.6,84.0 L2127.5,84.6 L2130.5,85.2 L2133.4,85.8 L2136.3,86.5 L2139.2,87.2 L2142.1,88.0 L2145.0,88.8 L2147.9,89.6 L2150.7,90.5 L2153.6,91.4 L2156.4,92.4 L2159.2,93.4 L2162.0,94.5 L2164.7,95.6 L2167.5,96.8 L2170.2,98.0 L2172.9,99.3 L2175.6,100.6 L2178.3,102.0 L2180.9,103.3 L2183.6,104.8 L2186.2,106.2 L2188.8,107.7 L2191.3,109.3 L2193.9,110.8 L2196.4,112.5 L2198.9,114.1 L2201.3,115.8 L2203.7,117.6 L2206.1,119.4 L2208.4,121.3 L2210.6,123.2 L2212.8,125.2 L2214.9,127.3 L2217.0,129.4 L2218.9,131.7 L2220.8,133.9 L2222.7,136.3 L2224.4,138.7 L2226.1,141.1 L2227.8,143.6 L2229.5,146.1 L2231.1,148.6 L2232.7,151.1 L2234.3,153.6 L2236.0,156.1 L2237.6,158.6 L2239.2,161.2 L2240.8,163.7 L2242.4,166.2 L2244.0,168.8 L2245.5,171.3 L2247.0,173.9 L2248.5,176.5 L2249.9,179.1 L2251.2,181.8 L2252.5,184.5 L2253.7,187.2 L2254.9,189.9 L2256.1,192.7 L2257.2,195.5 L2258.2,198.3 L2259.2,201.1 L2260.3,203.9 L2261.2,206.8 L2262.2,209.6 L2263.2,212.4 L2264.2,215.3 L2265.2,218.1 L2266.1,220.9 L2267.1,223.8 L2268.0,226.6 L2269.0,229.5 L2269.9,232.3 L2270.8,235.2 L2271.7,238.0 L2272.6,240.9 L2273.5,243.8 L2274.4,246.6 L2275.3,249.5 L2276.1,252.4 L2277.0,255.3 L2277.8,258.1 L2278.7,261.0 L2279.5,263.9 L2280.3,266.8 L2281.1,269.7 L2281.9,272.6 L2282.7,275.5 L2283.5,278.4 L2284.3,281.2 L2285.1,284.1 L2285.9,287.0 L2286.6,289.9 L2287.4,292.8 L2288.2,295.7 L2289.0,298.6 L2289.8,301.5 L2290.5,304.4 L2291.3,307.3 L2292.1,310.2 L2292.8,313.1 L2293.6,316.0 L2294.3,318.9 L2295.0,321.9 L2295.7,324.8 L2296.4,327.7 L2297.0,330.6 L2297.6,333.5 L2298.3,336.5 L2298.9,339.4 L2299.4,342.4 L2300.0,345.3 L2300.6,348.3 L2301.1,351.2 L2301.6,354.2 L2302.1,357.1 L2302.6,360.1 L2303.1,363.0 L2303.6,366.0 L2304.1,369.0 L2304.5,371.9 L2305.0,374.9 L2305.4,377.9 L2305.9,380.8 L2306.3,383.8 L2306.7,386.8 L2307.1,389.7 L2307.6,392.7 L2308.0,395.7 L2308.4,398.6 L2308.8,401.6 L2309.2,404.6 L2309.5,407.6 L2309.9,410.5 L2310.3,413.5 L2310.7,416.5 L2311.1,419.5 L2311.4,422.4 L2311.8,425.4 L2312.2,428.4 L2312.6,431.4 L2313.0,434.3 L2313.4,437.3 L2313.8,440.3 L2314.2,443.3 L2314.6,446.2 L2315.0,449.2 L2315.4,452.2 L2315.9,455.2 L2316.3,458.1 L2316.7,461.1 L2317.1,464.1 L2317.6,467.0 L2318.0,470.0" fill="none" stroke="#ff0000" stroke-width="15" stroke-linejoin="round" stroke-linecap="square"/>
<path d="M316.0,178.5 L316.0,178.5 L317.0,178.5 L318.0,178.4 L319.0,178.4 L319.0,178.4 M343.0,177.5 L343.0,177.5 L344.0,177.4 L345.0,177.4 L346.0,177.3 L347.0,177.3 L348.0,177.2 L349.0,177.2 L350.0,177.1 L351.0,177.1 L352.0,177.0 L353.0,177.0 L354.0,176.9 L355.0,176.9 L356.0,176.8 L357.0,176.8 L358.0,176.7 L359.0,176.7 L360.0,176.6 L361.0,176.5 L362.0,176.5 L363.0,176.4 L364.0,176.4 L365.0,176.3 L366.0,176.3 L367.0,176.2 L368.0,176.2 L369.0,176.1 L370.0,176.1 L371.0,176.0 L371.9,176.0 L372.9,175.9 L373.9,175.9 L374.9,175.8 L375.9,175.7 L376.9,175.7 L377.9,175.6 L378.9,175.6 L379.9,175.5 L380.9,175.5 L381.9,175.4 L382.9,175.4 L383.9,175.3 L384.9,175.3 L385.9,175.2 L386.9,175.2 L387.9,175.1 L388.9,175.1 L389.9,175.0 L390.9,174.9 L391.9,174.9 L392.9,174.8 L393.9,174.8 L394.9,174.7 L395.9,174.7 L396.9,174.6 L397.9,174.6 L398.9,174.5 L399.9,174.5 L400.9,174.4 L401.9,174.4 L402.9,174.3 L403.9,174.3 L404.9,174.2 L405.9,174.2 L406.9,174.1 L407.9,174.1 L408.9,174.0 L409.9,174.0 L410.9,173.9 L411.9,173.9 L412.9,173.9 L413.9,173.8 L414.9,173.8 L415.9,173.7 L416.9,173.7 L417.9,173.6 L418.9,173.6 L419.9,173.5 L420.9,173.5 L421.9,173.4 L422.9,173.4 L423.9,173.3 L424.9,173.3 L425.9,173.3 L426.9,173.2 L427.9,173.2 L428.9,173.1 L429.9,173.1 L430.9,173.0 L431.9,173.0 L432.9,172.9 L433.9,172.9 L434.9,172.9 L435.9,172.8 L436.9,172.8 L437.9,172.7 L438.3,172.7 M462.1,171.8 L462.9,171.8 L463.9,171.7 L464.9,171.7 L465.9,171.7 L466.9,171.6 L467.9,171.6 L468.9,171.6 L469.9,171.5 L470.9,171.5 L471.9,171.5 L472.9,171.4 L473.9,171.4 L474.9,171.4 L475.9,171.3 L476.9,171.3 L477.0,171.3 M500.9,170.6 L500.9,170.6 L501.9,170.6 L502.9,170.5 L503.9,170.5 L504.9,170.5 L505.9,170.5 L506.9,170.4 L507.9,170.4 L508.9,170.4 L509.9,170.4 L510.9,170.3 L511.9,170.3 L512.9,170.3 L513.9,170.3 L514.9,170.2 L515.9,170.2 L516.9,170.2 L517.9,170.2 L518.9,170.1 L519.9,170.1 L520.9,170.1 L521.9,170.1 L522.9,170.0 L523.9,170.0 L524.9,170.0 L525.9,170.0 L526.9,169.9 L527.9,169.9 L528.9,169.9 L529.9,169.9 L530.9,169.8 L531.9,169.8 L532.9,169.8 L533.9,169.8 L534.9,169.8 L535.9,169.7 L536.9,169.7 L537.9,169.7 L538.9,169.7 L539.9,169.6 L540.9,169.6 L541.9,169.6 L542.9,169.6 L543.9,169.6 L544.9,169.5 L545.9,169.5 L546.8,169.5 L547.8,169.5 L548.8,169.4 L549.8,169.4 L550.8,169.4 L551.8,169.4 L552.8,169.4 L553.8,169.3 L554.8,169.3 L555.8,169.3 L556.8,169.3 L557.8,169.2 L558.8,169.2 L559.8,169.2 L560.8,169.2 L561.8,169.2 L562.8,169.1 L563.8,169.1 L564.8,169.1 L565.8,169.1 L566.8,169.0 L567.8,169.0 L568.8,169.0 L569.8,169.0 L570.8,169.0 L571.8,168.9 L572.8,168.9 L573.8,168.9 L574.8,168.9 L575.8,168.8 L576.8,168.8 L577.8,168.8 L578.8,168.8 L579.8,168.8 L580.8,168.7 L581.8,168.7 L582.8,168.7 L583.8,168.7 L584.8,168.7 L585.8,168.6 L586.8,168.6 L587.8,168.6 L588.8,168.6 L589.8,168.5 L590.8,168.5 L591.8,168.5 L592.8,168.5 L593.8,168.5 L594.8,168.4 L595.8,168.4 L596.8,168.4 M620.8,167.9 L620.8,167.9 L621.8,167.9 L622.8,167.8 L623.8,167.8 L624.8,167.8 L625.8,167.8 L626.8,167.7 L627.8,167.7 L628.8,167.7 L629.8,167.7 L630.8,167.7 L631.8,167.6 L632.8,167.6 L633.8,167.6 L634.8,167.6 L635.8,167.5 M659.8,166.9 L659.8,166.9 L660.8,166.9 L661.8,166.9 L662.8,166.9 L663.8,166.8 L664.8,166.8 L665.8,166.8 L666.8,166.8 L667.8,166.7 L668.8,166.7 L669.8,166.7 L670.8,166.6 L671.8,166.6 L672.8,166.6 L673.8,166.5 L674.8,166.5 L675.8,166.5 L676.8,166.4 L677.8,166.4 L678.8,166.4 L679.8,166.3 L680.8,166.3 L681.8,166.3 L682.8,166.2 L683.8,166.2 L684.8,166.2 L685.8,166.1 L686.8,166.1 L687.8,166.1 L688.8,166.0 L689.8,166.0 L690.8,165.9 L691.8,165.9 L692.8,165.9 L693.8,165.8 L694.8,165.8 L695.8,165.8 L696.8,165.7 L697.8,165.7 L698.8,165.7 L699.8,165.6 L700.8,165.6 L701.8,165.6 L702.8,165.5 L703.8,165.5 L704.8,165.5 L705.8,165.4 L706.8,165.4 L707.8,165.4 L708.8,165.3 L709.8,165.3 L710.8,165.3 L711.8,165.3 L712.8,165.2 L713.8,165.2 L714.8,165.2 L715.8,165.2 L716.8,165.1 L717.8,165.1 L718.8,165.1 L719.8,165.1 L720.8,165.0 L721.8,165.0 L722.8,165.0 L723.8,165.0 L724.8,165.0 L725.8,164.9 L726.8,164.9 L727.8,164.9 L728.8,164.9 L729.8,164.9 L730.8,164.8 L731.8,164.8 L732.8,164.8 L733.8,164.8 L734.8,164.8 L735.8,164.8 L736.8,164.7 L737.8,164.7 L738.8,164.7 L739.8,164.7 L740.8,164.7 L741.8,164.7 L742.8,164.7 L743.8,164.6 L744.8,164.6 L745.8,164.6 L746.8,164.6 L747.8,164.6 L748.8,164.6 L749.8,164.6 L750.8,164.6 L751.8,164.5 L752.8,164.5 L753.8,164.5 L754.0,164.5 M777.6,164.3 L777.8,164.3 L778.8,164.3 L779.8,164.3 L780.8,164.2 L781.8,164.2 L782.8,164.2 L783.8,164.2 L784.8,164.2 L785.8,164.2 L786.8,164.2 L787.8,164.2 L788.8,164.2 L789.8,164.2 L790.8,164.2 L791.8,164.2 L792.3,164.2 M815.8,164.0 L815.8,164.0 L816.8,164.0 L817.8,164.0 L818.8,164.0 L819.8,164.0 L820.8,164.0 L821.8,164.0 L822.8,164.0 L823.8,164.0 L824.8,164.0 L825.8,164.0 L826.8,164.0 L827.8,164.0 L828.8,163.9 L829.8,163.9 L830.8,163.9 L831.8,163.9 L832.8,163.9 L833.8,163.9 L834.8,163.9 L835.8,163.9 L836.8,163.9 L837.8,163.9 L838.8,163.9 L839.8,163.9 L840.8,163.9 L841.8,163.9 L842.8,163.9 L843.8,163.9 L844.8,163.9 L845.8,163.9 L846.8,163.9 L847.8,163.9 L848.8,163.9 L849.8,163.9 L850.8,163.9 L851.8,163.9 L852.8,163.9 L853.8,163.9 L854.8,163.9 L855.8,163.9 L856.8,163.9 L857.8,163.9 L858.8,163.9 L859.8,163.9 L860.8,163.9 L861.8,163.9 L862.8,163.9 L863.8,163.9 L864.8,163.9 L865.8,163.9 L866.8,163.9 L867.8,163.9 L868.8,163.9 L869.8,163.9 L870.8,163.9 L871.8,163.9 L872.8,163.9 L873.8,163.9 L874.8,163.9 L875.8,163.9 L876.8,163.9 L877.8,163.9 L878.8,163.9 L879.8,163.9 L880.8,163.9 L881.8,163.9 L882.8,163.9 L883.8,163.9 L884.8,163.9 L885.8,163.9 L886.8,163.9 L887.8,163.9 L888.8,163.9 L889.8,163.9 L890.8,163.9 L891.8,163.9 L892.8,163.9 L893.8,163.9 L894.8,163.9 L895.8,163.9 L896.8,163.9 L897.8,163.9 L898.8,163.9 L899.8,163.9 L900.8,164.0 L901.8,164.0 L902.8,164.0 L903.8,164.0 L904.8,164.0 L905.8,164.0 L906.8,164.0 L907.8,164.0 L908.8,164.0 L909.8,164.0 L910.8,164.0 L911.8,164.1 M935.8,164.5 L936.8,164.5 L937.8,164.5 L938.8,164.5 L939.8,164.5 L940.8,164.6 L941.8,164.6 L942.8,164.6 L943.8,164.6 L944.8,164.7 L945.8,164.7 L946.8,164.7 L947.8,164.7 L948.8,164.8 L949.8,164.8 L950.8,164.8 L950.8,164.8 M974.8,165.5 L974.8,165.5 L975.8,165.5 L976.8,165.5 L977.8,165.5 L978.8,165.6 L979.8,165.6 L980.8,165.6 L981.8,165.6 L982.8,165.7 L983.8,165.7 L984.8,165.7 L985.8,165.7 L986.8,165.8 L987.8,165.8 L988.8,165.8 L989.8,165.8 L990.8,165.9 L991.8,165.9 L992.8,165.9 L993.8,165.9 L994.8,166.0 L995.8,166.0 L996.8,166.0 L997.8,166.0 L998.8,166.1 L999.8,166.1 L1000.8,166.1 L1001.8,166.1 L1002.8,166.2 L1003.8,166.2 L1004.8,166.2 L1005.8,166.2 L1006.8,166.3 L1007.8,166.3 L1008.8,166.3 L1009.8,166.4 L1010.8,166.4 L1011.8,166.4 L1012.8,166.4 L1013.8,166.5 L1014.8,166.5 L1015.8,166.5 L1016.8,166.6 L1017.8,166.6 L1018.8,166.6 L1019.8,166.7 L1020.8,166.7 L1021.8,166.8 L1022.8,166.8 L1023.8,166.8 L1024.8,166.9 L1025.8,166.9 L1026.8,167.0 L1027.8,167.0 L1028.8,167.1 L1029.8,167.1 L1030.8,167.2 L1031.8,167.2 L1032.8,167.3 L1033.8,167.3 L1034.8,167.4 L1035.8,167.4 L1036.8,167.5 L1037.8,167.6 L1038.8,167.6 L1039.8,167.7 L1040.8,167.7 L1041.8,167.8 L1042.8,167.9 L1043.8,168.0 L1044.8,168.0 L1045.8,168.1 L1046.8,168.2 L1047.8,168.3 L1048.8,168.4 L1049.8,168.5 L1050.8,168.6 L1051.8,168.6 L1052.7,168.7 L1053.7,168.8 L1054.7,169.0 L1055.7,169.1 L1056.7,169.2 L1057.7,169.3 L1058.7,169.4 L1059.7,169.5 L1060.7,169.7 L1061.7,169.8 L1062.7,169.9 L1063.7,170.1 L1064.6,170.2 L1065.6,170.4 L1066.6,170.5 L1067.6,170.7 L1068.6,170.8 L1069.3,170.9 M1092.5,176.0 L1093.0,176.1 L1093.9,176.4 L1094.9,176.6 L1095.9,176.9 L1096.8,177.2 L1097.8,177.5 L1098.7,177.8 L1099.7,178.1 L1100.6,178.4 L1101.6,178.7 L1102.5,179.0 L1103.5,179.3 L1104.4,179.6 L1105.4,179.9 L1106.3,180.2 L1106.6,180.3 M1129.0,188.0 L1129.0,188.0 L1129.9,188.3 L1130.9,188.6 L1131.8,189.0 L1132.8,189.3 L1133.7,189.6 L1134.7,189.8 L1135.7,190.1 L1136.6,190.4 L1137.6,190.7 L1138.5,191.0 L1139.5,191.3 L1140.4,191.6 L1141.4,191.9 L1142.4,192.1 L1143.3,192.4 L1144.3,192.7 L1145.2,193.0 L1146.2,193.2 L1147.2,193.5 L1148.1,193.8 L1149.1,194.1 L1150.0,194.3 L1151.0,194.6 L1152.0,194.9 L1152.9,195.2 L1153.9,195.4 L1154.9,195.7 L1155.8,196.0 L1156.8,196.2 L1157.7,196.5 L1158.7,196.8 L1159.7,197.1 L1160.6,197.4 L1161.6,197.6 L1162.5,197.9 L1163.5,198.2 L1164.5,198.5 L1165.4,198.8 L1166.4,199.0 L1167.3,199.3 L1168.3,199.6 L1169.3,199.9 L1170.2,200.2 L1171.2,200.5 L1172.1,200.8 L1173.1,201.1 L1174.0,201.4 L1175.0,201.7 L1175.9,202.0 L1176.9,202.3 L1177.9,202.6 L1178.8,202.9 L1179.8,203.2 L1180.7,203.5 L1181.7,203.8 L1182.6,204.1 L1183.6,204.4 L1184.5,204.7 L1185.5,205.0 L1186.4,205.3 L1187.4,205.6 L1188.3,206.0 L1189.3,206.3 L1190.2,206.6 L1191.1,206.9 L1192.1,207.3 L1193.0,207.6 L1194.0,207.9 L1194.9,208.3 L1195.8,208.6 L1196.8,209.0 L1197.7,209.3 L1198.6,209.7 L1199.6,210.0 L1200.5,210.4 L1201.4,210.8 L1202.3,211.2 L1203.2,211.5 L1204.2,211.9 L1205.1,212.3 L1206.0,212.7 L1206.9,213.2 L1207.8,213.6 L1208.7,214.0 L1209.6,214.4 L1210.4,214.9 L1211.3,215.3 L1212.2,215.8 L1213.1,216.3 L1213.9,216.7 L1214.8,217.2 L1215.6,217.7 L1216.5,218.2 L1217.3,218.8 L1218.2,219.3 L1218.9,219.8 M1237.3,235.1 L1238.0,235.7 L1238.7,236.4 L1239.4,237.1 L1240.1,237.8 L1240.8,238.5 L1241.5,239.2 L1242.3,239.9 L1243.0,240.6 L1243.7,241.2 L1244.4,241.9 L1245.1,242.6 L1245.8,243.3 L1246.6,244.0 L1247.3,244.7 L1248.0,245.4 L1248.0,245.5 M1265.0,262.3 L1265.0,262.3 L1265.7,263.1 L1266.4,263.8 L1267.1,264.5 L1267.8,265.2 L1268.5,266.0 L1269.1,266.7 L1269.8,267.4 L1270.5,268.1 L1271.2,268.9 L1271.9,269.6 L1272.5,270.3 L1273.2,271.1 L1273.9,271.8 L1274.6,272.6 L1275.3,273.3 L1275.9,274.0 L1276.6,274.8 L1277.3,275.5 L1277.9,276.3 L1278.6,277.0 L1279.3,277.7 L1279.9,278.5 L1280.6,279.2 L1281.3,280.0 L1281.9,280.7 L1282.6,281.5 L1283.2,282.2 L1283.9,283.0 L1284.6,283.7 L1285.2,284.5 L1285.9,285.3 L1286.5,286.0 L1287.2,286.8 L1287.8,287.5 L1288.5,288.3 L1289.1,289.0 L1289.8,289.8 L1290.4,290.6 L1291.1,291.3 L1291.7,292.1 L1292.4,292.9 L1293.0,293.6 L1293.7,294.4 L1294.3,295.1 L1294.9,295.9 L1295.6,296.7 L1296.2,297.5 L1296.9,298.2 L1297.5,299.0 L1298.1,299.8 L1298.8,300.5 L1299.4,301.3 L1300.0,302.1 L1300.7,302.9 L1301.3,303.6 L1301.9,304.4 L1302.6,305.2 L1303.2,306.0 L1303.8,306.7 L1304.5,307.5 L1305.1,308.3 L1305.7,309.1 L1306.3,309.9 L1306.9,310.6 L1307.6,311.4 L1308.2,312.2 L1308.8,313.0 L1309.4,313.8 L1310.0,314.6 L1310.6,315.4 L1311.2,316.2 L1311.9,317.0 L1312.5,317.8 L1313.1,318.6 L1313.7,319.4 L1314.3,320.2 L1314.8,321.0 L1315.4,321.8 L1316.0,322.6 L1316.6,323.4 L1317.2,324.2 L1317.8,325.0 L1318.3,325.8 L1318.9,326.6 L1319.5,327.5 L1320.0,328.3 L1320.6,329.1 L1321.1,329.9 L1321.7,330.8 L1322.2,331.6 L1322.8,332.4 L1323.3,333.3 L1323.8,334.1 L1324.4,335.0 L1324.9,335.8 L1325.4,336.7 L1325.7,337.2 M1336.5,358.7 L1336.6,358.9 L1337.1,359.8 L1337.5,360.7 L1337.9,361.6 L1338.3,362.5 L1338.7,363.4 L1339.2,364.3 L1339.6,365.2 L1340.0,366.2 L1340.4,367.1 L1340.8,368.0 L1341.3,368.9 L1341.7,369.8 L1342.1,370.7 L1342.5,371.6 L1342.9,372.3 M1352.6,394.4 L1352.6,394.4 L1352.9,395.4 L1353.3,396.3 L1353.6,397.2 L1354.0,398.2 L1354.3,399.1 L1354.6,400.1 L1355.0,401.0 L1355.3,401.9 L1355.6,402.9 L1355.9,403.8 L1356.3,404.8 L1356.6,405.7 L1356.9,406.7 L1357.2,407.6 L1357.5,408.6 L1357.8,409.5 L1358.1,410.5 L1358.4,411.4 L1358.7,412.4 L1359.0,413.3 L1359.3,414.3 L1359.6,415.2 L1359.9,416.2 L1360.2,417.2 L1360.5,418.1 L1360.7,419.1 L1361.0,420.0 L1361.3,421.0 L1361.6,422.0 L1361.9,422.9 L1362.2,423.9 L1362.5,424.8 L1362.7,425.8 L1363.0,426.7 L1363.3,427.7 L1363.6,428.7 L1363.9,429.6 L1364.2,430.6 L1364.5,431.5 L1364.7,432.5 L1365.0,433.5 L1365.3,434.4 L1365.6,435.4 L1365.9,436.3 L1366.2,437.3 L1366.5,438.2 L1366.8,439.2 L1367.1,440.1 L1367.4,441.1 L1367.7,442.1 L1367.9,443.0 L1368.2,444.0 L1368.5,444.9 L1368.8,445.9 L1369.1,446.8 L1369.4,447.8 L1369.7,448.7 L1370.0,449.7 L1370.3,450.7 L1370.6,451.6 L1370.9,452.6 L1371.2,453.5 L1371.5,454.5 L1371.8,455.4 L1372.1,456.4 L1372.4,457.3 L1372.7,458.3 L1373.0,459.2 L1373.3,460.2 L1373.6,461.1 L1374.0,462.1 L1374.3,463.1 L1374.6,464.0 L1374.9,465.0 L1375.2,465.9 L1375.5,466.9 L1375.8,467.8 L1376.1,468.8 L1376.4,469.7 L1376.7,470.7 L1377.0,471.6 L1377.3,472.6 L1377.6,473.5 L1377.9,474.5 L1378.2,475.4 L1378.6,476.4 L1378.9,477.3 L1379.2,478.3 L1379.5,479.2 L1379.8,480.2 L1380.1,481.1 L1380.4,482.1 L1380.7,483.0 L1381.0,484.0 L1381.4,484.9 L1381.5,485.3 M1388.7,508.0 L1388.9,508.8 L1389.2,509.7 L1389.4,510.7 L1389.7,511.6 L1390.0,512.6 L1390.2,513.6 L1390.5,514.5 L1390.8,515.5 L1391.0,516.5 L1391.3,517.4 L1391.5,518.4 L1391.8,519.4 L1392.0,520.3 L1392.3,521.3 L1392.5,522.3 L1392.6,522.4 M1398.0,545.6 L1398.0,545.6 L1398.2,546.6 L1398.4,547.6 L1398.7,548.6 L1398.9,549.5 L1399.1,550.5 L1399.3,551.5 L1399.6,552.5 L1399.8,553.4 L1400.0,554.4 L1400.3,555.4 L1400.5,556.3 L1400.7,557.3 L1401.0,558.3 L1401.2,559.3 L1401.4,560.2 L1401.7,561.2 L1401.9,562.2 L1402.1,563.2 L1402.3,564.1 L1402.6,565.1 L1402.8,566.1 L1403.0,567.0 L1403.3,568.0 L1403.5,569.0 L1403.7,570.0 L1404.0,570.9 L1404.2,571.9 L1404.4,572.9 L1404.7,573.9 L1404.9,574.8 L1405.1,575.8 L1405.4,576.8 L1405.6,577.7 L1405.9,578.7 L1406.1,579.7 L1406.3,580.7 L1406.6,581.6 L1406.8,582.6 L1407.0,583.6 L1407.3,584.6 L1407.5,585.5 L1407.7,586.5 L1408.0,587.5 L1408.2,588.4 L1408.4,589.4 L1408.7,590.4 L1408.9,591.4 L1409.1,592.3 L1409.4,593.3 L1409.6,594.3 L1409.8,595.2 L1410.1,596.2 L1410.3,597.2 L1410.5,598.2 L1410.8,599.1 L1411.0,600.1 L1411.2,601.1 L1411.5,602.1 L1411.7,603.0 L1411.9,604.0 L1412.2,605.0 L1412.4,605.9 L1412.6,606.9 L1412.9,607.9 L1413.1,608.9 L1413.3,609.8 L1413.5,610.8 L1413.8,611.8 L1414.0,612.8 L1414.2,613.7 L1414.5,614.7 L1414.7,615.7 L1414.9,616.7 L1415.1,617.6 L1415.4,618.6 L1415.6,619.6 L1415.8,620.6 L1416.1,621.5 L1416.3,622.5 L1416.5,623.5 L1416.7,624.4 L1417.0,625.4 L1417.2,626.4 L1417.4,627.4 L1417.6,628.3 L1417.8,629.3 L1418.1,630.3 L1418.3,631.3 L1418.5,632.3 L1418.7,633.2 L1418.9,634.2 L1419.1,635.2 L1419.4,636.2 L1419.6,637.1 L1419.8,638.1 L1420.0,639.1 M1424.7,662.6 L1424.8,663.6 L1425.0,664.6 L1425.2,665.6 L1425.4,666.6 L1425.6,667.5 L1425.8,668.5 L1426.0,669.5 L1426.1,670.5 L1426.3,671.5 L1426.5,672.5 L1426.7,673.4 L1426.9,674.4 L1427.1,675.4 L1427.3,676.4 L1427.5,677.4 L1427.5,677.4 M1432.0,700.9 L1432.0,700.9 L1432.1,701.9 L1432.3,702.9 L1432.5,703.9 L1432.7,704.9 L1432.9,705.9 L1433.1,706.8 L1433.2,707.8 L1433.4,708.8 L1433.6,709.8 L1433.8,710.8 L1434.0,711.8 L1434.2,712.7 L1434.3,713.7 L1434.5,714.7 L1434.7,715.7 L1434.9,716.7 L1435.1,717.7 L1435.3,718.6 L1435.4,719.6 L1435.6,720.6 L1435.8,721.6 L1436.0,722.6 L1436.1,723.6 L1436.3,724.6 L1436.5,725.5 L1436.7,726.5 L1436.9,727.5 L1437.0,728.5 L1437.2,729.5 L1437.4,730.5 L1437.6,731.4 L1437.7,732.4 L1437.9,733.4 L1438.1,734.4 L1438.3,735.4 L1438.5,736.4 L1438.6,737.3 L1438.8,738.3 L1439.0,739.3 L1439.2,740.3 L1439.3,741.3 L1439.5,742.3 L1439.7,743.3 L1439.9,744.2 L1440.0,745.2 L1440.2,746.2 L1440.4,747.2 L1440.5,748.2 L1440.7,749.2 L1440.9,750.2 L1441.1,751.1 L1441.2,752.1 L1441.4,753.1 L1441.6,754.1 L1441.7,755.1 L1441.9,756.1 L1442.1,757.0 L1442.3,758.0 L1442.4,759.0 L1442.6,760.0 L1442.8,761.0 L1442.9,762.0 L1443.1,763.0 L1443.3,764.0 L1443.4,764.9 L1443.6,765.9 L1443.8,766.9 L1443.9,767.9 L1444.1,768.9 L1444.2,769.9 L1444.4,770.9 L1444.6,771.8 L1444.7,772.8 L1444.9,773.8 L1445.0,774.8 L1445.2,775.8 L1445.3,776.8 L1445.5,777.8 L1445.6,778.8 L1445.8,779.8 L1445.9,780.7 L1446.1,781.7 L1446.2,782.7 L1446.3,783.7 L1446.5,784.7 L1446.6,785.7 L1446.7,786.7 L1446.8,787.7 L1447.0,788.7 L1447.1,789.7 L1447.2,790.7 L1447.3,791.6 L1447.4,792.6 L1447.5,793.6 L1447.6,794.4 M1450.0,817.9 L1450.0,818.5 L1450.2,819.5 L1450.3,820.5 L1450.4,821.4 L1450.5,822.4 L1450.7,823.4 L1450.8,824.4 L1451.0,825.4 L1451.1,826.4 L1451.2,827.4 L1451.4,828.4 L1451.6,829.3 L1451.7,830.3 L1451.9,831.3 L1452.0,832.3 L1452.1,832.6 M1456.3,855.9 L1456.3,855.9 L1456.5,856.9 L1456.7,857.9 L1456.8,858.9 L1457.0,859.8 L1457.1,860.8 L1457.3,861.8 L1457.4,862.8 L1457.6,863.8 L1457.7,864.8 L1457.9,865.8 L1458.0,866.8 L1458.1,867.7 L1458.3,868.7 L1458.4,869.7 L1458.5,870.7 L1458.7,871.7 L1458.8,872.7 L1458.9,873.7 L1459.1,874.7 L1459.2,875.7 L1459.3,876.7 L1459.4,877.7 L1459.6,878.7 L1459.7,879.6 L1459.8,880.6 L1459.9,881.6 L1460.0,882.6 L1460.1,883.6 L1460.3,884.6 L1460.4,885.6 L1460.5,886.6 L1460.6,887.6 L1460.7,888.6 L1460.8,889.6 L1460.9,890.6 L1461.0,891.6 L1461.2,892.6 L1461.3,893.6 L1461.4,894.6 L1461.5,895.5 L1461.6,896.5 L1461.7,897.5 L1461.8,898.5 L1461.9,899.5 L1462.0,900.5 L1462.1,901.5 L1462.2,902.5 L1462.3,903.5 L1462.4,904.5 L1462.5,905.5 L1462.6,906.5 L1462.7,907.5 L1462.8,908.5 L1462.9,909.5 L1463.0,910.5 L1463.1,911.5 L1463.2,912.5 L1463.3,913.5 L1463.4,914.4 L1463.5,915.4 L1463.6,916.4 L1463.7,917.4 L1463.8,918.4 L1463.9,919.4 L1464.0,920.4 L1464.1,921.4 L1464.2,922.4 L1464.3,923.4 L1464.4,924.4 L1464.5,925.4 L1464.7,926.4 L1464.8,927.4 L1464.9,928.4 L1465.0,929.4 L1465.1,930.4 L1465.2,931.4 L1465.3,932.4 L1465.4,933.4 L1465.5,934.3 L1465.6,935.3 L1465.7,936.3 L1465.8,937.3 L1465.9,938.3 L1466.0,939.3 L1466.1,940.3 L1466.3,941.3 L1466.4,942.3 L1466.5,943.3 L1466.6,944.3 L1466.7,945.3 L1466.9,946.3 L1467.0,947.3 L1467.1,948.2 L1467.2,949.2 L1467.4,950.2 L1467.5,951.2 L1467.5,951.2 M1471.1,975.0 L1471.3,975.9 L1471.4,976.9 L1471.6,977.9 L1471.8,978.9 L1471.9,979.9 L1472.1,980.9 L1472.2,981.9 L1472.4,982.8 L1472.6,983.8 L1472.7,984.8 L1472.9,985.8 L1473.1,986.8 L1473.2,987.8 L1473.4,988.8 L1473.5,989.8 L1473.5,989.8 M1477.2,1013.5 L1477.2,1013.5 L1477.3,1014.5 L1477.5,1015.5 L1477.6,1016.4 L1477.7,1017.4 L1477.9,1018.4 L1478.0,1019.4 L1478.1,1020.4 L1478.3,1021.4 L1478.4,1022.4 L1478.5,1023.4 L1478.7,1024.4 L1478.8,1025.4 L1478.9,1026.4 L1479.0,1027.4 L1479.2,1028.3 L1479.3,1029.3 L1479.4,1030.3 L1479.5,1031.3 L1479.7,1032.3 L1479.8,1033.3 L1479.9,1034.3 L1480.0,1035.3 L1480.2,1036.3 L1480.3,1037.3 L1480.4,1038.3 L1480.5,1039.3 L1480.6,1040.3 L1480.8,1041.2 L1480.9,1042.2 L1481.0,1043.2 L1481.1,1044.2 L1481.2,1045.2 L1481.4,1046.2 L1481.5,1047.2 L1481.6,1048.2 L1481.7,1049.2 L1481.8,1050.2 L1482.0,1051.2 L1482.1,1052.2 L1482.2,1053.2 L1482.3,1054.2 L1482.4,1055.2 L1482.6,1056.1 L1482.7,1057.1 L1482.8,1058.1 L1482.9,1059.1 L1483.0,1060.1 L1483.2,1061.1 L1483.3,1062.1 L1483.4,1063.1 L1483.5,1064.1 L1483.6,1065.1 L1483.8,1066.1 L1483.9,1067.1 L1484.0,1068.1 L1484.1,1069.1 L1484.2,1070.0 L1484.4,1071.0 L1484.5,1072.0 L1484.6,1073.0 L1484.7,1074.0 L1484.9,1075.0 L1485.0,1076.0 L1485.1,1077.0 L1485.2,1078.0 L1485.3,1079.0 L1485.5,1080.0 L1485.6,1081.0 L1485.7,1082.0 L1485.8,1082.9 L1486.0,1083.9 L1486.1,1084.9 L1486.2,1085.9 L1486.4,1086.9 L1486.5,1087.9 L1486.6,1088.9 L1486.7,1089.9 L1486.9,1090.9 L1487.0,1091.9 L1487.1,1092.9 L1487.3,1093.9 L1487.4,1094.8 L1487.5,1095.8 L1487.6,1096.8 L1487.8,1097.8 L1487.9,1098.8 L1488.0,1099.8 L1488.2,1100.8 L1488.3,1101.8 L1488.4,1102.8 L1488.6,1103.8 L1488.7,1104.8 L1488.9,1105.8 L1489.0,1106.7 L1489.1,1107.7 L1489.3,1108.7 L1489.3,1109.3 M1492.6,1133.2 L1492.7,1133.5 L1492.8,1134.5 L1492.9,1135.5 L1493.1,1136.5 L1493.2,1137.5 L1493.3,1138.5 L1493.4,1139.4 L1493.6,1140.4 L1493.7,1141.4 L1493.8,1142.4 L1493.9,1143.4 L1494.0,1144.4 L1494.2,1145.4 L1494.3,1146.4 L1494.4,1147.4 L1494.5,1148.2 M1497.6,1172.2 L1497.6,1172.2 L1497.7,1173.2 L1497.9,1174.2 L1498.0,1175.1 L1498.2,1176.1 L1498.3,1177.1 L1498.5,1178.1 L1498.6,1179.1 L1498.8,1180.1 L1498.9,1181.1 L1499.1,1182.1 L1499.3,1183.0 L1499.4,1184.0 L1499.6,1185.0 L1499.8,1186.0 L1499.9,1187.0 L1500.1,1188.0 L1500.3,1189.0 L1500.4,1189.9 L1500.6,1190.9 L1500.8,1191.9 L1501.0,1192.9 L1501.1,1193.9 L1501.3,1194.9 L1501.5,1195.9 L1501.7,1196.8 L1501.8,1197.8 L1502.0,1198.8 L1502.2,1199.8 L1502.4,1200.8 L1502.5,1201.8 L1502.7,1202.7 L1502.9,1203.7 L1503.1,1204.7 L1503.3,1205.7 L1503.4,1206.7 L1503.6,1207.7 L1503.8,1208.6 L1504.0,1209.6 L1504.2,1210.6 L1504.3,1211.6 L1504.5,1212.6 L1504.7,1213.6 L1504.9,1214.6 L1505.1,1215.5 L1505.2,1216.5 L1505.4,1217.5 L1505.6,1218.5 L1505.8,1219.5 L1506.0,1220.5 L1506.1,1221.4 L1506.3,1222.4 L1506.5,1223.4 L1506.7,1224.4 L1506.9,1225.4 L1507.0,1226.4 L1507.2,1227.3 L1507.4,1228.3 L1507.6,1229.3 L1507.8,1230.3 L1507.9,1231.3 L1508.1,1232.3 L1508.3,1233.2 L1508.5,1234.2 L1508.7,1235.2 L1508.9,1236.2 L1509.0,1237.2 L1509.2,1238.2 L1509.4,1239.1 L1509.6,1240.1 L1509.8,1241.1 L1510.0,1242.1 L1510.1,1243.1 L1510.3,1244.1 L1510.5,1245.0 L1510.7,1246.0 L1510.9,1247.0 L1511.1,1248.0 L1511.3,1249.0 L1511.5,1249.9 L1511.7,1250.9 L1511.9,1251.9 L1512.1,1252.9 L1512.3,1253.9 L1512.5,1254.8 L1512.7,1255.8 L1512.9,1256.8 L1513.1,1257.8 L1513.3,1258.8 L1513.5,1259.7 L1513.7,1260.7 L1514.0,1261.7 L1514.2,1262.7 L1514.4,1263.6 L1514.6,1264.6 L1514.8,1265.6 L1515.1,1266.6 L1515.3,1267.5 L1515.5,1268.5 L1515.8,1269.5 L1516.0,1270.5 L1516.0,1270.5 M1522.8,1294.6 L1523.0,1295.4 L1523.3,1296.4 L1523.7,1297.3 L1524.0,1298.3 L1524.3,1299.2 L1524.6,1300.2 L1524.9,1301.1 L1525.2,1302.1 L1525.6,1303.0 L1525.9,1303.9 L1526.3,1304.9 L1526.6,1305.8 L1527.0,1306.7 L1527.3,1307.7 L1527.7,1308.6 L1528.0,1309.3 M1543.2,1318.8 L1543.2,1318.8 L1543.6,1317.9 L1544.0,1317.0 L1544.4,1316.0 L1544.7,1315.1 L1545.1,1314.2 L1545.4,1313.2 L1545.7,1312.3 L1546.0,1311.3 L1546.2,1310.4 L1546.5,1309.4 L1546.8,1308.4 L1547.1,1307.5 L1547.3,1306.5 L1547.6,1305.6 L1547.9,1304.6 L1548.1,1303.6 L1548.4,1302.7 L1548.6,1301.7 L1548.9,1300.7 L1549.1,1299.8 L1549.4,1298.8 L1549.6,1297.8 L1549.8,1296.9 L1550.1,1295.9 L1550.3,1294.9 L1550.6,1293.9 L1550.8,1293.0 L1551.1,1292.0 L1551.3,1291.1 L1551.6,1290.1 L1551.8,1289.2 L1552.1,1288.2 L1552.3,1287.2 L1552.6,1286.3 L1552.8,1285.3 L1553.0,1284.3 L1553.3,1283.3 L1553.5,1282.4 L1553.8,1281.4 L1554.0,1280.4 L1554.2,1279.5 L1554.5,1278.5 L1554.7,1277.5 L1555.0,1276.5 L1555.2,1275.6 L1555.4,1274.6 L1555.7,1273.6 L1555.9,1272.7 L1556.2,1271.7 L1556.4,1270.7 L1556.6,1269.8 L1556.9,1268.8 L1557.1,1267.8 L1557.4,1266.8 L1557.6,1265.9 L1557.9,1264.9 L1558.1,1263.9 L1558.3,1263.0 L1558.6,1262.0 L1558.8,1261.0 L1559.1,1260.0 L1559.3,1259.1 L1559.5,1258.1 L1559.8,1257.1 L1560.0,1256.2 L1560.3,1255.2 L1560.5,1254.2 L1560.7,1253.2 L1561.0,1252.3 L1561.2,1251.3 L1561.4,1250.3 L1561.7,1249.4 L1561.9,1248.4 L1562.1,1247.4 L1562.3,1246.4 L1562.6,1245.5 L1562.8,1244.5 L1563.0,1243.5 L1563.2,1242.5 L1563.5,1241.6 L1563.7,1240.6 L1563.9,1239.6 L1564.1,1238.6 L1564.3,1237.7 L1564.6,1236.7 L1564.8,1235.7 L1565.0,1234.7 L1565.2,1233.8 L1565.4,1232.8 L1565.6,1231.8 L1565.8,1230.8 L1566.0,1229.8 L1566.2,1228.9 L1566.4,1227.9 L1566.6,1226.9 L1566.8,1225.9 L1567.0,1224.9 L1567.2,1224.0 L1567.4,1223.0 L1567.6,1222.0 L1567.7,1221.7 M1572.4,1197.1 L1572.5,1196.5 L1572.7,1195.5 L1572.8,1194.5 L1573.0,1193.5 L1573.2,1192.5 L1573.4,1191.5 L1573.5,1190.5 L1573.7,1189.6 L1573.9,1188.6 L1574.0,1187.6 L1574.2,1186.6 L1574.4,1185.6 L1574.5,1184.6 L1574.7,1183.6 L1574.9,1182.7 L1575.0,1181.7 M1579.0,1157.0 L1579.0,1157.0 L1579.1,1156.0 L1579.3,1155.0 L1579.4,1154.0 L1579.6,1153.0 L1579.7,1152.0 L1579.9,1151.1 L1580.0,1150.1 L1580.2,1149.1 L1580.3,1148.1 L1580.5,1147.1 L1580.6,1146.1 L1580.8,1145.1 L1580.9,1144.1 L1581.1,1143.1 L1581.2,1142.2 L1581.4,1141.2 L1581.5,1140.2 L1581.7,1139.2 L1581.8,1138.2 L1582.0,1137.2 L1582.1,1136.2 L1582.3,1135.2 L1582.4,1134.2 L1582.6,1133.3 L1582.7,1132.3 L1582.9,1131.3 L1583.0,1130.3 L1583.2,1129.3 L1583.3,1128.3 L1583.5,1127.3 L1583.6,1126.3 L1583.7,1125.3 L1583.9,1124.3 L1584.0,1123.4 L1584.2,1122.4 L1584.3,1121.4 L1584.5,1120.4 L1584.6,1119.4 L1584.8,1118.4 L1584.9,1117.4 L1585.0,1116.4 L1585.2,1115.4 L1585.3,1114.4 L1585.5,1113.5 L1585.6,1112.5 L1585.8,1111.5 L1585.9,1110.5 L1586.0,1109.5 L1586.2,1108.5 L1586.3,1107.5 L1586.5,1106.5 L1586.6,1105.5 L1586.8,1104.5 L1586.9,1103.6 L1587.0,1102.6 L1587.2,1101.6 L1587.3,1100.6 L1587.4,1099.6 L1587.6,1098.6 L1587.7,1097.6 L1587.9,1096.6 L1588.0,1095.6 L1588.1,1094.6 L1588.3,1093.7 L1588.4,1092.7 L1588.5,1091.7 L1588.7,1090.7 L1588.8,1089.7 L1588.9,1088.7 L1589.1,1087.7 L1589.2,1086.7 L1589.3,1085.7 L1589.5,1084.7 L1589.6,1083.7 L1589.7,1082.7 L1589.9,1081.8 L1590.0,1080.8 L1590.1,1079.8 L1590.3,1078.8 L1590.4,1077.8 L1590.5,1076.8 L1590.6,1075.8 L1590.8,1074.8 L1590.9,1073.8 L1591.0,1072.8 L1591.1,1071.8 L1591.3,1070.8 L1591.4,1069.9 L1591.5,1068.9 L1591.6,1067.9 L1591.8,1066.9 L1591.9,1065.9 L1592.0,1064.9 L1592.1,1064.3 M1594.9,1041.1 L1594.9,1041.1 L1595.0,1040.1 L1595.1,1039.1 L1595.3,1038.1 L1595.4,1037.1 L1595.5,1036.1 L1595.7,1035.1 L1595.8,1034.1 L1595.9,1033.1 L1596.1,1032.1 L1596.2,1031.1 L1596.3,1030.2 L1596.5,1029.2 L1596.6,1028.2 L1596.7,1027.2 L1596.8,1026.6 M1600.0,1003.4 L1600.0,1003.4 L1600.1,1002.4 L1600.2,1001.4 L1600.4,1000.4 L1600.5,999.4 L1600.6,998.4 L1600.7,997.4 L1600.8,996.5 L1601.0,995.5 L1601.1,994.5 L1601.2,993.5 L1601.3,992.5 L1601.4,991.5 L1601.6,990.5 L1601.7,989.5 L1601.8,988.5 L1601.9,987.5 L1602.0,986.5 L1602.1,985.5 L1602.3,984.5 L1602.4,983.5 L1602.5,982.6 L1602.6,981.6 L1602.7,980.6 L1602.8,979.6 L1602.9,978.6 L1603.0,977.6 L1603.2,976.6 L1603.3,975.6 L1603.4,974.6 L1603.5,973.6 L1603.6,972.6 L1603.7,971.6 L1603.8,970.6 L1603.9,969.6 L1604.0,968.6 L1604.1,967.6 L1604.3,966.6 L1604.4,965.7 L1604.5,964.7 L1604.6,963.7 L1604.7,962.7 L1604.8,961.7 L1604.9,960.7 L1605.0,959.7 L1605.1,958.7 L1605.2,957.7 L1605.3,956.7 L1605.4,955.7 L1605.5,954.7 L1605.6,953.7 L1605.7,952.7 L1605.8,951.7 L1605.9,950.7 L1606.1,949.7 L1606.2,948.7 L1606.3,947.7 L1606.4,946.8 L1606.5,945.8 L1606.6,944.8 L1606.7,943.8 L1606.8,942.8 L1606.9,941.8 L1607.0,940.8 L1607.1,939.8 L1607.2,938.8 L1607.3,937.8 L1607.4,936.8 L1607.5,935.8 L1607.6,934.8 L1607.7,933.8 L1607.8,932.8 L1607.9,931.8 L1608.1,930.8 L1608.2,929.8 L1608.3,928.9 L1608.4,927.9 L1608.5,926.9 L1608.6,925.9 L1608.7,924.9 L1608.8,923.9 L1609.0,922.9 L1609.1,921.9 L1609.2,920.9 L1609.3,919.9 L1609.4,918.9 L1609.6,917.9 L1609.7,916.9 L1609.8,915.9 L1609.9,915.0 L1610.1,914.0 L1610.2,913.0 L1610.3,912.0 L1610.5,911.0 L1610.6,910.0 L1610.8,909.0 L1610.9,908.0 M1614.4,884.3 L1614.4,884.3 L1614.6,883.3 L1614.7,882.3 L1614.8,881.3 L1615.0,880.3 L1615.1,879.3 L1615.3,878.3 L1615.4,877.4 L1615.5,876.4 L1615.7,875.4 L1615.8,874.4 L1615.9,873.4 L1616.0,872.4 L1616.2,871.4 L1616.3,870.4 L1616.4,869.4 M1619.4,845.6 L1619.4,845.6 L1619.5,844.6 L1619.6,843.6 L1619.8,842.6 L1619.9,841.6 L1620.0,840.6 L1620.2,839.7 L1620.3,838.7 L1620.4,837.7 L1620.6,836.7 L1620.7,835.7 L1620.9,834.7 L1621.0,833.7 L1621.1,832.7 L1621.3,831.7 L1621.4,830.7 L1621.6,829.7 L1621.7,828.8 L1621.8,827.8 L1622.0,826.8 L1622.1,825.8 L1622.3,824.8 L1622.4,823.8 L1622.6,822.8 L1622.7,821.8 L1622.9,820.8 L1623.0,819.9 L1623.2,818.9 L1623.3,817.9 L1623.5,816.9 L1623.6,815.9 L1623.8,814.9 L1623.9,813.9 L1624.0,812.9 L1624.2,811.9 L1624.3,811.0 L1624.5,810.0 L1624.6,809.0 L1624.8,808.0 L1624.9,807.0 L1625.1,806.0 L1625.2,805.0 L1625.4,804.0 L1625.5,803.0 L1625.6,802.0 L1625.8,801.1 L1625.9,800.1 L1626.1,799.1 L1626.2,798.1 L1626.4,797.1 L1626.5,796.1 L1626.6,795.1 L1626.8,794.1 L1626.9,793.1 L1627.1,792.1 L1627.2,791.2 L1627.3,790.2 L1627.5,789.2 L1627.6,788.2 L1627.8,787.2 L1627.9,786.2 L1628.0,785.2 L1628.2,784.2 L1628.3,783.2 L1628.5,782.2 L1628.6,781.2 L1628.7,780.3 L1628.9,779.3 L1629.0,778.3 L1629.1,777.3 L1629.3,776.3 L1629.4,775.3 L1629.6,774.3 L1629.7,773.3 L1629.8,772.3 L1630.0,771.3 L1630.1,770.4 L1630.2,769.4 L1630.4,768.4 L1630.5,767.4 L1630.7,766.4 L1630.8,765.4 L1631.0,764.4 L1631.1,763.4 L1631.2,762.4 L1631.4,761.4 L1631.5,760.5 L1631.7,759.5 L1631.8,758.5 L1632.0,757.5 L1632.1,756.5 L1632.3,755.5 L1632.4,754.5 L1632.6,753.5 L1632.7,752.5 L1632.9,751.6 L1633.0,750.6 M1636.5,726.9 L1636.5,726.8 L1636.6,725.8 L1636.7,724.8 L1636.8,723.9 L1637.0,722.9 L1637.1,721.9 L1637.2,720.9 L1637.3,719.9 L1637.4,718.9 L1637.5,717.9 L1637.6,716.9 L1637.7,715.9 L1637.8,714.9 L1637.9,713.9 L1637.9,712.9 L1638.0,712.0 M1640.5,688.1 L1640.5,688.1 L1640.7,687.1 L1640.8,686.1 L1641.0,685.1 L1641.2,684.1 L1641.3,683.2 L1641.5,682.2 L1641.7,681.2 L1641.8,680.2 L1642.0,679.2 L1642.2,678.2 L1642.4,677.3 L1642.6,676.3 L1642.7,675.3 L1642.9,674.3 L1643.1,673.3 L1643.3,672.4 L1643.5,671.4 L1643.7,670.4 L1644.0,669.4 L1644.2,668.5 L1644.4,667.5 L1644.6,666.5 L1644.8,665.5 L1645.0,664.6 L1645.2,663.6 L1645.5,662.6 L1645.7,661.6 L1645.9,660.6 L1646.1,659.7 L1646.3,658.7 L1646.6,657.7 L1646.8,656.7 L1647.0,655.8 L1647.2,654.8 L1647.5,653.8 L1647.7,652.8 L1647.9,651.9 L1648.1,650.9 L1648.4,649.9 L1648.6,648.9 L1648.8,648.0 L1649.0,647.0 L1649.2,646.0 L1649.5,645.0 L1649.7,644.1 L1649.9,643.1 L1650.1,642.1 L1650.4,641.1 L1650.6,640.2 L1650.8,639.2 L1651.0,638.2 L1651.2,637.2 L1651.5,636.3 L1651.7,635.3 L1651.9,634.3 L1652.1,633.3 L1652.3,632.4 L1652.5,631.4 L1652.8,630.4 L1653.0,629.4 L1653.2,628.5 L1653.4,627.5 L1653.6,626.5 L1653.8,625.5 L1654.1,624.6 L1654.3,623.6 L1654.5,622.6 L1654.7,621.6 L1654.9,620.6 L1655.1,619.7 L1655.4,618.7 L1655.6,617.7 L1655.8,616.7 L1656.0,615.8 L1656.2,614.8 L1656.4,613.8 L1656.7,612.8 L1656.9,611.9 L1657.1,610.9 L1657.3,609.9 L1657.5,608.9 L1657.7,608.0 L1658.0,607.0 L1658.2,606.0 L1658.4,605.0 L1658.6,604.1 L1658.8,603.1 L1659.1,602.1 L1659.3,601.1 L1659.5,600.1 L1659.7,599.2 L1659.9,598.2 L1660.1,597.2 L1660.4,596.2 L1660.6,595.3 L1660.8,594.3 L1660.9,593.7 M1666.5,570.2 L1666.6,570.0 L1666.8,569.0 L1667.1,568.0 L1667.3,567.1 L1667.5,566.1 L1667.8,565.1 L1668.0,564.1 L1668.3,563.2 L1668.5,562.2 L1668.8,561.2 L1669.0,560.3 L1669.3,559.3 L1669.5,558.3 L1669.8,557.4 L1670.1,556.4 L1670.3,555.6 M1676.3,532.2 L1676.3,532.2 L1676.6,531.2 L1676.8,530.3 L1677.0,529.3 L1677.3,528.3 L1677.5,527.3 L1677.7,526.4 L1678.0,525.4 L1678.2,524.4 L1678.4,523.5 L1678.7,522.5 L1678.9,521.5 L1679.1,520.5 L1679.3,519.6 L1679.6,518.6 L1679.8,517.6 L1680.0,516.6 L1680.2,515.7 L1680.4,514.7 L1680.7,513.7 L1680.9,512.7 L1681.1,511.8 L1681.3,510.8 L1681.6,509.8 L1681.8,508.8 L1682.0,507.9 L1682.2,506.9 L1682.4,505.9 L1682.7,504.9 L1682.9,504.0 L1683.1,503.0 L1683.3,502.0 L1683.5,501.0 L1683.8,500.1 L1684.0,499.1 L1684.2,498.1 L1684.4,497.1 L1684.7,496.2 L1684.9,495.2 L1685.1,494.2 L1685.3,493.2 L1685.6,492.3 L1685.8,491.3 L1686.0,490.3 L1686.3,489.3 L1686.5,488.4 L1686.7,487.4 L1686.9,486.4 L1687.2,485.4 L1687.4,484.5 L1687.6,483.5 L1687.9,482.5 L1688.1,481.6 L1688.4,480.6 L1688.6,479.6 L1688.8,478.6 L1689.1,477.7 L1689.3,476.7 L1689.6,475.7 L1689.8,474.8 L1690.0,473.8 L1690.3,472.8 L1690.5,471.8 L1690.8,470.9 L1691.0,469.9 L1691.3,468.9 L1691.5,468.0 L1691.8,467.0 L1692.0,466.0 L1692.3,465.1 L1692.5,464.1 L1692.8,463.1 L1693.0,462.2 L1693.3,461.2 L1693.5,460.2 L1693.8,459.3 L1694.1,458.3 L1694.3,457.3 L1694.6,456.4 L1694.8,455.4 L1695.1,454.4 L1695.4,453.5 L1695.6,452.5 L1695.9,451.5 L1696.2,450.6 L1696.4,449.6 L1696.7,448.7 L1697.0,447.7 L1697.3,446.7 L1697.5,445.8 L1697.8,444.8 L1698.1,443.9 L1698.4,442.9 L1698.6,441.9 L1698.9,441.0 L1699.2,440.0 L1699.3,439.6 M1706.4,416.8 L1706.6,416.1 L1706.9,415.2 L1707.2,414.2 L1707.5,413.3 L1707.8,412.3 L1708.1,411.4 L1708.4,410.4 L1708.7,409.5 L1709.0,408.5 L1709.3,407.5 L1709.6,406.6 L1709.9,405.6 L1710.2,404.7 L1710.5,403.7 L1710.8,402.8 L1710.9,402.6 M1718.1,379.9 L1718.1,379.9 L1718.4,379.0 L1718.7,378.0 L1719.1,377.1 L1719.4,376.1 L1719.7,375.2 L1720.0,374.2 L1720.3,373.3 L1720.6,372.3 L1721.0,371.4 L1721.3,370.4 L1721.6,369.5 L1721.9,368.5 L1722.2,367.6 L1722.6,366.6 L1722.9,365.7 L1723.2,364.7 L1723.5,363.8 L1723.9,362.8 L1724.2,361.9 L1724.5,361.0 L1724.8,360.0 L1725.2,359.1 L1725.5,358.1 L1725.8,357.2 L1726.1,356.2 L1726.5,355.3 L1726.8,354.3 L1727.1,353.4 L1727.5,352.5 L1727.8,351.5 L1728.1,350.6 L1728.5,349.6 L1728.8,348.7 L1729.1,347.7 L1729.5,346.8 L1729.8,345.9 L1730.1,344.9 L1730.5,344.0 L1730.8,343.0 L1731.1,342.1 L1731.5,341.1 L1731.8,340.2 L1732.2,339.3 L1732.5,338.3 L1732.8,337.4 L1733.2,336.4 L1733.5,335.5 L1733.9,334.6 L1734.2,333.6 L1734.6,332.7 L1734.9,331.8 L1735.3,330.8 L1735.6,329.9 L1736.0,329.0 L1736.4,328.0 L1736.7,327.1 L1737.1,326.2 L1737.5,325.2 L1737.8,324.3 L1738.2,323.4 L1738.6,322.5 L1739.0,321.5 L1739.3,320.6 L1739.7,319.7 L1740.1,318.8 L1740.5,317.8 L1740.9,316.9 L1741.3,316.0 L1741.7,315.1 L1742.1,314.2 L1742.5,313.3 L1742.9,312.3 L1743.3,311.4 L1743.7,310.5 L1744.1,309.6 L1744.5,308.7 L1744.9,307.8 L1745.3,306.9 L1745.7,306.0 L1746.2,305.1 L1746.6,304.1 L1747.0,303.2 L1747.4,302.3 L1747.8,301.4 L1748.3,300.5 L1748.7,299.6 L1749.1,298.7 L1749.5,297.8 L1750.0,296.9 L1750.4,296.0 L1750.8,295.1 L1751.2,294.2 L1751.6,293.3 L1752.1,292.4 L1752.5,291.5 L1752.9,290.6 M1763.5,269.1 L1763.5,269.1 L1764.0,268.2 L1764.5,267.3 L1765.0,266.4 L1765.4,265.5 L1765.9,264.7 L1766.4,263.8 L1766.9,262.9 L1767.4,262.1 L1767.9,261.2 L1768.4,260.4 L1768.9,259.5 L1769.5,258.6 L1770.0,257.8 L1770.5,256.9 L1771.0,256.1 M1784.4,236.2 L1784.4,236.2 L1784.9,235.3 L1785.5,234.5 L1786.1,233.7 L1786.7,232.9 L1787.3,232.1 L1787.8,231.3 L1788.4,230.5 L1789.0,229.7 L1789.6,228.8 L1790.2,228.0 L1790.8,227.2 L1791.4,226.4 L1792.0,225.6 L1792.6,224.8 L1793.2,224.0 L1793.7,223.2 L1794.3,222.4 L1794.9,221.6 L1795.5,220.8 L1796.1,220.0 L1796.7,219.2 L1797.3,218.4 L1797.9,217.6 L1798.5,216.8 L1799.2,216.0 L1799.8,215.2 L1800.4,214.4 L1801.0,213.6 L1801.6,212.8 L1802.2,212.1 L1802.8,211.3 L1803.4,210.5 L1804.1,209.7 L1804.7,208.9 L1805.3,208.1 L1805.9,207.3 L1806.5,206.6 L1807.2,205.8 L1807.8,205.0 L1808.4,204.2 L1809.1,203.5 L1809.7,202.7 L1810.3,201.9 L1811.0,201.1 L1811.6,200.4 L1812.2,199.6 L1812.9,198.8 L1813.5,198.1 L1814.2,197.3 L1814.8,196.5 L1815.4,195.8 L1816.1,195.0 L1816.7,194.2 L1817.4,193.5 L1818.0,192.7 L1818.7,192.0 L1819.3,191.2 L1820.0,190.4 L1820.7,189.7 L1821.3,188.9 L1822.0,188.2 L1822.6,187.4 L1823.3,186.7 L1824.0,185.9 L1824.6,185.2 L1825.3,184.5 L1826.0,183.7 L1826.6,183.0 L1827.3,182.2 L1828.0,181.5 L1828.7,180.8 L1829.3,180.0 L1830.0,179.3 L1830.7,178.6 L1831.4,177.8 L1832.1,177.1 L1832.8,176.4 L1833.5,175.7 L1834.2,175.0 L1834.9,174.2 L1835.6,173.5 L1836.3,172.8 L1837.0,172.1 L1837.7,171.4 L1838.4,170.7 L1839.1,170.0 L1839.8,169.3 L1840.5,168.6 L1841.3,167.9 L1842.0,167.3 L1842.7,166.6 L1843.5,165.9 L1844.2,165.2 L1844.9,164.6 L1845.5,164.0 M1864.0,149.2 L1864.4,149.0 L1865.2,148.4 L1866.0,147.8 L1866.8,147.2 L1867.6,146.6 L1868.4,146.0 L1869.2,145.4 L1870.0,144.8 L1870.8,144.2 L1871.7,143.6 L1872.5,143.1 L1873.3,142.5 L1874.1,141.9 L1874.9,141.3 L1875.7,140.7 L1876.0,140.5 M1895.4,127.0 L1895.4,127.0 L1896.2,126.4 L1897.1,125.9 L1897.9,125.3 L1898.7,124.8 L1899.5,124.2 L1900.4,123.6 L1901.2,123.1 L1902.0,122.5 L1902.9,122.0 L1903.7,121.4 L1904.5,120.9 L1905.4,120.3 L1906.2,119.8 L1907.1,119.2 L1907.9,118.7 L1908.7,118.2 L1909.6,117.6 L1910.4,117.1 L1911.3,116.5 L1912.1,116.0 L1913.0,115.5 L1913.8,114.9 L1914.6,114.4 L1915.5,113.9 L1916.3,113.4 L1917.2,112.8 L1918.1,112.3 L1918.9,111.8 L1919.8,111.3 L1920.6,110.8 L1921.5,110.3 L1922.3,109.8 L1923.2,109.3 L1924.1,108.8 L1924.9,108.3 L1925.8,107.8 L1926.7,107.3 L1927.5,106.8 L1928.4,106.3 L1929.3,105.8 L1930.2,105.3 L1931.0,104.8 L1931.9,104.4 L1932.8,103.9 L1933.7,103.4 L1934.6,103.0 L1935.4,102.5 L1936.3,102.0 L1937.2,101.6 L1938.1,101.1 L1939.0,100.6 L1939.9,100.2 L1940.8,99.7 L1941.7,99.3 L1942.6,98.8 L1943.5,98.4 L1944.4,98.0 L1945.3,97.5 L1946.1,97.1 L1947.0,96.6 L1947.9,96.2 L1948.8,95.8 L1949.7,95.3 L1950.6,94.9 L1951.6,94.5 L1952.5,94.0 L1953.4,93.6 L1954.3,93.2 L1955.2,92.7 L1956.1,92.3 L1957.0,91.9 L1957.9,91.5 L1958.8,91.0 L1959.7,90.6 L1960.6,90.2 L1961.5,89.8 L1962.4,89.3 L1963.3,88.9 L1964.2,88.5 L1965.1,88.1 L1966.0,87.6 L1966.9,87.2 L1967.8,86.8 L1968.7,86.4 L1969.6,85.9 L1970.5,85.5 L1971.4,85.1 L1972.4,84.6 L1973.3,84.2 L1974.2,83.8 L1975.1,83.4 L1976.0,82.9 L1976.9,82.5 L1977.8,82.1 L1978.7,81.6 L1979.6,81.2 L1979.6,81.2 M2001.2,70.9 L2002.1,70.4 L2003.0,70.0 L2004.0,69.6 L2004.9,69.2 L2005.8,68.7 L2006.7,68.3 L2007.6,67.9 L2008.5,67.5 L2009.4,67.1 L2010.3,66.6 L2011.2,66.2 L2012.1,65.8 L2013.0,65.4 L2013.9,64.9 L2014.8,64.5 M2036.7,54.5 L2036.7,54.5 L2037.6,54.1 L2038.5,53.7 L2039.4,53.3 L2040.3,52.9 L2041.2,52.5 L2042.1,52.1 L2043.0,51.6 L2043.9,51.2 L2044.9,50.8 L2045.8,50.4 L2046.7,50.0 L2047.6,49.6 L2048.5,49.2 L2049.4,48.8 L2050.3,48.4 L2051.2,48.0 L2052.2,47.6 L2053.1,47.2 L2054.0,46.8 L2054.9,46.4 L2055.8,46.0 L2056.8,45.6 L2057.7,45.2 L2058.6,44.8 L2059.5,44.4 L2060.4,44.0 L2061.4,43.7 L2062.3,43.3 L2063.2,42.9 L2064.1,42.5 L2065.1,42.1 L2066.0,41.8 L2066.9,41.4 L2067.8,41.0 L2068.8,40.7 L2069.7,40.3 L2070.6,39.9 L2071.6,39.6 L2072.5,39.2 L2073.4,38.9 L2074.4,38.5 L2075.3,38.2 L2076.3,37.8 L2077.2,37.5 L2078.1,37.2 L2079.1,36.8 L2080.0,36.5 L2081.0,36.2 L2081.9,35.8 L2082.8,35.5 L2083.8,35.2 L2084.7,34.9 L2085.7,34.6 L2086.6,34.3 L2087.6,34.0 L2088.5,33.7 L2089.5,33.4 L2090.5,33.1 L2091.4,32.8 L2092.4,32.6 L2093.3,32.3 L2094.3,32.0 L2095.3,31.8 L2096.2,31.5 L2097.2,31.3 L2098.2,31.0 L2099.1,30.8 L2100.1,30.5 L2101.1,30.3 L2102.0,30.1 L2103.0,29.9 L2104.0,29.7 L2105.0,29.5 L2105.9,29.2 L2106.9,29.0 L2107.9,28.9 L2108.9,28.7 L2109.9,28.5 L2110.8,28.3 L2111.8,28.1 L2112.8,27.9 L2113.8,27.8 L2114.8,27.6 L2115.8,27.5 L2116.7,27.3 L2117.7,27.1 L2118.7,27.0 L2119.7,26.9 L2120.7,26.7 L2121.7,26.6 L2122.7,26.5 L2123.7,26.3 L2124.7,26.2 L2125.6,26.1 L2126.6,26.0 L2127.6,25.9 L2127.7,25.9 M2151.7,24.4 L2152.5,24.4 L2153.5,24.4 L2154.5,24.4 L2155.5,24.4 L2156.5,24.4 L2157.5,24.4 L2158.5,24.4 L2159.5,24.4 L2160.5,24.4 L2161.5,24.4 L2162.5,24.5 L2163.5,24.5 L2164.5,24.5 L2165.5,24.6 L2166.5,24.6 L2166.7,24.6 M2190.5,26.9 L2191.3,27.1 L2192.3,27.2 L2193.3,27.4 L2194.3,27.6 L2195.3,27.7 L2196.3,27.9 L2197.2,28.1 L2198.2,28.3 L2199.2,28.5 L2200.2,28.7 L2201.1,28.9 L2202.1,29.1 L2203.1,29.3 L2204.1,29.6 L2205.0,29.8 L2206.0,30.0 L2207.0,30.3 L2207.9,30.5 L2208.9,30.8 L2209.8,31.1 L2210.8,31.3 L2211.7,31.6 L2212.7,31.9 L2213.6,32.2 L2214.6,32.5 L2215.5,32.8 L2216.5,33.1 L2217.4,33.5 L2218.4,33.8 L2219.3,34.1 L2220.2,34.5 L2221.1,34.8 L2222.1,35.2 L2223.0,35.6 L2223.9,36.0 L2224.8,36.3 L2225.7,36.7 L2226.6,37.1 L2227.5,37.6 L2228.4,38.0 L2229.3,38.4 L2230.2,38.9 L2231.1,39.3 L2231.9,39.8 L2232.8,40.2 L2233.7,40.7 L2234.5,41.2 L2235.4,41.7 L2236.2,42.2 L2237.1,42.7 L2237.9,43.3 L2238.7,43.8 L2239.5,44.3 L2240.4,44.9 L2241.2,45.5 L2242.0,46.0 L2242.8,46.6 L2243.6,47.2 L2244.4,47.8 L2245.2,48.4 L2245.9,49.0 L2246.7,49.6 L2247.5,50.2 L2248.2,50.9 L2249.0,51.5 L2249.8,52.1 L2250.5,52.8 L2251.3,53.4 L2252.0,54.1 L2252.8,54.7 L2253.5,55.4 L2254.2,56.1 L2255.0,56.8 L2255.7,57.4 L2256.4,58.1 L2257.1,58.8 L2257.8,59.5 L2258.6,60.2 L2259.3,60.9 L2260.0,61.6 L2260.7,62.3 L2261.4,63.0 L2262.1,63.8 L2262.7,64.5 L2263.4,65.2 L2264.1,65.9 L2264.8,66.7 L2265.5,67.4 L2266.1,68.1 L2266.8,68.9 L2267.4,69.6 L2268.1,70.4 L2268.7,71.1 L2269.4,71.9 L2270.0,72.7 L2270.7,73.4 L2271.2,74.1 M2284.7,93.9 L2284.7,93.9 L2285.2,94.8 L2285.7,95.7 L2286.2,96.5 L2286.7,97.4 L2287.1,98.3 L2287.6,99.2 L2288.0,100.1 L2288.5,100.9 L2288.9,101.8 L2289.4,102.7 L2289.8,103.6 L2290.2,104.5 L2290.7,105.4 L2291.1,106.3 L2291.5,107.2 M2300.6,129.4 L2300.6,129.4 L2300.9,130.4 L2301.2,131.3 L2301.6,132.3 L2301.9,133.2 L2302.2,134.1 L2302.5,135.1 L2302.9,136.0 L2303.2,137.0 L2303.5,137.9 L2303.8,138.9 L2304.1,139.8 L2304.4,140.8 L2304.7,141.7 L2305.0,142.7 L2305.3,143.7 L2305.6,144.6 L2305.9,145.6 L2306.1,146.5 L2306.4,147.5 L2306.7,148.4 L2307.0,149.4 L2307.3,150.4 L2307.6,151.3 L2307.8,152.3 L2308.1,153.2 L2308.4,154.2 L2308.7,155.2 L2308.9,156.1 L2309.2,157.1 L2309.5,158.0 L2309.8,159.0 L2310.0,160.0 L2310.3,160.9 L2310.6,161.9 L2310.9,162.8 L2311.1,163.8 L2311.4,164.8 L2311.7,165.7 L2312.0,166.7 L2312.3,167.6 L2312.6,168.6 L2312.9,169.5 L2313.2,170.5 L2313.5,171.4 L2313.8,172.4 L2314.1,173.3 L2314.4,174.3 L2314.8,175.2 L2315.1,176.1 L2315.4,177.1 L2315.8,178.0 L2316.1,178.9 L2316.5,179.9 L2316.9,180.8 L2317.2,181.7 L2317.6,182.6 L2318.0,183.5 L2318.4,184.4 L2318.8,185.3 L2319.2,186.2 L2319.6,187.1 L2320.0,188.0 L2320.5,188.9 L2320.9,189.8 L2321.4,190.7 L2321.8,191.6 L2322.3,192.4 L2322.7,193.3 L2323.2,194.2 L2323.7,195.0 L2324.2,195.9 L2324.7,196.7 L2325.2,197.6 L2325.8,198.4 L2326.3,199.2 L2326.8,200.1 L2327.4,200.9 L2328.0,201.7 L2328.5,202.5 L2329.1,203.3 L2329.7,204.1 L2330.4,204.9 L2331.0,205.6 L2331.6,206.4 L2332.3,207.2 L2333.0,207.9 L2333.6,208.6 L2334.3,209.3 L2335.0,210.1 L2335.7,210.8 L2336.5,211.5 L2337.2,212.2 L2337.9,212.9 L2338.6,213.6 L2339.3,214.3 L2340.0,215.0" fill="none" stroke="#000000" stroke-width="15" stroke-linejoin="round" stroke-linecap="butt"/>
<path d="M316.0,162.5 L319.0,162.4 L322.0,162.3 L325.0,162.2 L328.0,162.0 L331.0,161.9 L334.0,161.8 L337.0,161.7 L340.0,161.6 L343.0,161.5 L346.0,161.4 L349.0,161.3 L352.0,161.2 L355.0,161.0 L358.0,160.9 L361.0,160.8 L364.0,160.7 L367.0,160.6 L370.0,160.5 L373.0,160.4 L376.0,160.3 L379.0,160.1 L382.0,160.0 L385.0,159.9 L388.0,159.8 L391.0,159.7 L394.0,159.6 L396.9,159.5 L399.9,159.4 L402.9,159.3 L405.9,159.1 L408.9,159.0 L411.9,158.9 L414.9,158.8 L417.9,158.7 L420.9,158.6 L423.9,158.5 L426.9,158.3 L429.9,158.2 L432.9,158.1 L435.9,158.0 L438.9,157.9 L441.9,157.8 L444.9,157.7 L447.9,157.5 L450.9,157.4 L453.9,157.3 L456.9,157.2 L459.9,157.1 L462.9,157.0 L465.9,156.8 L468.9,156.7 L471.9,156.6 L474.9,156.5 L477.9,156.4 L480.9,156.3 L483.9,156.1 L486.9,156.0 L489.9,155.9 L492.9,155.8 L495.9,155.7 L498.9,155.5 L501.9,155.4 L504.9,155.3 L507.9,155.2 L510.9,155.0 L513.9,154.9 L516.9,154.8 L519.9,154.7 L522.9,154.5 L525.9,154.4 L528.9,154.3 L531.9,154.1 L534.8,154.0 L537.8,153.9 L540.8,153.7 L543.8,153.6 L546.8,153.5 L549.8,153.3 L552.8,153.2 L555.8,153.1 L558.8,152.9 L561.8,152.8 L564.8,152.6 L567.8,152.5 L570.8,152.4 L573.8,152.2 L576.8,152.1 L579.8,151.9 L582.8,151.8 L585.8,151.7 L588.8,151.5 L591.8,151.4 L594.8,151.3 L597.8,151.1 L600.8,151.0 L603.8,150.8 L606.8,150.7 L609.8,150.6 L612.8,150.4 L615.8,150.3 L618.8,150.2 L621.8,150.0 L624.8,149.9 L627.8,149.8 L630.8,149.7 L633.8,149.5 L636.7,149.4 L639.7,149.3 L642.7,149.1 L645.7,149.0 L648.7,148.9 L651.7,148.8 L654.7,148.7 L657.7,148.5 L660.7,148.4 L663.7,148.3 L666.7,148.2 L669.7,148.1 L672.7,148.0 L675.7,147.8 L678.7,147.7 L681.7,147.6 L684.7,147.5 L687.7,147.4 L690.7,147.3 L693.7,147.2 L696.7,147.1 L699.7,147.0 L702.7,146.9 L705.7,146.8 L708.7,146.8 L711.7,146.7 L714.7,146.6 L717.7,146.5 L720.7,146.4 L723.7,146.3 L726.7,146.3 L729.7,146.2 L732.7,146.1 L735.7,146.0 L738.7,146.0 L741.7,145.9 L744.7,145.8 L747.7,145.7 L750.7,145.7 L753.7,145.6 L756.7,145.5 L759.7,145.5 L762.7,145.4 L765.7,145.3 L768.7,145.3 L771.7,145.2 L774.7,145.2 L777.7,145.1 L780.7,145.0 L783.7,145.0 L786.7,144.9 L789.7,144.9 L792.7,144.8 L795.7,144.8 L798.7,144.7 L801.7,144.7 L804.7,144.6 L807.7,144.5 L810.7,144.5 L813.7,144.4 L816.7,144.4 L819.7,144.3 L822.7,144.3 L825.7,144.2 L828.7,144.2 L831.7,144.1 L834.7,144.1 L837.7,144.0 L840.7,144.0 L843.7,143.9 L846.7,143.9 L849.7,143.8 L852.7,143.8 L855.7,143.7 L858.7,143.7 L861.7,143.6 L864.7,143.6 L867.7,143.5 L870.7,143.5 L873.7,143.4 L876.7,143.4 L879.7,143.3 L882.7,143.3 L885.7,143.2 L888.7,143.2 L891.7,143.1 L894.7,143.1 L897.7,143.0 L900.7,143.0 L903.7,142.9 L906.7,142.9 L909.7,142.8 L912.7,142.8 L915.7,142.7 L918.7,142.6 L921.7,142.6 L924.7,142.5 L927.7,142.5 L930.7,142.4 L933.7,142.4 L936.7,142.3 L939.7,142.3 L942.7,142.2 L945.7,142.2 L948.7,142.1 L951.7,142.1 L954.7,142.0 L957.7,142.0 L960.7,141.9 L963.7,141.9 L966.7,141.8 L969.7,141.8 L972.7,141.8 L975.7,141.7 L978.7,141.7 L981.7,141.7 L984.7,141.6 L987.7,141.6 L990.7,141.6 L993.7,141.5 L996.7,141.5 L999.7,141.5 L1002.7,141.5 L1005.7,141.4 L1008.7,141.4 L1011.7,141.4 L1014.7,141.4 L1017.7,141.3 L1020.7,141.3 L1023.7,141.3 L1026.7,141.2 L1029.7,141.2 L1032.7,141.2 L1035.7,141.1 L1038.7,141.1 L1041.7,141.1 L1044.7,141.0 L1047.7,141.0 L1050.7,141.0 L1053.7,140.9 L1056.7,140.9 L1059.7,140.9 L1062.7,140.8 L1065.7,140.8 L1068.7,140.8 L1071.7,140.8 L1074.7,140.8 L1077.7,140.7 L1080.7,140.7 L1083.7,140.7 L1086.7,140.7 L1089.7,140.7 L1092.7,140.7 L1095.7,140.7 L1098.7,140.7 L1101.7,140.7 L1104.7,140.8 L1107.7,140.8 L1110.7,140.8 L1113.7,140.9 L1116.7,140.9 L1119.7,141.0 L1122.7,141.0 L1125.7,141.1 L1128.7,141.2 L1131.7,141.3 L1134.7,141.4 L1137.7,141.6 L1140.7,141.7 L1143.6,141.9 L1146.6,142.1 L1149.6,142.3 L1152.6,142.5 L1155.6,142.8 L1158.6,143.0 L1161.6,143.3 L1164.6,143.6 L1167.5,144.0 L1170.5,144.3 L1173.5,144.7 L1176.5,145.1 L1179.4,145.5 L1182.4,145.9 L1185.4,146.4 L1188.3,146.9 L1191.3,147.4 L1194.2,147.9 L1197.2,148.4 L1200.2,148.9 L1203.1,149.4 L1206.1,150.0 L1209.0,150.6 L1211.9,151.1 L1214.9,151.7 L1217.8,152.3 L1220.8,152.9 L1223.7,153.5 L1226.6,154.2 L1229.5,154.9 L1232.5,155.6 L1235.4,156.3 L1238.3,157.0 L1241.2,157.8 L1244.1,158.5 L1247.0,159.3 L1249.9,160.1 L1252.8,160.9 L1255.6,161.7 L1258.5,162.5 L1261.4,163.4 L1264.3,164.2 L1267.2,165.0 L1270.1,165.8 L1272.9,166.7 L1275.8,167.5 L1278.7,168.4 L1281.6,169.3 L1284.4,170.1 L1287.3,171.0 L1290.2,171.9 L1293.0,172.9 L1295.8,173.8 L1298.7,174.8 L1301.5,175.8 L1304.3,176.8 L1307.1,177.9 L1310.0,178.9 L1312.7,180.0 L1315.5,181.1 L1318.3,182.2 L1321.1,183.3 L1323.9,184.5 L1326.6,185.7 L1329.4,186.9 L1332.1,188.1 L1334.8,189.3 L1337.6,190.6 L1340.3,191.9 L1343.0,193.2 L1345.7,194.5 L1348.3,195.9 L1351.0,197.2 L1353.6,198.6 L1356.3,200.0 L1358.9,201.5 L1361.6,202.9 L1364.2,204.3 L1366.8,205.8 L1369.5,207.2 L1372.1,208.7 L1374.7,210.1 L1377.3,211.6 L1379.9,213.1 L1382.6,214.5 L1385.2,216.0 L1387.8,217.5 L1390.4,218.9 L1393.0,220.4 L1395.6,221.9 L1398.2,223.4 L1400.8,225.0 L1403.3,226.5 L1405.9,228.1 L1408.4,229.7 L1410.9,231.4 L1413.4,233.0 L1415.8,234.8 L1418.3,236.5 L1420.7,238.3 L1423.1,240.0 L1425.5,241.8 L1427.9,243.7 L1430.2,245.5 L1432.6,247.4 L1434.9,249.2 L1437.3,251.1 L1439.6,253.0 L1441.9,254.9 L1444.3,256.8 L1446.6,258.7 L1448.8,260.7 L1451.1,262.6 L1453.3,264.6 L1455.6,266.6 L1457.8,268.7 L1459.9,270.7 L1462.0,272.8 L1464.2,275.0 L1466.2,277.1 L1468.3,279.3 L1470.3,281.5 L1472.3,283.8 L1474.2,286.0 L1476.1,288.3 L1478.0,290.7 L1479.9,293.0 L1481.8,295.3 L1483.6,297.7 L1485.4,300.1 L1487.2,302.5 L1489.0,304.9 L1490.7,307.4 L1492.4,309.8 L1494.1,312.3 L1495.8,314.8 L1497.4,317.3 L1499.1,319.8 L1500.7,322.3 L1502.3,324.9 L1503.9,327.4 L1505.5,329.9 L1507.1,332.5 L1508.7,335.0 L1510.3,337.6 L1511.9,340.1 L1513.5,342.6 L1515.1,345.2 L1516.7,347.7 L1518.3,350.2 L1519.9,352.8 L1521.5,355.3 L1523.1,357.8 L1524.7,360.4 L1526.3,362.9 L1527.9,365.5 L1529.5,368.0 L1531.1,370.5 L1532.7,373.1 L1534.2,375.7 L1535.8,378.2 L1537.3,380.8 L1538.9,383.4 L1540.4,385.9 L1542.0,388.5 L1543.5,391.1 L1545.0,393.7 L1546.5,396.3 L1548.0,398.9 L1549.5,401.5 L1551.1,404.0 L1552.5,406.6 L1554.0,409.2 L1555.5,411.9 L1557.0,414.5 L1558.5,417.1 L1559.9,419.7 L1561.4,422.3 L1562.8,425.0 L1564.2,427.6 L1565.6,430.3 L1567.0,432.9 L1568.4,435.6 L1569.7,438.3 L1571.0,441.0 L1572.3,443.7 L1573.6,446.4 L1574.9,449.1 L1576.1,451.8 L1577.3,454.6 L1578.5,457.3 L1579.7,460.1 L1580.8,462.9 L1581.9,465.6 L1583.0,468.4 L1584.1,471.2 L1585.1,474.0 L1586.2,476.9 L1587.2,479.7 L1588.2,482.5 L1589.2,485.3 L1590.2,488.2 L1591.2,491.0 L1592.2,493.8 L1593.2,496.6 L1594.2,499.5 L1595.2,502.3 L1596.2,505.1 L1597.2,507.9 L1598.2,510.8 L1599.2,513.6 L1600.2,516.4 L1601.2,519.3 L1602.2,522.1 L1603.2,524.9 L1604.1,527.8 L1605.1,530.6 L1606.0,533.5 L1606.9,536.3 L1607.9,539.2 L1608.8,542.0 L1609.7,544.9 L1610.6,547.8 L1611.5,550.6 L1612.4,553.5 L1613.3,556.4 L1614.2,559.2 L1615.0,562.1 L1615.9,564.9 L1616.8,567.8 L1617.7,570.7 L1618.6,573.5 L1619.5,576.4 L1620.4,579.3 L1621.3,582.1 L1622.2,585.0 L1623.1,587.9 L1624.0,590.7 L1624.9,593.6 L1625.8,596.4 L1626.7,599.3 L1627.6,602.2 L1628.5,605.0 L1629.5,607.9 L1630.4,610.7 L1631.3,613.6 L1632.2,616.4 L1633.1,619.3 L1634.1,622.1 L1635.0,625.0 L1635.9,627.9 L1636.8,630.7 L1637.7,633.6 L1638.6,636.4 L1639.5,639.3 L1640.3,642.2 L1641.2,645.1 L1642.0,647.9 L1642.9,650.8 L1643.7,653.7 L1644.5,656.6 L1645.3,659.5 L1646.1,662.4 L1646.8,665.3 L1647.6,668.2 L1648.3,671.1 L1649.1,674.0 L1649.8,676.9 L1650.5,679.8 L1651.2,682.7 L1651.9,685.7 L1652.6,688.6 L1653.3,691.5 L1654.0,694.4 L1654.7,697.3 L1655.4,700.2 L1656.1,703.2 L1656.9,706.1 L1657.6,709.0 L1658.3,711.9 L1659.0,714.8 L1659.8,717.7 L1660.5,720.6 L1661.2,723.5 L1662.0,726.4 L1662.7,729.4 L1663.4,732.3 L1664.1,735.2 L1664.9,738.1 L1665.6,741.0 L1666.3,743.9 L1667.1,746.8 L1667.8,749.7 L1668.5,752.6 L1669.2,755.5 L1669.9,758.5 L1670.7,761.4 L1671.4,764.3 L1672.1,767.2 L1672.8,770.1 L1673.5,773.0 L1674.2,776.0 L1674.9,778.9 L1675.6,781.8 L1676.3,784.7 L1677.0,787.6 L1677.7,790.5 L1678.4,793.4 L1679.1,796.4 L1679.9,799.3 L1680.6,802.2 L1681.3,805.1 L1682.0,808.0 L1682.8,810.9 L1683.5,813.8 L1684.2,816.7 L1685.0,819.6 L1685.7,822.6 L1686.4,825.5 L1687.2,828.4 L1687.9,831.3 L1688.7,834.2 L1689.4,837.1 L1690.2,840.0 L1690.9,842.9 L1691.7,845.8 L1692.4,848.7 L1693.2,851.6 L1693.9,854.5 L1694.7,857.4 L1695.4,860.3 L1696.2,863.2 L1696.9,866.1 L1697.7,869.0 L1698.5,871.9 L1699.2,874.8 L1700.0,877.7 L1700.7,880.6 L1701.5,883.6 L1702.2,886.5 L1703.0,889.4 L1703.7,892.3 L1704.4,895.2 L1705.1,898.1 L1705.9,901.0 L1706.6,903.9 L1707.3,906.8 L1708.0,909.8 L1708.7,912.7 L1709.4,915.6 L1710.1,918.5 L1710.7,921.4 L1711.4,924.4 L1712.1,927.3 L1712.8,930.2 L1713.5,933.1 L1714.1,936.1 L1714.8,939.0 L1715.5,941.9 L1716.1,944.8 L1716.8,947.7 L1717.5,950.7 L1718.1,953.6 L1718.8,956.5 L1719.4,959.5 L1720.1,962.4 L1720.8,965.3 L1721.4,968.2 L1722.1,971.2 L1722.7,974.1 L1723.4,977.0 L1724.0,980.0 L1724.7,982.9 L1725.3,985.8 L1725.9,988.7 L1726.6,991.7 L1727.2,994.6 L1727.8,997.5 L1728.4,1000.5 L1729.1,1003.4 L1729.7,1006.4 L1730.2,1009.3 L1730.8,1012.2 L1731.4,1015.2 L1732.0,1018.1 L1732.5,1021.1 L1733.1,1024.0 L1733.6,1027.0 L1734.2,1029.9 L1734.7,1032.9 L1735.3,1035.8 L1735.8,1038.8 L1736.3,1041.7 L1736.9,1044.7 L1737.4,1047.6 L1737.9,1050.6 L1738.5,1053.5 L1739.0,1056.5 L1739.6,1059.4 L1740.1,1062.4 L1740.6,1065.3 L1741.2,1068.3 L1741.7,1071.2 L1742.3,1074.2 L1742.8,1077.1 L1743.4,1080.1 L1743.9,1083.0 L1744.5,1086.0 L1745.0,1088.9 L1745.6,1091.9 L1746.2,1094.8 L1746.8,1097.8 L1747.4,1100.7 L1748.0,1103.6 L1748.6,1106.6 L1749.2,1109.5 L1749.9,1112.4 L1750.6,1115.4 L1751.2,1118.3 L1751.9,1121.2 L1752.7,1124.1 L1753.4,1127.0 L1754.1,1129.9 L1754.9,1132.8 L1755.6,1135.7 L1756.4,1138.6 L1757.1,1141.5 L1757.9,1144.5 L1758.6,1147.4 L1759.4,1150.3 L1760.1,1153.2 L1760.9,1156.1 L1761.6,1159.0 L1762.4,1161.9 L1763.1,1164.8 L1763.8,1167.7 L1764.5,1170.6 L1765.2,1173.5 L1765.9,1176.5 L1766.6,1179.4 L1767.2,1182.3 L1767.9,1185.2 L1768.5,1188.2 L1769.1,1191.1 L1769.7,1194.0 L1770.3,1197.0 L1770.9,1199.9 L1771.6,1202.9 L1772.2,1205.8 L1772.8,1208.7 L1773.4,1211.7 L1774.0,1214.6 L1774.7,1217.5 L1775.3,1220.4 L1776.0,1223.4 L1776.7,1226.3 L1777.4,1229.2 L1778.1,1232.1 L1778.8,1235.0 L1779.6,1237.9 L1780.4,1240.8 L1781.2,1243.7 L1782.0,1246.6 L1782.9,1249.4 L1783.8,1252.3 L1784.7,1255.1 L1785.7,1258.0 L1786.7,1260.8 L1787.8,1263.6 L1788.8,1266.4 L1790.0,1269.2 L1791.1,1271.9 L1792.4,1274.6 L1793.6,1277.3 L1795.0,1280.0 L1796.4,1282.6 L1798.0,1285.1 L1799.6,1287.6 L1801.3,1290.0 L1802.9,1292.5 L1804.6,1294.9 L1806.4,1297.2 L1808.4,1299.4 L1810.5,1301.6 L1812.6,1303.6 L1814.9,1305.5 L1817.4,1307.2 L1819.9,1308.7 L1822.7,1310.0 L1825.5,1310.8 L1828.5,1311.0 L1831.5,1310.5 L1834.3,1309.5 L1837.0,1308.2 L1839.5,1306.6 L1841.9,1304.8 L1844.1,1302.9 L1846.3,1300.8 L1848.3,1298.6 L1850.1,1296.3 L1851.9,1293.9 L1853.5,1291.5 L1855.2,1289.0 L1856.8,1286.6 L1858.3,1284.1 L1859.7,1281.5 L1861.1,1278.8 L1862.4,1276.2 L1863.6,1273.5 L1864.8,1270.7 L1866.0,1267.9 L1867.1,1265.2 L1868.2,1262.4 L1869.2,1259.6 L1870.3,1256.8 L1871.4,1254.0 L1872.4,1251.2 L1873.5,1248.4 L1874.6,1245.6 L1875.7,1242.8 L1876.8,1240.0 L1877.9,1237.2 L1879.0,1234.4 L1880.2,1231.7 L1881.3,1228.9 L1882.4,1226.1 L1883.6,1223.3 L1884.7,1220.5 L1885.8,1217.8 L1887.0,1215.0 L1888.1,1212.2 L1889.2,1209.4 L1890.3,1206.6 L1891.4,1203.8 L1892.4,1201.0 L1893.5,1198.2 L1894.5,1195.4 L1895.6,1192.6 L1896.6,1189.8 L1897.6,1186.9 L1898.6,1184.1 L1899.6,1181.3 L1900.6,1178.5 L1901.6,1175.6 L1902.6,1172.8 L1903.5,1169.9 L1904.5,1167.1 L1905.4,1164.3 L1906.4,1161.4 L1907.3,1158.6 L1908.2,1155.7 L1909.1,1152.8 L1910.0,1150.0 L1910.9,1147.1 L1911.7,1144.2 L1912.6,1141.4 L1913.4,1138.5 L1914.3,1135.6 L1915.1,1132.7 L1915.9,1129.8 L1916.7,1126.9 L1917.5,1124.0 L1918.3,1121.1 L1919.0,1118.2 L1919.8,1115.3 L1920.6,1112.4 L1921.3,1109.5 L1922.0,1106.6 L1922.8,1103.7 L1923.5,1100.8 L1924.2,1097.9 L1924.9,1095.0 L1925.6,1092.1 L1926.3,1089.1 L1927.0,1086.2 L1927.7,1083.3 L1928.3,1080.4 L1929.0,1077.4 L1929.7,1074.5 L1930.3,1071.6 L1930.9,1068.6 L1931.5,1065.7 L1932.1,1062.8 L1932.7,1059.8 L1933.3,1056.9 L1933.9,1053.9 L1934.4,1051.0 L1934.9,1048.0 L1935.5,1045.1 L1936.0,1042.1 L1936.5,1039.2 L1937.1,1036.2 L1937.6,1033.3 L1938.1,1030.3 L1938.7,1027.4 L1939.2,1024.4 L1939.8,1021.5 L1940.4,1018.5 L1941.0,1015.6 L1941.6,1012.7 L1942.2,1009.7 L1942.8,1006.8 L1943.4,1003.9 L1944.0,1000.9 L1944.7,998.0 L1945.3,995.1 L1946.0,992.1 L1946.6,989.2 L1947.3,986.3 L1947.9,983.3 L1948.6,980.4 L1949.3,977.5 L1949.9,974.6 L1950.6,971.6 L1951.3,968.7 L1952.0,965.8 L1952.6,962.9 L1953.3,960.0 L1954.0,957.0 L1954.7,954.1 L1955.3,951.2 L1956.0,948.3 L1956.7,945.3 L1957.4,942.4 L1958.0,939.5 L1958.7,936.6 L1959.4,933.6 L1960.1,930.7 L1960.7,927.8 L1961.4,924.9 L1962.1,921.9 L1962.7,919.0 L1963.4,916.1 L1964.0,913.2 L1964.7,910.2 L1965.4,907.3 L1966.0,904.4 L1966.7,901.5 L1967.3,898.5 L1967.9,895.6 L1968.6,892.7 L1969.2,889.7 L1969.9,886.8 L1970.5,883.9 L1971.2,880.9 L1971.8,878.0 L1972.5,875.1 L1973.1,872.2 L1973.8,869.2 L1974.4,866.3 L1975.1,863.4 L1975.8,860.5 L1976.5,857.5 L1977.1,854.6 L1977.8,851.7 L1978.5,848.8 L1979.2,845.9 L1980.0,842.9 L1980.7,840.0 L1981.5,837.1 L1982.2,834.2 L1983.0,831.3 L1983.8,828.5 L1984.6,825.6 L1985.5,822.7 L1986.3,819.8 L1987.2,817.0 L1988.1,814.1 L1989.1,811.3 L1990.0,808.4 L1991.0,805.6 L1992.0,802.7 L1993.0,799.9 L1994.0,797.1 L1995.1,794.3 L1996.2,791.5 L1997.2,788.7 L1998.3,785.9 L1999.5,783.1 L2000.6,780.4 L2001.7,777.6 L2002.9,774.8 L2004.1,772.1 L2005.3,769.3 L2006.5,766.6 L2007.7,763.8 L2008.9,761.1 L2010.1,758.3 L2011.3,755.6 L2012.5,752.9 L2013.7,750.1 L2014.9,747.3 L2016.0,744.6 L2017.2,741.8 L2018.2,739.0 L2019.3,736.2 L2020.2,733.4 L2021.2,730.5 L2022.1,727.7 L2022.9,724.8 L2023.7,721.9 L2024.5,719.0 L2025.3,716.1 L2026.0,713.2 L2026.7,710.3 L2027.4,707.4 L2028.1,704.5 L2028.8,701.6 L2029.4,698.6 L2030.1,695.7 L2030.8,692.8 L2031.5,689.9 L2032.2,687.0 L2033.0,684.1 L2033.7,681.1 L2034.4,678.2 L2035.2,675.3 L2035.9,672.4 L2036.7,669.5 L2037.5,666.6 L2038.2,663.7 L2039.0,660.8 L2039.8,657.9 L2040.7,655.1 L2041.5,652.2 L2042.3,649.3 L2043.2,646.4 L2044.0,643.5 L2044.9,640.7 L2045.8,637.8 L2046.7,634.9 L2047.5,632.1 L2048.4,629.2 L2049.3,626.3 L2050.2,623.5 L2051.1,620.6 L2052.0,617.7 L2052.9,614.9 L2053.8,612.0 L2054.7,609.1 L2055.5,606.3 L2056.4,603.4 L2057.3,600.6 L2058.2,597.7 L2059.1,594.8 L2060.0,592.0 L2060.9,589.1 L2061.8,586.2 L2062.7,583.4 L2063.6,580.5 L2064.5,577.6 L2065.4,574.8 L2066.3,571.9 L2067.2,569.1 L2068.1,566.2 L2069.0,563.4 L2070.0,560.5 L2070.9,557.6 L2071.8,554.8 L2072.7,551.9 L2073.7,549.1 L2074.6,546.2 L2075.5,543.4 L2076.5,540.5 L2077.4,537.7 L2078.4,534.8 L2079.3,532.0 L2080.3,529.1 L2081.2,526.3 L2082.2,523.5 L2083.1,520.6 L2084.1,517.8 L2085.1,514.9 L2086.1,512.1 L2087.0,509.3 L2088.0,506.4 L2089.0,503.6 L2090.0,500.8 L2091.0,497.9 L2092.0,495.1 L2093.0,492.3 L2094.0,489.5 L2095.0,486.6 L2096.0,483.8 L2097.1,481.0 L2098.1,478.2 L2099.2,475.4 L2100.2,472.6 L2101.3,469.8 L2102.4,467.0 L2103.5,464.2 L2104.6,461.4 L2105.7,458.6 L2106.8,455.8 L2108.0,453.1 L2109.2,450.3 L2110.4,447.6 L2111.6,444.8 L2112.9,442.1 L2114.2,439.4 L2115.5,436.7 L2116.8,434.0 L2118.2,431.4 L2119.6,428.7 L2121.0,426.1 L2122.4,423.4 L2123.9,420.8 L2125.3,418.2 L2126.8,415.6 L2128.2,412.9 L2129.7,410.3 L2131.1,407.7 L2132.6,405.1 L2134.1,402.5 L2135.5,399.8 L2137.0,397.2 L2138.4,394.6 L2139.9,392.0 L2141.3,389.3 L2142.8,386.7 L2144.2,384.1 L2145.6,381.4 L2147.1,378.8 L2148.5,376.1 L2149.9,373.5 L2151.3,370.9 L2152.7,368.2 L2154.2,365.6 L2155.6,362.9 L2157.0,360.3 L2158.4,357.6 L2159.8,355.0 L2161.2,352.3 L2162.7,349.7 L2164.1,347.1 L2165.5,344.4 L2166.9,341.8 L2168.3,339.1 L2169.7,336.5 L2171.1,333.8 L2172.5,331.2 L2173.9,328.5 L2175.3,325.8 L2176.6,323.2 L2178.0,320.5 L2179.3,317.8 L2180.6,315.1 L2181.9,312.4 L2183.1,309.7 L2184.4,306.9 L2185.6,304.2 L2186.8,301.4 L2188.0,298.7 L2189.2,296.0 L2190.4,293.2 L2191.6,290.4 L2192.7,287.7 L2193.9,284.9 L2195.0,282.1 L2196.1,279.3 L2197.2,276.5 L2198.3,273.8 L2199.4,271.0 L2200.5,268.2 L2201.6,265.4 L2202.7,262.6 L2203.7,259.8 L2204.8,256.9 L2205.8,254.1 L2206.9,251.3 L2207.9,248.5 L2208.9,245.7 L2210.0,242.9 L2211.0,240.0 L2212.0,237.2 L2213.0,234.4 L2214.0,231.6 L2215.0,228.7 L2216.0,225.9 L2217.0,223.1 L2218.0,220.3 L2219.0,217.4 L2220.0,214.6 L2220.9,211.7 L2221.9,208.9 L2222.9,206.1 L2223.8,203.2 L2224.8,200.4 L2225.7,197.5 L2226.7,194.7 L2227.6,191.8 L2228.6,189.0 L2229.7,186.2 L2230.7,183.4 L2231.7,180.6 L2232.8,177.8 L2233.9,175.0 L2235.0,172.2 L2236.2,169.4 L2237.5,166.7 L2238.8,164.0 L2240.2,161.4 L2241.7,158.8 L2243.3,156.3 L2244.9,153.8 L2246.5,151.3 L2248.2,148.9 L2250.0,146.6 L2251.9,144.4 L2253.9,142.2 L2256.0,140.1 L2258.2,138.1 L2260.4,136.2 L2262.7,134.4 L2265.1,132.7 L2267.6,131.1 L2270.1,129.6 L2272.7,128.1 L2275.3,126.7 L2277.9,125.3 L2280.6,124.0 L2283.2,122.6 L2285.8,121.2 L2288.4,119.8 L2290.9,118.2 L2293.3,116.6 L2295.6,114.9 L2297.9,113.1 L2300.0,111.2 L2302.0,109.2 L2304.0,107.0 L2305.8,104.8 L2307.6,102.5 L2309.2,100.0 L2310.7,97.5 L2312.1,94.8 L2313.4,92.1 L2314.5,89.4 L2315.6,86.6 L2316.6,83.8 L2317.7,80.9 L2318.0,80.0" fill="none" stroke="#00bfbf" stroke-width="15" stroke-linejoin="round" stroke-linecap="square"/>
</g>
<g stroke="#000" fill="none">
<line x1="325" y1="51.5" x2="325" y2="1321.4" stroke-width="4" stroke-opacity="0.5"/>
<line x1="323" y1="53.5" x2="2318.5" y2="53.5" stroke-width="4" stroke-opacity="0.48"/>
<line x1="323" y1="1319.4" x2="2318.5" y2="1319.4" stroke-width="4" stroke-opacity="0.48"/>
<line x1="2314.75" y1="55.5" x2="2314.75" y2="1317.4" stroke-width="7" stroke-opacity="0.3"/>
<g stroke-width="4" stroke-opacity="0.5"><line x1="403.0" y1="1321" x2="403.0" y2="1331"/><line x1="721.3" y1="1321" x2="721.3" y2="1331"/><line x1="1039.6" y1="1321" x2="1039.6" y2="1331"/><line x1="1357.9" y1="1321" x2="1357.9" y2="1331"/><line x1="1676.2" y1="1321" x2="1676.2" y2="1331"/><line x1="1994.5" y1="1321" x2="1994.5" y2="1331"/><line x1="2312.8" y1="1321" x2="2312.8" y2="1331"/><line x1="312" y1="1319.4" x2="323" y2="1319.4"/><line x1="312" y1="1066.2" x2="323" y2="1066.2"/><line x1="312" y1="813.0" x2="323" y2="813.0"/><line x1="312" y1="559.9" x2="323" y2="559.9"/><line x1="312" y1="306.7" x2="323" y2="306.7"/><line x1="312" y1="53.5" x2="323" y2="53.5"/></g>
</g>
<g font-size="87" fill="#000" text-anchor="middle">
<text x="403.0" y="1405">1520</text><text x="721.3" y="1405">1540</text><text x="1039.6" y="1405">1560</text><text x="1357.9" y="1405">1580</text><text x="1676.2" y="1405">1600</text><text x="1994.5" y="1405">1620</text><text x="2312.8" y="1405">1640</text>
</g>
<g font-size="84" fill="#000" text-anchor="end">
<text x="297.5" y="1349.4">0.0</text><text x="297.5" y="1096.2">0.2</text><text x="297.5" y="843.0">0.4</text><text x="297.5" y="589.9">0.6</text><text x="297.5" y="336.7">0.8</text><text x="297.5" y="83.5">1.0</text>
</g>
<text x="1317.3" y="1538.5" font-size="136" letter-spacing="-1.15" text-anchor="middle" fill="#000">Wavelength (nm)</text>
<text transform="translate(118,685) rotate(-90)" font-size="136" letter-spacing="-0.97" text-anchor="middle" fill="#000">Transmission</text>
<g>
<rect x="1773" y="735" width="511.5" height="552.5" rx="8" ry="8" fill="#ffffff" fill-opacity="0.8" stroke="#e0e0e0" stroke-width="4"/>
<g font-size="60" fill="#262626">
<line x1="1798" y1="784.0" x2="1895" y2="784.0" stroke="#0000ff" stroke-width="15"/><text x="1966" y="805.0">r: 200 nm</text><line x1="1791" y1="873.2" x2="1926" y2="873.2" stroke="#008000" stroke-width="15"/><text x="1966" y="894.2">r: 220 nm</text><line x1="1798" y1="962.4" x2="1895" y2="962.4" stroke="#bf00bf" stroke-width="15"/><text x="1966" y="983.4">r: 240 nm</text><line x1="1791" y1="1051.6" x2="1926" y2="1051.6" stroke="#ff0000" stroke-width="15"/><text x="1966" y="1072.6">r: 260 nm</text><line x1="1798" y1="1140.8" x2="1895" y2="1140.8" stroke="#000000" stroke-width="15"/><text x="1966" y="1161.8">r: 280 nm</text><line x1="1791" y1="1230.0" x2="1926" y2="1230.0" stroke="#00bfbf" stroke-width="15"/><text x="1966" y="1251.0">r: 300 nm</text>
</g>
</g>
</svg>
</body></html>
